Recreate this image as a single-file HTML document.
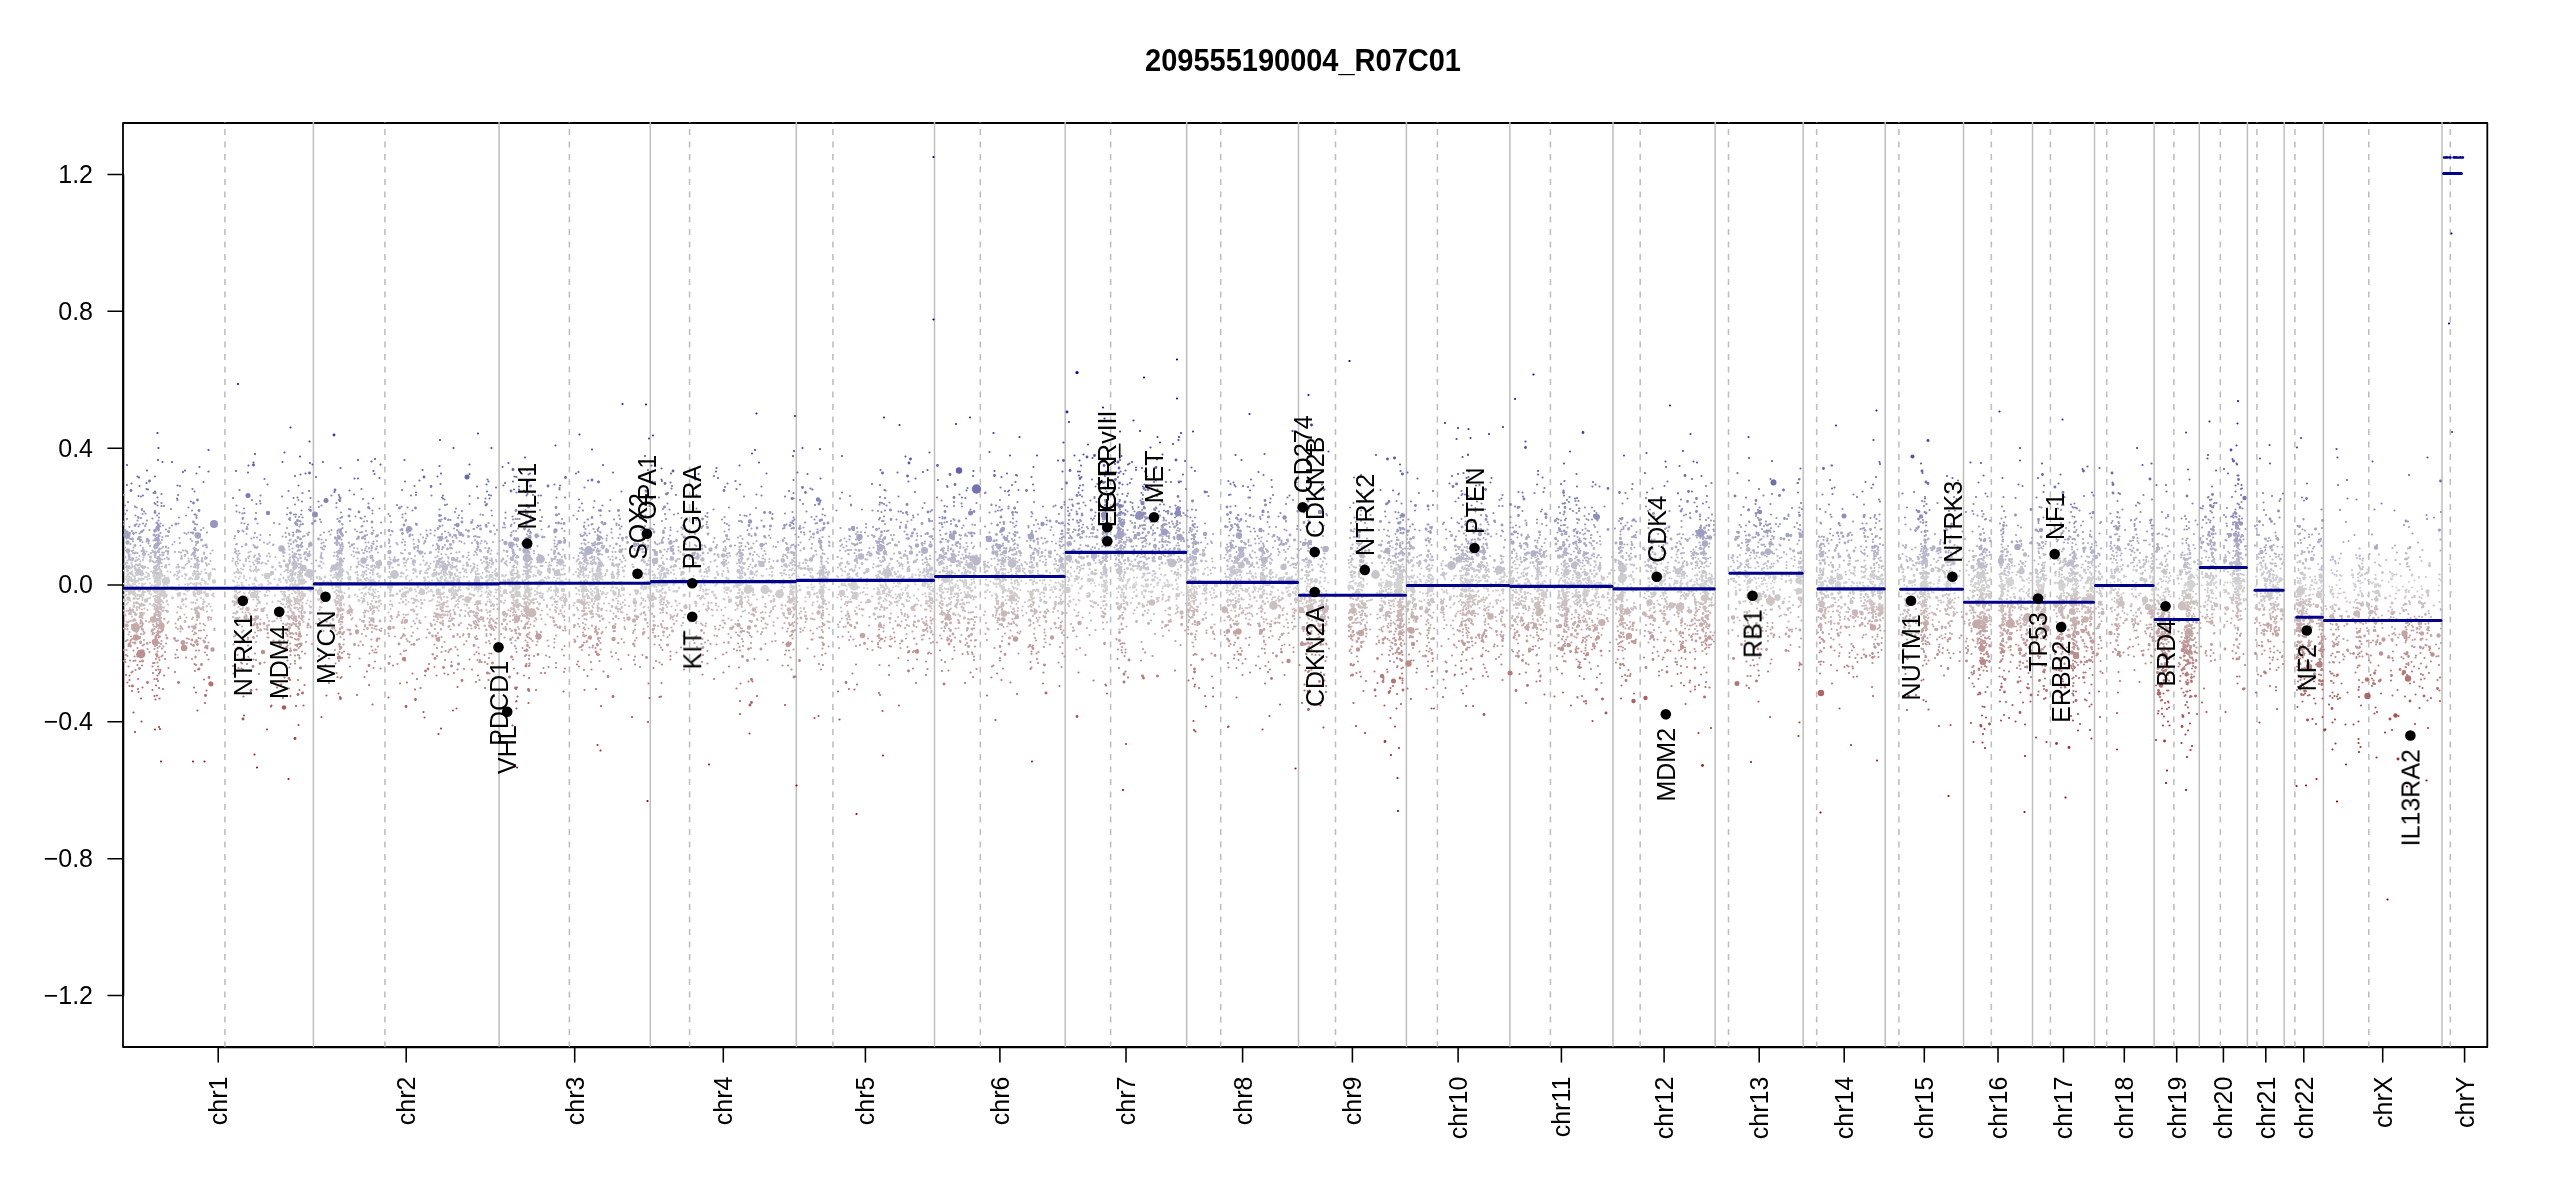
<!DOCTYPE html><html><head><meta charset="utf-8"><style>html,body{margin:0;padding:0;background:#fff;overflow:hidden}svg{display:block}text{font-family:"Liberation Sans",sans-serif}</style></head><body>
<svg width="2550" height="1200" viewBox="0 0 2550 1200">
<rect width="2550" height="1200" fill="#fff"/>
<text transform="translate(1303 70.9) scale(1 1.05)" font-size="29" font-weight="bold" text-anchor="middle" style="filter:grayscale(1)">209555190004_R07C01</text>
<defs><clipPath id="pc"><rect x="123" y="123" width="2364.3" height="924"/></clipPath></defs>
<rect x="123" y="123" width="2364.3" height="924" fill="none" stroke="#000" stroke-width="1.8" stroke-linejoin="round"/>
<path stroke="#bebebe" stroke-width="1.5" fill="none" d="M313.4 122V1047M499.1 122V1047M650.3 122V1047M796.3 122V1047M934.5 122V1047M1065.2 122V1047M1186.7 122V1047M1298.5 122V1047M1406.4 122V1047M1509.9 122V1047M1613 122V1047M1715.2 122V1047M1803.2 122V1047M1885.2 122V1047M1963.5 122V1047M2032.5 122V1047M2094.5 122V1047M2154.1 122V1047M2199.3 122V1047M2247.4 122V1047M2284.2 122V1047M2323.4 122V1047M2442 122V1047"/>
<path stroke="#bebebe" stroke-width="1.56" fill="none" stroke-dasharray="5.9 6.6" d="M224.9 1047.5V122M384.9 1047.5V122M569.4 1047.5V122M689.6 1047.5V122M832.9 1047.5V122M980.3 1047.5V122M1110.6 1047.5V122M1220.7 1047.5V122M1335.5 1047.5V122M1437.4 1047.5V122M1550.4 1047.5V122M1640.2 1047.5V122M1728.5 1047.5V122M1816.7 1047.5V122M1898.9 1047.5V122M1991.3 1047.5V122M2050.4 1047.5V122M2106.7 1047.5V122M2173.9 1047.5V122M2220.3 1047.5V122M2256.9 1047.5V122M2294.9 1047.5V122M2368.8 1047.5V122M2450.3 1047.5V122"/>
<path stroke="#000" stroke-width="1.56" fill="none" d="M123.5 174.5V995.5M107.4 174.5H123M107.4 311.3H123M107.4 448.2H123M107.4 585H123M107.4 721.8H123M107.4 858.7H123M107.4 995.5H123M218.2 1047.5H2464.6M218.2 1047V1062.6M406.2 1047V1062.6M574.7 1047V1062.6M723.3 1047V1062.6M865.4 1047V1062.6M999.9 1047V1062.6M1126 1047V1062.6M1242.6 1047V1062.6M1352.4 1047V1062.6M1458.1 1047V1062.6M1561.4 1047V1062.6M1664.1 1047V1062.6M1759.2 1047V1062.6M1844.2 1047V1062.6M1924.3 1047V1062.6M1998 1047V1062.6M2063.5 1047V1062.6M2124.3 1047V1062.6M2176.7 1047V1062.6M2223.4 1047V1062.6M2265.8 1047V1062.6M2303.8 1047V1062.6M2382.7 1047V1062.6M2464.6 1047V1062.6"/>
<g clip-path="url(#pc)">
<g fill="none" stroke-linecap="round" transform="scale(0.5)">
<path stroke="#7b7bb5" stroke-width="4.4" d="m247 990h0m30 2h0m5 1h0m4-2h0m21-5h0m4 0h0m4 9h0m8-7h0m31 9h0m2-7h0m110 6h0m55-5h0m43 2h0m23 3h0m8-1h0m10-9h0m16 10h0m42-5h0m15-1h0m1 4h0m2 2h0m27-7h0m18 9h0m20-1h0m76-6h0m10-1h0m31 1h0m21 4h0m2-4h0m0 6h0m53-5h0m17 4h0m15 1h0m7-7h0m1 7h0m3-6h0m71 0h0m2-3h0m11 2h0m11 1h0m5 0h0m31 4h0m17 0h0m28 4h0m152-6h0m8 2h0m18-9h0m16 4h0m41 0h0m95 3h0m25-4h0m10 2h0m47 2h0m17-7h0m0 11h0m93 0h0m4-12h0m16 7h0m60 2h0m10 2h0m27-3h0m77 2h0m45-6h0m5 6h0m7 1h0m39-10h0m1-1h0m47 5h0m126 9h0m16-9h0m4 3h0m25 1h0m0 2h0m14-6h0m7-3h0m25 2h0m10-1h0m9 4h0m2-5h0m27-1h0m2 12h0m1-8h0m10 8h0m9-6h0m9 0h0m7-6h0m96 6h0m41-2h0m3-1h0m36 6h0m3 0h0m41 2h0m5-7h0m29 5h0m4-4h0m67 4h0m77-8h0m74 2h0m1-2h0m40-1h0m79 10h0m6-6h0m2-2h0m5 1h0m7 3h0m5 4h0m1 0h0m60 1h0m2-7h0m41 3h0m23-7h0m59 5h0m11 3h0m11 3h0m4-1h0m97-10h0m4 11h0m37-1h0m31-2h0m33-7h0m0-1h0m6 13h0m52-7h0m78 3h0m35-4h0m17-3h0m101 1h0m20-1h0m42 1h0m7 5h0m91-7h0m45 10h0m0-3h0m58 0h0m5 4h0m39-4h0m19-7h0m4 6h0m32 1h0m24 2h0m42-1h0m56-1h0m39-2h0m19-1h0m50-5h0m3 2h0m47 2h0m129 5h0m1-1h0m47 0h0m18-4h0m8 4h0m36-8h0m18 6h0m17 6h0m5-11h0m38 8h0m91 2h0"/><path stroke="#c7b1b1" stroke-width="4.4" d="m253 1243h0m5 0h0m4-1h0m2-9h0m5 5h0m2 3h0m8-7h0m2 6h0m0 4h0m1-10h0m1 8h0m1-7h0m1 1h0m7 6h0m6 2h0m11-10h0m0 8h0m0-2h0m1-4h0m0 6h0m1-4h0m1 2h0m1 2h0m0-1h0m2-3h0m1 2h0m1-8h0m0 7h0m1-6h0m1 8h0m0 2h0m0-5h0m0 6h0m1-8h0m1 5h0m0-6h0m1 8h0m0-7h0m6 2h0m1 0h0m8 5h0m19-3h0m1-3h0m3-4h0m1 3h0m12-1h0m11 3h0m2-3h0m8 5h0m22-4h0m1 4h0m5-1h0m0-4h0m44-1h0m5 2h0m0 8h0m8-9h0m16 7h0m2-4h0m7 3h0m6 4h0m1-12h0m10 6h0m14-4h0m3 7h0m7 1h0m4-1h0m5-5h0m6-4h0m2 8h0m14-9h0m2 6h0m1-5h0m1 1h0m4 3h0m3 3h0m1-3h0m4 2h0m2 2h0m4-6h0m0-3h0m0 2h0m1 9h0m3-6h0m2 0h0m1 3h0m2-7h0m0 11h0m11-5h0m20-1h0m2 3h0m19-5h0m15-2h0m0 0h0m4 10h0m0-3h0m2-3h0m0 5h0m2-8h0m0-1h0m1-1h0m1 4h0m0 1h0m2-4h0m17 5h0m2-3h0m15 3h0m4 3h0m3 0h0m2-8h0m10 2h0m0 8h0m8 0h0m34-2h0m3-5h0m10-3h0m11 6h0m3-5h0m19 7h0m6-5h0m6 8h0m0-4h0m12-7h0m17-1h0m0 7h0m4-7h0m2 10h0m1-9h0m1 4h0m4 7h0m0-11h0m1 1h0m4 8h0m0-8h0m1 7h0m12 0h0m1-5h0m2 5h0m0-10h0m3 5h0m0 3h0m4-3h0m12-5h0m10 0h0m9 0h0m8 11h0m4-1h0m2-8h0m0 11h0m2-8h0m1 3h0m2 3h0m1-6h0m2 2h0m1-5h0m5 8h0m8-5h0m5 3h0m2-3h0m3 2h0m2 3h0m4 3h0m3-8h0m14 5h0m3-3h0m1-6h0m8-1h0m0 11h0m6-3h0m4 5h0m1-9h0m1 2h0m3 6h0m5-12h0m3 10h0m7-10h0m6 5h0m1 6h0m1-5h0m0-1h0m1-5h0m10 10h0m2-6h0m2 3h0m10-1h0m18-4h0m28 6h0m29-3h0m7-5h0m4 6h0m4 1h0m10-4h0m3-2h0m13 1h0m1 8h0m3-10h0m16 13h0m7-8h0m0 1h0m11-1h0m11-1h0m1 5h0m24-7h0m1 4h0m16 0h0m17 4h0m19 0h0m15-5h0m1-3h0m2-1h0m2 1h0m0 5h0m7 3h0m1-10h0m13 3h0m26 8h0m52-2h0m2 0h0m10-4h0m6 3h0m13 1h0m6-8h0m17 9h0m15-4h0m1 2h0m8-5h0m0 7h0m16-10h0m8 12h0m8-8h0m16-1h0m4 1h0m11-2h0m3 10h0m6-7h0m16 7h0m11-7h0m3 1h0m4 1h0m14-7h0m0 3h0m2 2h0m10 6h0m1 0h0m3 1h0m21 0h0m4-7h0m10 0h0m1 2h0m5 0h0m39-5h0m12 4h0m9-4h0m2-1h0m5 1h0m1-2h0m11 4h0m1 9h0m11-3h0m5-8h0m7 9h0m6-11h0m3 8h0m4-5h0m1-2h0m13-1h0m14 6h0m2 6h0m6-10h0m1 8h0m8-1h0m0-6h0m1 7h0m3-3h0m1-1h0m17 6h0m1 1h0m2-2h0m9-8h0m1 3h0m3 2h0m3-2h0m14 2h0m2 2h0m2-10h0m16 6h0m3 1h0m4-1h0m3 1h0m3-5h0m1 10h0m3-10h0m33-2h0m5 3h0m4 6h0m4-1h0m26-2h0m2 5h0m3-6h0m31 5h0m5-10h0m7 4h0m2 7h0m1-3h0m3-5h0m8-3h0m30 4h0m5 9h0m2-2h0m29-11h0m5 12h0m7-9h0m17 6h0m21-9h0m3 13h0m1-12h0m7 12h0m23-7h0m2-2h0m63 5h0m23 2h0m16-4h0m1 4h0m21-7h0m14 8h0m1-11h0m0 7h0m3-4h0m3-2h0m1 1h0m5 9h0m22-8h0m37 5h0m6-7h0m5 6h0m2-3h0m4 4h0m5-7h0m2 9h0m1 0h0m3-11h0m15 5h0m7 2h0m6-7h0m18 2h0m4 4h0m1 6h0m0 0h0m4-5h0m1 0h0m10 3h0m8-5h0m4 8h0m18-6h0m11 6h0m4-13h0m1 6h0m11-3h0m15-2h0m2 4h0m1 1h0m6 3h0m9 1h0m4-3h0m4-4h0m1-2h0m2 4h0m1-1h0m1-2h0m1 5h0m2-5h0m0 4h0m1 0h0m0-6h0m0 1h0m3 10h0m3-9h0m1 2h0m41-1h0m3 4h0m1-5h0m1 3h0m0-3h0m1 0h0m4 11h0m3-5h0m1-2h0m3-2h0m1 9h0m4 0h0m2-10h0m2 6h0m3-2h0m7 6h0m21-8h0m5-2h0m11 2h0m1 3h0m0-7h0m5-1h0m5 9h0m11 0h0m1-9h0m2 3h0m0 4h0m1 2h0m2-3h0m1 2h0m3-6h0m15 4h0m0 7h0m9-4h0m2-8h0m1 4h0m2-2h0m0 5h0m2-7h0m0 3h0m8-4h0m12 10h0m2-3h0m5-7h0m3 4h0m1-1h0m22-1h0m2 6h0m17 1h0m5-8h0m13 10h0m1-6h0m3 5h0m2 0h0m3-2h0m3-2h0m3-1h0m4 3h0m0-1h0m1 4h0m6-11h0m19 12h0m2-6h0m0 4h0m20-8h0m2 8h0m9-4h0m0 4h0m1 1h0m1-10h0m20 3h0m1-4h0m3 8h0m0 1h0m2 1h0m1-4h0m1 6h0m9-1h0m0-2h0m2-2h0m0-4h0m22-3h0m1 6h0m0 7h0m9-6h0m1 3h0m5-7h0m4 3h0m2 6h0m6 1h0m23-3h0m9-10h0m5 9h0m1-1h0m0-4h0m3 2h0m0-2h0m1 7h0m8-5h0m6-3h0m8-1h0m0 9h0m1 1h0m0-7h0m2 5h0m1 3h0m4-10h0m1 6h0m2-9h0m0 12h0m1-2h0m2 0h0m0-4h0m2 6h0m6-7h0m5 4h0m1 3h0m10-7h0m3 8h0m1-4h0m17 1h0m22 1h0m1-2h0m2-4h0m1 3h0m0-7h0m1 8h0m0 3h0m1-12h0m0 8h0m1-5h0m15 9h0m31-12h0m5 1h0m2 1h0m1 2h0m8 0h0m0 5h0m3 1h0m17 0h0m4-3h0m7 4h0m19-10h0m7 4h0m19 6h0m2-3h0m4-4h0m1 1h0m3 3h0m4 1h0m1-1h0m1 0h0m6-5h0m1 5h0m1 3h0m3 1h0m2 1h0m56 0h0m7-10h0m4 6h0m13-3h0m3 4h0m6-9h0m58 0h0m18 10h0m20-9h0m6 7h0m34-7h0m12 1h0m0-1h0m2 2h0m6 8h0m5-10h0m18 6h0m0-6h0m9 4h0m1-5h0m6 4h0m2 3h0m3-8h0m8 3h0m2 7h0m5-8h0m7 2h0m7 2h0m1-3h0m13 8h0m1-9h0m1-1h0m0 3h0m4 6h0m1-2h0m1-6h0m8 5h0m1 2h0m5-5h0m41 0h0m4 0h0m0 6h0m1-9h0m1-1h0m4 13h0m2-7h0m12-4h0m13 11h0m4-9h0m0-4h0m2 7h0m1-6h0m0 7h0m0-6h0m0 9h0m1-9h0m2 8h0m2-5h0m0 7h0m1-9h0m8 5h0m13 4h0m19 1h0m4-3h0m3 0h0m25 1h0m9-3h0m9-8h0m0 5h0m1-3h0m7-1h0m2 0h0m1 7h0m0-6h0m2 2h0m0 7h0m1 2h0m0-8h0m0 5h0m1-8h0m0 3h0m0 5h0m5 2h0m1-11h0m2 2h0m0-2h0m2 11h0m2 0h0m2-2h0m3-6h0m1-3h0m0 8h0m27-7h0m1 4h0m2-2h0m1 5h0m8 4h0m1-5h0m0-3h0m1 6h0m1 1h0m1-6h0m16 2h0m1-5h0m5 3h0m3 3h0m1 3h0m3-8h0m8-2h0m21-2h0m4 0h0m0 10h0m2-1h0m2-3h0m2-3h0m2 3h0m0-3h0m20 9h0m1-11h0m11 11h0m2-8h0m0-3h0m2 3h0m6 0h0m7 1h0m2 3h0m2 4h0m0-7h0m0 5h0m1 2h0m1 1h0m1-7h0m1-2h0m2 5h0m12-8h0m0 9h0m2 3h0m4-10h0m7 2h0m3 6h0m2-9h0m1 2h0m16-2h0m4 8h0m30-5h0m0 3h0m1-2h0m7-3h0m9 6h0m14 2h0m0-5h0m2 2h0m4 2h0m0-4h0m3-5h0m1 0h0m7 9h0m21-7h0m3-2h0m7 12h0m6-11h0m12 10h0m2-7h0m1 0h0m7 1h0m0 6h0m18-1h0m6-3h0m7 0h0m2-2h0m0 3h0m1-9h0m0 6h0m2 4h0m0 2h0m1-5h0m0-6h0m7 2h0m2 9h0m1 0h0m2-11h0m6 8h0m10-8h0m9 10h0m1-10h0m3 11h0m2-7h0m4 4h0m1-6h0m29 8h0m9-6h0m11-4h0m0 0h0m0 0h0m1 2h0m1-3h0m1 8h0m3-1h0m3-1h0m58-6h0m0 3h0m1 2h0m0 2h0m4-5h0m2 9h0m2-4h0m1-4h0m2 9h0m1-12h0m39 7h0m2 1h0m0-5h0m0 6h0m1 1h0m0 0h0m4-4h0m0 4h0m3-10h0m4 7h0m1-1h0m3-1h0m8-5h0m1 10h0m1-3h0m2-3h0m3 7h0m11-3h0m2 0h0m3-2h0m1 3h0m2 3h0m0 0h0m0-10h0m16 1h0m2 7h0m1-1h0m3-4h0m1-1h0m12-4h0m3 2h0m1-2h0m0 5h0m50 4h0m19 0h0m4-6h0m22 3h0m3-4h0m5 1h0m6 3h0m19 3h0m3-3h0m2 6h0m4-8h0m1 8h0m7-11h0m9 0h0m6 1h0m18 0h0m0 9h0m12-2h0m7-1h0"/><path stroke="#bfbfcc" stroke-width="4.4" d="m252 1133h0m0 1h0m0-9h0m1 7h0m0 3h0m2-9h0m2 7h0m6-7h0m1 4h0m1 4h0m4-2h0m3-3h0m2 1h0m2 1h0m2 5h0m3-13h0m1 9h0m1 2h0m2-2h0m2 3h0m9 1h0m11-12h0m1 11h0m2-10h0m1 7h0m2 0h0m0-9h0m1 0h0m1 2h0m0 5h0m1-6h0m1 5h0m0-6h0m1 12h0m1-2h0m1-9h0m1 2h0m2 0h0m1 7h0m6 1h0m2 1h0m6-6h0m15 6h0m3-6h0m8 6h0m7-5h0m3-3h0m8 6h0m6 1h0m2-5h0m0-1h0m1 7h0m3-9h0m2 5h0m2-2h0m0-6h0m7 0h0m7 3h0m1 2h0m1 3h0m4-3h0m47-6h0m6 2h0m0 4h0m2 4h0m1-9h0m2 4h0m11 2h0m1 3h0m11-9h0m2 10h0m5-8h0m2 4h0m4 5h0m2-11h0m1 4h0m8 0h0m2-2h0m6 2h0m2 1h0m26 4h0m0-7h0m0 1h0m13 6h0m5-3h0m2-2h0m1-3h0m7 0h0m3 7h0m1-8h0m1 5h0m1-2h0m4 2h0m1 7h0m2-7h0m2 2h0m0 5h0m0-3h0m0 1h0m1-10h0m20 4h0m14 5h0m4-9h0m2 1h0m4 3h0m26 1h0m1 3h0m0 1h0m3-1h0m2-5h0m1 2h0m0 5h0m1-8h0m0 1h0m0 1h0m0 8h0m0-4h0m0-8h0m1 1h0m1 6h0m0-4h0m1 5h0m2-8h0m16 11h0m15-9h0m0 4h0m0-6h0m4 6h0m3 3h0m3 2h0m1-8h0m5 9h0m0-5h0m3 0h0m9 1h0m3 0h0m4-5h0m4 8h0m3 1h0m20 1h0m0-6h0m0 3h0m3-6h0m1-1h0m2 9h0m23-9h0m2 6h0m2-7h0m13 2h0m3 3h0m13-1h0m10 1h0m2-3h0m1-2h0m4 7h0m3-5h0m7-4h0m4 11h0m5-5h0m2-5h0m0 11h0m2-10h0m2 6h0m0 2h0m1-1h0m1-7h0m0-1h0m3 6h0m0-7h0m1 8h0m1-2h0m0-1h0m1 7h0m4-4h0m1-8h0m2 7h0m0-4h0m2 3h0m1 5h0m3-3h0m0 2h0m1-7h0m1 9h0m3-1h0m2 1h0m2-3h0m3-9h0m11 8h0m14 1h0m6-5h0m2 2h0m6 2h0m9-5h0m4-3h0m3 13h0m2-11h0m1 10h0m1-6h0m2 1h0m0 1h0m2-5h0m3 8h0m2-5h0m9-6h0m10 0h0m6 3h0m2-2h0m1 4h0m1-6h0m1 9h0m6-6h0m5 8h0m0 0h0m3 2h0m0-4h0m2-8h0m1 2h0m2 10h0m2-10h0m0 1h0m0 3h0m0-5h0m13 10h0m3 1h0m0-8h0m2 7h0m0 0h0m0-5h0m1 6h0m0-2h0m0-10h0m0 11h0m0-8h0m1 8h0m0-4h0m2 2h0m0-1h0m1-2h0m1 3h0m2-5h0m1-3h0m0 11h0m2-2h0m5 0h0m4 2h0m2-10h0m6 7h0m3 0h0m1 0h0m7-7h0m5 7h0m2-2h0m0-5h0m3 6h0m12 0h0m0-6h0m7 4h0m6 2h0m0-7h0m3 7h0m23-8h0m5 5h0m2-4h0m1 8h0m0 3h0m0-8h0m2-1h0m4 3h0m3-4h0m1-1h0m2 8h0m2-6h0m6 1h0m1-4h0m4 3h0m3-3h0m6 13h0m1-4h0m1-4h0m0-2h0m0 7h0m1 0h0m0-8h0m3-2h0m1 9h0m0 1h0m1-8h0m4 6h0m0 0h0m17-1h0m2 0h0m1-1h0m1 3h0m8 2h0m7-11h0m1 1h0m1 11h0m5-3h0m15-3h0m1 5h0m1 0h0m16-12h0m12 8h0m4-1h0m9 1h0m12 3h0m2-2h0m4-4h0m0-3h0m2 4h0m19 5h0m2 0h0m3-1h0m14-8h0m2 3h0m39 1h0m9 7h0m2-1h0m3-10h0m8-2h0m5 11h0m9-7h0m8-3h0m2 5h0m4-3h0m17 2h0m5 5h0m2-7h0m2-3h0m3 4h0m0 1h0m12 6h0m3-4h0m4 6h0m7-6h0m5-6h0m2 0h0m8 9h0m0-7h0m3-2h0m8 1h0m4 9h0m0 0h0m1 0h0m4-11h0m17 11h0m8-5h0m6 3h0m3-6h0m0 2h0m3-2h0m1 5h0m0 0h0m5-6h0m6 8h0m3-6h0m0 5h0m7-5h0m6 0h0m4 6h0m25 3h0m1-12h0m1 5h0m10-5h0m3 3h0m20 9h0m3-7h0m1 3h0m2-5h0m0 1h0m2-1h0m7 8h0m3-8h0m1-3h0m2 5h0m1-1h0m13 4h0m0 4h0m3-13h0m0 3h0m1 1h0m31 9h0m1-7h0m6 5h0m7-11h0m2 2h0m0 7h0m15 0h0m2-4h0m19-1h0m1 6h0m1-2h0m3-3h0m2 3h0m0 2h0m11 3h0m2-2h0m11-9h0m2 0h0m15 4h0m4-3h0m3 11h0m1-12h0m3 4h0m2 3h0m20-1h0m1-2h0m6-2h0m1 1h0m0 8h0m7-2h0m7-2h0m1 0h0m6-8h0m6 9h0m0-9h0m0 7h0m2 1h0m2-5h0m2-2h0m0 4h0m0-4h0m0 8h0m3-8h0m1 1h0m7 4h0m2-4h0m0-3h0m1 8h0m7 5h0m2-9h0m6 4h0m0 5h0m19-5h0m0-6h0m1 10h0m0-4h0m1-7h0m3 10h0m1-2h0m2-6h0m1 9h0m1 1h0m5-4h0m7 3h0m5-5h0m1 0h0m6 4h0m1-6h0m0-2h0m2-1h0m2 4h0m1-5h0m0 9h0m10-6h0m2-4h0m5 11h0m1-4h0m4 2h0m4-8h0m1 1h0m0 8h0m0-8h0m0 1h0m4 7h0m4-4h0m1 3h0m6-7h0m3 3h0m1 1h0m5 5h0m1-8h0m1 10h0m1-12h0m1 12h0m0-2h0m1-8h0m1 5h0m1 5h0m2 0h0m7-2h0m11-9h0m6 1h0m16 4h0m4-7h0m0 6h0m4 3h0m3-8h0m5 0h0m2 6h0m8-2h0m6-4h0m2 12h0m3-11h0m9 1h0m1 8h0m2-9h0m0-1h0m1 3h0m1 8h0m4-3h0m5-1h0m0-1h0m13 0h0m10-3h0m11 2h0m3-4h0m1-2h0m1 12h0m2 0h0m1-2h0m0-3h0m20-2h0m1 5h0m3-3h0m3 1h0m1-5h0m2-1h0m2 4h0m1 6h0m0-7h0m7 0h0m11 2h0m2-6h0m9 9h0m6 1h0m5-10h0m0 11h0m4-3h0m1 2h0m2-4h0m4-1h0m1 7h0m1 0h0m11-12h0m12 7h0m12-3h0m6-2h0m2-1h0m1 5h0m17-5h0m5 11h0m0-4h0m7-8h0m6 12h0m0-3h0m11-2h0m0-4h0m1-3h0m4 5h0m0-5h0m3 4h0m17-5h0m2 1h0m2 12h0m10-12h0m1 12h0m4 1h0m25-5h0m0 2h0m2-10h0m11 3h0m1 9h0m8-2h0m1 2h0m5 0h0m2-13h0m1 11h0m12-9h0m1 10h0m2-5h0m1 3h0m3-6h0m3 8h0m9 1h0m6-5h0m1 5h0m1-10h0m1 5h0m2 3h0m2-2h0m3 5h0m7-11h0m36 0h0m1-2h0m4 8h0m3-2h0m4 6h0m23-2h0m2-8h0m4 10h0m7-5h0m13-1h0m7 1h0m2-7h0m7 5h0m45-2h0m1 9h0m3-11h0m1 6h0m4 3h0m1 1h0m4 1h0m14-10h0m3 5h0m4-3h0m11-1h0m20 0h0m5 7h0m5-7h0m7 0h0m1 7h0m1-8h0m0 8h0m3-10h0m1 4h0m1-4h0m4 1h0m1 5h0m4 1h0m0 4h0m4-12h0m1 11h0m3-4h0m2 5h0m11-8h0m2-1h0m5 8h0m2-3h0m7-4h0m4 6h0m0-8h0m3 2h0m11-3h0m1 12h0m3-3h0m2-3h0m1 1h0m6 1h0m18 0h0m0-4h0m3-5h0m5 9h0m2 0h0m13 2h0m7-6h0m10-4h0m2 10h0m0 2h0m3-12h0m3 8h0m3-1h0m1-7h0m1 0h0m6 3h0m4-2h0m9 9h0m1-2h0m2-3h0m8 2h0m1 4h0m2-2h0m3 3h0m2-9h0m1 5h0m12 4h0m13-1h0m2-8h0m3-1h0m19 10h0m0 0h0m0-1h0m2-9h0m3-3h0m2 7h0m8 1h0m18 5h0m4-10h0m0 1h0m7 6h0m7 0h0m0-3h0m1-2h0m1 1h0m7-4h0m9 9h0m22 0h0m8-5h0m5 3h0m3-4h0m0 2h0m3 5h0m1-7h0m1 6h0m2-1h0m11 0h0m3-3h0m0-1h0m1-2h0m0 1h0m5-4h0m1 9h0m2-7h0m4 8h0m0-7h0m4 5h0m6-5h0m2-2h0m0 3h0m4 3h0m8 4h0m0-12h0m2 2h0m1 6h0m8-4h0m31-2h0m7 10h0m2-3h0m2 3h0m11-5h0m8 0h0m3 0h0m4 2h0m0-1h0m22-6h0m1 8h0m2-2h0m3 0h0m1-7h0m10 2h0m1 1h0m3 9h0m0-9h0m3 3h0m9-2h0m8 8h0m4-2h0m1-8h0m21 0h0m1 0h0m3 11h0m3-2h0m1-3h0m1-6h0m0 2h0m1 6h0m7-9h0m1 4h0m16-3h0m1-1h0m0 7h0m2 0h0m0-8h0m1 4h0m3 9h0m2-14h0m2 11h0m1-9h0m1 2h0m4 9h0m1-9h0m1-1h0m3-2h0m0 9h0m4 1h0m4-6h0m41 6h0m6-8h0m7-3h0m2 12h0m2 0h0m2-8h0m0 1h0m0 4h0m2-3h0m7 6h0m2-5h0m1-6h0m0-1h0m2 8h0m1 3h0m1 2h0m0-7h0m4 7h0m13-11h0m2 2h0m1 7h0m10-4h0m3-2h0m1 0h0m3 5h0m7 2h0m2-6h0m3 5h0m2-6h0m8-4h0m17 7h0m0 6h0m0-12h0m14 8h0m10 3h0m1-8h0m0-4h0m2 4h0m4 8h0m46-9h0m0 2h0m8 2h0m4-5h0m3 5h0m14 0h0m0 4h0m20-12h0m24 12h0m2 0h0m3 0h0m3-3h0m17-1h0m0-3h0m5-1h0m1-1h0m4 10h0m0-5h0m5 3h0m3-1h0m36 0h0m1-3h0m12-6h0m11 7h0m3 1h0m9-4h0m1-3h0m6 6h0m1-3h0m6 2h0m0-3h0m0 4h0m0 5h0m0-2h0m10-3h0m9 5h0m2-11h0m11 11h0m1-3h0m7-10h0m0 3h0m1-1h0m1 1h0m1 5h0m6 0h0m2-1h0m31 1h0m4-7h0m16 5h0m3-4h0m0-1h0m2 0h0m3 6h0m2-3h0m1 7h0m2-6h0m4-2h0m1 9h0m1-2h0m1-3h0m7-1h0m21 7h0m1-4h0m0-8h0m1 7h0m1-7h0m9 10h0m5 1h0m4-11h0m0 0h0m1 8h0m5 1h0m9-3h0m5-4h0m7 7h0m1-9h0m26 5h0m7 2h0m2-4h0m2 5h0m2-6h0m18 3h0m11-1h0m2-3h0m0-2h0m5 2h0m1 9h0m2-3h0m2-2h0m2 0h0m2 4h0m1-7h0m2 6h0m2-9h0m2 7h0m1-1h0m1-2h0m1 6h0m1 1h0m1 2h0m2-12h0m0 9h0m4 0h0m1-2h0m2 1h0m7 4h0m2-6h0m11 4h0m4 2h0m3-8h0m2 4h0m7 3h0m5-2h0m3-4h0m25-3h0m9 1h0m1 7h0m6 0h0m5-3h0m16-4h0m4-1h0m2 8h0m6-2h0m5-6h0m7 8h0m1-1h0m0 2h0m5-10h0m5-1h0m4 10h0m3-5h0m2-1h0m9 8h0m5-7h0m0 8h0m3-11h0m1 5h0m0-1h0m7 4h0m1-10h0m3 6h0m0 2h0m34 1h0m1-7h0m0 2h0m5 7h0m1 2h0m3-7h0m17-1h0m17 8h0m7-2h0m2-3h0m2 2h0m4-9h0m3 3h0m3 6h0m15-7h0m15 5h0m2 3h0m7-1h0m1-1h0m1-2h0m0 5h0m2-5h0m1 3h0m4-4h0m0-3h0m33 3h0m0 0h0m8 2h0m2 4h0m1-13h0m5 6h0m0 4h0m10-6h0m3 2h0m1-1h0m5 0h0m0 5h0m1-5h0m2 5h0m11-4h0m2-3h0m29 0h0m17-3h0m24 6h0m7 7h0m1-3h0m27-8h0m0 3h0m6-1h0m41 5h0m1 2h0m5-6h0m2 7h0m24-9h0m8 4h0m3 3h0m39-4h0m14 5h0m0-5h0m1-2h0m3 7h0m25-11h0m16 4h0m40 3h0"/><path stroke="#ba8989" stroke-width="4.4" d="m248 1322h0m2-3h0m1 5h0m9-3h0m7 1h0m4-1h0m9 2h0m26 3h0m3 0h0m3-8h0m3 7h0m3-10h0m1 5h0m11-2h0m21-2h0m5-1h0m16 0h0m12 3h0m7-3h0m26 4h0m65 6h0m2 2h0m1-10h0m22 2h0m5 1h0m17 5h0m46-4h0m15 6h0m0-5h0m9-5h0m0-2h0m59 2h0m13 10h0m7-5h0m6-6h0m14-1h0m21 2h0m31 6h0m60-2h0m80-1h0m13 4h0m36-5h0m16 1h0m4 4h0m1-4h0m3 4h0m7 0h0m8-8h0m48 3h0m32-1h0m1 9h0m40-13h0m13 12h0m44-3h0m26 1h0m17-2h0m38-3h0m31 1h0m44 2h0m7 3h0m22-6h0m63 5h0m11 3h0m16-10h0m78 1h0m26 2h0m46-5h0m216 1h0m19 5h0m18-2h0m18 4h0m31-3h0m7 4h0m15-6h0m43 2h0m52-4h0m0 5h0m61 3h0m13-6h0m2 8h0m41-1h0m118-7h0m47 3h0m174 5h0m12-9h0m9 3h0m14-2h0m46 6h0m28 1h0m86-3h0m2-8h0m63 9h0m64-1h0m8 2h0m6-8h0m0 1h0m6 1h0m1 2h0m21 1h0m5 0h0m29 2h0m9-1h0m1-5h0m25 6h0m2 2h0m29-3h0m11-2h0m12-3h0m47 1h0m6-4h0m54 12h0m0 1h0m25 0h0m51-5h0m3 1h0m22-4h0m4 4h0m3 2h0m9-7h0m2 0h0m8 7h0m53 0h0m3-7h0m12-1h0m41-2h0m37 4h0m2-4h0m24 9h0m0-7h0m3 7h0m9-8h0m8 2h0m19 0h0m103 5h0m13-3h0m13-4h0m22 11h0m2-8h0m56 6h0m39-1h0m4-1h0m5 1h0m52-10h0m12 2h0m4 8h0m8-8h0m9-2h0m13 12h0m12-12h0m54 0h0m18 0h0m20 7h0m2-7h0m1 0h0m5 7h0m13-5h0m31 0h0m18 6h0m41-1h0m0 1h0m1-6h0m4 1h0m0-1h0m3 10h0m0 1h0m6-6h0m26 3h0m2-3h0m1 1h0m2-4h0m16 6h0m25 2h0m8-4h0m23 5h0m1-11h0m43 0h0m0 11h0m0-10h0m2 1h0m6 9h0m17-6h0m4 2h0m1-9h0m2 11h0m3-10h0m13-1h0m1 10h0m10-4h0m4-6h0m1 10h0m16-2h0m90 5h0m11-2h0m16-6h0m12 7h0m1-11h0m2-1h0m0 6h0m2 5h0m1-1h0m2-6h0m20 8h0m2-11h0m2 1h0m6 4h0m3 1h0m1 0h0m2 2h0m6-8h0m6 5h0m36 2h0m8-2h0m36-3h0m12 1h0m1-4h0m60 1h0m1 12h0m5-7h0m1-5h0m9 4h0m9-5h0m29 2h0m3 11h0m0-12h0m3 10h0m1-8h0m6-2h0m5 7h0m7 3h0m5-3h0m16-3h0m0-1h0m1 6h0m0-2h0m1-4h0m4-4h0m14 11h0m7-1h0m2 1h0m3-11h0m8 11h0m8-6h0m26-5h0m0 2h0m25 5h0m3 4h0m35-10h0m0 0h0m3 0h0m6 1h0m1 5h0m17-7h0m4 3h0m10 9h0m6-2h0m8-9h0m11 12h0m7-11h0m13 7h0"/><path stroke="#d1cccc" stroke-width="4.4" d="m250 1180h0m3 9h0m1-12h0m4 7h0m0 5h0m2-2h0m1-7h0m4 6h0m0-9h0m5 13h0m0-11h0m2 0h0m5 1h0m1-1h0m0 4h0m1-1h0m1-1h0m0 9h0m1-11h0m1 11h0m1-12h0m1 0h0m0 11h0m1-4h0m1-3h0m0 2h0m3 0h0m1 0h0m9 3h0m3 2h0m7-10h0m3 2h0m1 2h0m0 2h0m1-3h0m1-5h0m1 11h0m0-5h0m0-6h0m0 1h0m1 5h0m2-2h0m1 9h0m4-1h0m4-3h0m24-6h0m3 8h0m2-9h0m3 7h0m8 2h0m3 1h0m4-6h0m3-3h0m9 4h0m0 5h0m3-9h0m7 3h0m11-6h0m4 2h0m6-1h0m3 2h0m6 7h0m44-4h0m4 3h0m3-1h0m2-2h0m8 3h0m0-9h0m1 10h0m9-1h0m2-4h0m4 7h0m2-10h0m3 2h0m1 3h0m0 3h0m2-4h0m0-5h0m2 12h0m1-6h0m0-2h0m0 4h0m5-3h0m13 1h0m1-4h0m3 0h0m0 0h0m2 2h0m6-4h0m17 5h0m3 5h0m0-5h0m5 7h0m7-9h0m2 9h0m0-10h0m3-2h0m1-1h0m1 10h0m3-6h0m3 3h0m1 2h0m1-1h0m3-5h0m2 6h0m0-3h0m0-3h0m0 8h0m1-8h0m0-1h0m0 6h0m1-7h0m0 12h0m1-4h0m0 0h0m1-9h0m3 6h0m0 7h0m0-3h0m1-2h0m11-5h0m4 1h0m1 2h0m1-2h0m2-3h0m8 2h0m19 5h0m14-8h0m4 7h0m1 0h0m3-4h0m0 8h0m3-6h0m2-1h0m0 4h0m2-1h0m1-4h0m2 5h0m6 1h0m9-8h0m12 12h0m1-1h0m8-10h0m4 7h0m1 0h0m3-9h0m10 8h0m2 3h0m3 1h0m2 0h0m1-2h0m0 2h0m1-10h0m1 3h0m3 3h0m1-6h0m5 4h0m24 2h0m1-4h0m0 3h0m24-6h0m1 9h0m2-2h0m8 0h0m14-6h0m2 4h0m6 3h0m4-9h0m0 2h0m11 7h0m4-3h0m8 1h0m8-1h0m2 5h0m1-4h0m4 5h0m0-9h0m1 5h0m2 3h0m2 0h0m1 0h0m2-3h0m12-1h0m3 6h0m1-4h0m2-2h0m1-3h0m0 9h0m1-2h0m5 1h0m5-11h0m3 2h0m22 9h0m2 1h0m4-10h0m7 3h0m7 0h0m0 7h0m8-5h0m2-2h0m3 6h0m1-3h0m2-5h0m1 8h0m11-10h0m1 6h0m2-5h0m3-2h0m3 4h0m8 4h0m6 1h0m11-4h0m0-2h0m1-4h0m1 3h0m1 1h0m5 8h0m1-1h0m4-11h0m11 12h0m1-1h0m2-3h0m0-6h0m2 1h0m0 3h0m1-4h0m1 4h0m0-3h0m0-3h0m1 10h0m1-3h0m0 0h0m0 1h0m1 2h0m0 0h0m1-7h0m2 7h0m1-8h0m0-2h0m7 13h0m0-8h0m4 6h0m0-4h0m4 2h0m3-1h0m1 2h0m4 1h0m9-5h0m7-2h0m6 0h0m2 0h0m1 3h0m1 4h0m4-3h0m10-7h0m1 10h0m0 2h0m4 0h0m22-2h0m6 1h0m5-6h0m2 5h0m6-6h0m0-3h0m1 0h0m1 0h0m3 3h0m4 3h0m1-7h0m1 11h0m1-2h0m1-5h0m4-5h0m0 8h0m2-8h0m4 5h0m1-1h0m2 8h0m3-7h0m5 2h0m2 2h0m4 3h0m3-3h0m7-5h0m16 4h0m0-5h0m9 10h0m13-1h0m9-8h0m1 0h0m3 4h0m8 2h0m6-8h0m9 11h0m3-13h0m14 3h0m1 3h0m4 1h0m2-3h0m1 9h0m1-8h0m2-3h0m1 7h0m1-9h0m4 8h0m0 0h0m9-5h0m8 3h0m2-1h0m6 0h0m15 7h0m30-8h0m6-2h0m1 4h0m9 5h0m1-9h0m32 5h0m3-4h0m2 6h0m22 0h0m2 0h0m2-7h0m10 2h0m1-1h0m2 5h0m5-4h0m8 0h0m0 4h0m0 5h0m3-1h0m22-11h0m33 4h0m16 6h0m2-8h0m0 4h0m3 5h0m0-11h0m3-1h0m30 9h0m2 4h0m5-11h0m9 7h0m6-6h0m1 4h0m2 6h0m0-8h0m1 2h0m0 6h0m2-5h0m12-6h0m19 10h0m17-10h0m9 5h0m3 2h0m2-7h0m13 7h0m5-1h0m1-1h0m4 5h0m4 0h0m13-11h0m6 9h0m2-8h0m0 0h0m0 5h0m0 5h0m1-4h0m1-5h0m1 4h0m1 4h0m5-6h0m0 5h0m1-4h0m2-3h0m0 3h0m1 3h0m5 2h0m3-4h0m1-6h0m0 11h0m0 2h0m1-9h0m1 3h0m3-4h0m8 8h0m6 0h0m4-1h0m2-9h0m2 11h0m1-4h0m5-6h0m26-1h0m8 10h0m5-2h0m9 1h0m0-2h0m0-8h0m2 9h0m1 1h0m1-7h0m3 0h0m0 2h0m1-5h0m7 9h0m5-8h0m1 3h0m4-3h0m0 5h0m1 2h0m2-1h0m5-7h0m3 6h0m7-4h0m1 4h0m0-2h0m0 6h0m11-1h0m2 3h0m1-3h0m2-7h0m1-1h0m2 7h0m7-2h0m2 4h0m4 1h0m1-1h0m0-4h0m3 6h0m2-10h0m2 3h0m2-2h0m30-1h0m5 4h0m26-3h0m0 5h0m0-2h0m0-1h0m1 2h0m1-5h0m8 2h0m2-4h0m10-1h0m1 8h0m2 2h0m3-9h0m1 0h0m6 2h0m15 3h0m4 5h0m2-2h0m3 4h0m3-10h0m0 0h0m3 2h0m6-2h0m0 3h0m3 5h0m3-3h0m4 0h0m1 2h0m13-7h0m2 0h0m3 4h0m4-6h0m15-1h0m0 10h0m12-4h0m0-5h0m20 8h0m18 1h0m3-1h0m2 3h0m7-6h0m20 0h0m0-3h0m1 3h0m1 0h0m2 0h0m1-3h0m1-1h0m1 8h0m20-10h0m3 7h0m5 6h0m2-5h0m3 2h0m0 3h0m1-4h0m5-8h0m15 6h0m5-4h0m11 4h0m0 4h0m4-7h0m1 0h0m9 2h0m7 0h0m19 0h0m22-5h0m7 10h0m0-10h0m2 10h0m0-9h0m4 9h0m4-3h0m4 5h0m8-1h0m0-4h0m1-5h0m1 10h0m1-5h0m2-6h0m3 6h0m1-7h0m0 10h0m5-5h0m0-3h0m1 6h0m1-2h0m2 0h0m0 2h0m1-9h0m0 11h0m11-1h0m4 1h0m2-5h0m2 3h0m7-2h0m2 6h0m3-13h0m3 9h0m0-6h0m25 0h0m1 5h0m2-4h0m3 9h0m1-8h0m1-1h0m1 6h0m0-4h0m4 5h0m1 1h0m5-7h0m0 2h0m5-2h0m1 7h0m6-11h0m1 3h0m1 0h0m12 7h0m12-7h0m0-1h0m6 3h0m7-5h0m2 6h0m1 5h0m1-2h0m2 0h0m5 1h0m8-5h0m2 1h0m12-4h0m18 4h0m3-3h0m9 3h0m0 2h0m4 1h0m1-4h0m1 1h0m0 6h0m1-12h0m0-1h0m2 2h0m12 8h0m2 0h0m4-7h0m1 2h0m0 8h0m4-6h0m4 3h0m0-6h0m3 6h0m5-4h0m6 0h0m4-1h0m3 3h0m2 5h0m3-13h0m3 11h0m1-6h0m1 5h0m45-8h0m8 8h0m0 3h0m5-4h0m3-6h0m3-1h0m4 0h0m0 11h0m3-9h0m30 5h0m3 4h0m2-8h0m2 4h0m1-9h0m2 5h0m3 0h0m5-3h0m0 3h0m3 4h0m1-1h0m1-7h0m0 8h0m1-9h0m3 8h0m1-6h0m1 6h0m5 3h0m7-4h0m1-5h0m1 11h0m0-1h0m3-1h0m0-4h0m0 5h0m1-4h0m1 4h0m3 1h0m2 0h0m1-6h0m9-3h0m4-4h0m1 3h0m1-1h0m0 3h0m0-5h0m0 13h0m2-11h0m1 10h0m14-5h0m6 3h0m6 0h0m4-2h0m1-4h0m10 7h0m17-9h0m9 1h0m0 4h0m2 3h0m27-8h0m0 8h0m0-1h0m2-5h0m0 9h0m1-12h0m0 10h0m0-10h0m7 12h0m1-11h0m0 4h0m4-2h0m0 0h0m2 6h0m2 3h0m0-8h0m3 0h0m0 0h0m1-2h0m2 3h0m8 1h0m2-3h0m0 1h0m16-5h0m3 5h0m0-4h0m2 12h0m8-8h0m6-1h0m4 0h0m3 9h0m4-10h0m3-2h0m0 5h0m0 4h0m1-7h0m15-3h0m4 3h0m0 1h0m3 3h0m3-5h0m6 10h0m3-7h0m1 2h0m2-6h0m6 11h0m5-3h0m2-1h0m4 3h0m9-10h0m4 5h0m1 0h0m0-4h0m1 3h0m3 5h0m0 2h0m2-9h0m2 1h0m2-1h0m2 2h0m7-3h0m24 9h0m6-8h0m2 3h0m0 4h0m0 2h0m0-7h0m1-1h0m0 4h0m3 2h0m1-1h0m0 4h0m3-12h0m1-1h0m3 7h0m1-7h0m6 10h0m7-3h0m0-3h0m1-2h0m2 6h0m3-1h0m2 7h0m7-6h0m1 4h0m1-1h0m0-10h0m1 8h0m0-9h0m2 13h0m1-8h0m3-5h0m2 5h0m0-5h0m7 1h0m6 1h0m1 8h0m0 1h0m2-11h0m0 1h0m0 9h0m0-4h0m2-5h0m10 12h0m10-5h0m13 0h0m0 0h0m3-7h0m11 9h0m1-4h0m1 4h0m0 1h0m5-3h0m2-6h0m11 0h0m3 4h0m6-3h0m18 7h0m2-8h0m2 4h0m3-1h0m5 4h0m18-8h0m5 7h0m5-1h0m1-4h0m0-2h0m1 9h0m1-7h0m1 0h0m21 4h0m4-1h0m3-1h0m4 8h0m3-4h0m4-9h0m2 3h0m2 8h0m2-1h0m7 3h0m1-9h0m1 6h0m2-9h0m3 4h0m7-5h0m1 10h0m5-3h0m4 3h0m0-9h0m1 13h0m1-6h0m2 4h0m1-11h0m0 7h0m1 3h0m1 0h0m3-7h0m6 7h0m46-6h0m23-2h0m3 8h0m1 1h0m4-9h0m18 7h0m1 3h0m4-2h0m1-5h0m1 2h0m3 5h0m4-10h0m12 6h0m0-2h0m0 0h0m1 4h0m12-9h0m30 1h0m3 4h0m1 4h0m8-8h0m2 2h0m36 3h0m2 1h0m1-4h0m3 5h0m2 1h0m5-5h0m10 6h0m1-2h0m13-1h0m0-9h0m2 5h0m2 3h0m11-6h0m15 7h0m14-3h0m2-1h0m5 0h0m2-3h0m1 11h0m1-3h0m3 2h0m9-7h0m1-4h0m0 9h0m1-1h0m0 1h0m2-8h0m0-1h0m1 5h0m1 6h0m0-12h0m6 10h0m3-1h0m1 2h0m2-2h0m2 1h0m1-3h0m48 3h0m2-8h0m1 7h0m0-5h0m2-2h0m1 9h0m6 0h0m3-1h0m1-8h0m2 6h0m1-3h0m13 3h0m1-7h0m1 11h0m1-3h0m0-6h0m0 7h0m0 1h0m1-3h0m1 0h0m0-5h0m0 2h0m1 8h0m3-11h0m1 3h0m1 5h0m2-6h0m0 7h0m6-4h0m3 1h0m18-3h0m5 8h0m3-2h0m4-8h0m2 8h0m1-7h0m9 6h0m3-7h0m28 1h0m5 3h0m1 1h0m4-3h0m4-2h0m1 10h0m4-9h0m2-3h0m0 12h0m2-10h0m0 4h0m1 6h0m0-4h0m3-6h0m2 2h0m1-4h0m3 12h0m3-8h0m4 1h0m23 0h0m1-4h0m1 10h0m0-1h0m0-9h0m2-1h0m1-1h0m2 1h0m5 12h0m13-2h0m11-6h0m2-3h0m3-1h0m3 5h0m6 3h0m3 4h0m1-8h0m1-2h0m0 7h0m0-9h0m11 10h0m3-7h0m4 5h0m1 0h0m1-6h0m1 2h0m7 4h0m0-7h0m4 10h0m0 1h0m30-12h0m2 10h0m1-1h0m4-5h0m1 4h0m0 5h0m6-5h0m1 0h0m3 2h0m6-9h0m3 0h0m0-1h0m0 9h0m1-9h0m0 5h0m1 6h0m2-8h0m1-3h0m2 5h0m3 3h0m16 4h0m1-8h0m2 6h0m1-6h0m0 1h0m3 6h0m1-1h0m0-11h0m0 12h0m2-7h0m0-5h0m4 7h0m7 0h0m5-3h0m1 5h0m1-4h0m2 5h0m18-4h0m3-3h0m3 0h0m2 0h0m2-2h0m2 8h0m1 4h0m1-5h0m1-1h0m0 2h0m2-8h0m5 11h0m4-3h0m17 2h0m0-10h0m7 1h0m8 8h0m2 0h0m23 2h0m11 1h0m2-11h0m10 6h0m4-7h0m0 6h0m1-6h0m0 5h0m6 6h0m27-7h0m0 5h0m1-5h0m3-1h0m2 2h0m1 4h0m0 1h0m5-1h0m2-9h0m1 2h0m6 3h0m6 5h0m18-9h0m5 2h0m0 4h0m6-4h0m2 1h0m0 4h0m3 1h0m0-1h0m22-6h0m1 5h0m3-5h0m15 9h0m2-5h0m1 0h0m2 0h0m0 5h0m1-2h0m2-5h0m1-3h0m0 3h0m0 0h0m1 2h0m0 4h0m3 1h0m0-10h0m5 4h0m1-3h0m1 3h0m22 7h0m4-7h0m0 5h0m7-5h0m2 4h0m8-1h0m7-4h0m4-3h0m1 0h0m0-1h0m3 7h0m15 5h0m5-6h0m28-2h0m2 8h0m1-10h0m1 7h0m1-4h0m1 1h0m3-5h0m1 2h0m2 3h0m1-2h0m0 3h0m1 1h0m1-8h0m0 3h0m0-1h0m2-3h0m2 1h0m7 1h0m1 10h0m1-10h0m5 10h0m2-11h0m8 5h0m1-6h0m2 13h0m2-7h0m1 0h0m6 7h0m13-7h0m0 2h0m3 4h0m1-10h0m12 8h0m3-10h0m1 10h0m6-2h0m2 0h0m20-5h0m12 2h0m2 4h0m1 2h0m22-5h0m4 1h0m0-1h0m1 3h0m41 1h0m4-6h0m3-1h0m12 1h0m1 3h0m1-5h0m4 5h0m1-2h0m17 1h0m9-5h0m1 12h0m11-4h0m0 1h0m21-6h0m25 3h0"/><path stroke="#bc8f8f" stroke-width="4.4" d="m248 1300h0m4 10h0m3 2h0m12-11h0m2 12h0m5-4h0m1 4h0m0-6h0m2-5h0m8-1h0m2 0h0m12 3h0m15 9h0m1-2h0m0-8h0m8 10h0m2-2h0m5-7h0m21 5h0m3-9h0m37 13h0m1-12h0m6 0h0m12 4h0m4 5h0m61 0h0m22 4h0m13-7h0m62 7h0m9-4h0m9 1h0m3-11h0m3 10h0m2 1h0m6-8h0m6 4h0m28 5h0m38-4h0m3-4h0m5 2h0m4-3h0m8 5h0m3 1h0m40-2h0m6-6h0m4 4h0m4 0h0m27 8h0m21-5h0m7-6h0m4-1h0m53 7h0m1 1h0m8 3h0m9-8h0m8-2h0m6 2h0m2-4h0m17 11h0m33-2h0m4-5h0m5 3h0m11 3h0m10-3h0m4 0h0m50-3h0m16-3h0m1 11h0m2-2h0m0-8h0m3-1h0m3 10h0m10 1h0m24-1h0m36 0h0m50-1h0m19 0h0m1-1h0m24-5h0m2 9h0m8-7h0m25 4h0m13 3h0m15-3h0m40-10h0m16 3h0m0 9h0m12-7h0m44 8h0m9-3h0m9-8h0m31 7h0m7-4h0m21-4h0m6 0h0m90 8h0m2-8h0m6 0h0m51 12h0m15-3h0m7-3h0m165-2h0m10-1h0m2-2h0m7-2h0m21 7h0m2-2h0m4 2h0m18-6h0m29 0h0m16 7h0m10-4h0m1 4h0m8-3h0m1 3h0m3 5h0m54-10h0m35 4h0m26 1h0m0-5h0m10 4h0m4-3h0m48 3h0m4 6h0m42-3h0m73-5h0m5 7h0m2-7h0m39 0h0m15 7h0m82-2h0m3-2h0m3 1h0m30-2h0m46 3h0m6-7h0m2 5h0m7-6h0m33 11h0m13-7h0m16 0h0m41-2h0m25 4h0m1 0h0m1-8h0m10 9h0m4-7h0m3 8h0m3-6h0m5 6h0m5 3h0m3-10h0m52-1h0m4 4h0m11 7h0m50-4h0m14 1h0m2-9h0m6 7h0m5-2h0m3-6h0m0 4h0m6 2h0m0 0h0m1 1h0m2-5h0m1 2h0m1 6h0m13-1h0m21-6h0m7 9h0m7-11h0m5 2h0m5-3h0m41 11h0m20-2h0m2-5h0m36 8h0m2 1h0m1-4h0m7-8h0m5 2h0m25 6h0m24-6h0m6 9h0m3-6h0m1 5h0m2-9h0m8 8h0m12-7h0m15 8h0m1-2h0m40 3h0m11 1h0m4-6h0m22-2h0m1-3h0m3 3h0m8-2h0m5 4h0m3-6h0m1 10h0m1-3h0m3 2h0m27 1h0m16-9h0m18-2h0m8 1h0m60 5h0m10-3h0m2 9h0m13-7h0m11-3h0m17-1h0m11 3h0m1-4h0m1 3h0m9 2h0m11-2h0m14-1h0m8 6h0m107-2h0m57-4h0m62 3h0m2-4h0m2 2h0m26-2h0m9 11h0m1-6h0m20 0h0m5-5h0m11 8h0m13 0h0m12 2h0m9 2h0m7-8h0m51 3h0m41-6h0m0 2h0m3 7h0m28-7h0m6 2h0m10-6h0m3 6h0m9 1h0m13-3h0m14 2h0m2-4h0m7 6h0m19-1h0m6 2h0m6-6h0m1 5h0m1 0h0m30 4h0m3-10h0m12-2h0m2 9h0m3 2h0m19 1h0m7-5h0m11-6h0m13 11h0m4 1h0m30-5h0m13 0h0m2-4h0m13 5h0m4-4h0m6 2h0m1-1h0m1 1h0m0-1h0m2 0h0m2 3h0m2-3h0m17-4h0m14 2h0m6 7h0m33-7h0m9 6h0m1-3h0m1-4h0m2 7h0m1 3h0m1-2h0m6-6h0m10 5h0m11 3h0m15-11h0m4-1h0m15 10h0m2 2h0m6-13h0m7 13h0m8-2h0m3-10h0m2 11h0m0-6h0m5 7h0m5 0h0m25-13h0m4 6h0m1 5h0m2-8h0m1 3h0m1-6h0m2 6h0m0-4h0m3 0h0m0 10h0m0 0h0m1-7h0m1-4h0m2 2h0m11 3h0m17 0h0m1-4h0m1 9h0m8 1h0m1-12h0m5 6h0m38-4h0m7 4h0m15 2h0m37 0h0m5-7h0m12 2h0m7 2h0m7-4h0m5 4h0m5 7h0m29 1h0m1-4h0m1 2h0m8-11h0m2 6h0m3 1h0m10 1h0m19-7h0m5 7h0m1 3h0m0 1h0m1-7h0m17 6h0m3-4h0m9-3h0m4 0h0m8 5h0m3 4h0m7-11h0m5 5h0m15 2h0m3 4h0m0-7h0m4-3h0m2 10h0m8-6h0m1 2h0m8 2h0m35 1h0m9-9h0m23 4h0m3 2h0m1-3h0m1-2h0m1 4h0m0-3h0m17 6h0m9-5h0m18-6h0m2 5h0m12 8h0m4-1h0"/><path stroke="#be9696" stroke-width="4.4" d="m253 1300h0m4-8h0m0-3h0m18 7h0m10-5h0m3-2h0m7 9h0m0-10h0m14 10h0m1-6h0m3-4h0m1 2h0m1 6h0m3-10h0m1 7h0m3-5h0m2 9h0m3-4h0m5-6h0m32 11h0m5-3h0m4 1h0m9-8h0m1 1h0m27 6h0m2-3h0m3 0h0m52-3h0m9 6h0m6 4h0m14-8h0m66-1h0m13 1h0m5-4h0m1 10h0m10-7h0m3 2h0m1-3h0m2 7h0m1-8h0m2 5h0m1-6h0m1 3h0m1-3h0m0 3h0m21-2h0m46 12h0m9-7h0m1 5h0m7-9h0m30 2h0m9-1h0m17 3h0m8 6h0m5-6h0m67-4h0m46 0h0m5 7h0m10-2h0m18 4h0m9-4h0m4 5h0m13-10h0m29 6h0m23-8h0m50 5h0m2 5h0m13-1h0m8 3h0m1 0h0m5-4h0m14-5h0m24 2h0m11 3h0m16 4h0m5-7h0m30 3h0m3-1h0m2 6h0m15-5h0m6 0h0m1-4h0m5 5h0m3-8h0m7 11h0m68-7h0m40-3h0m10 1h0m3 5h0m40 0h0m32-1h0m9 3h0m0-9h0m18 0h0m12 1h0m35 9h0m8-11h0m3 7h0m7-2h0m16 4h0m29-8h0m48 1h0m8 10h0m28-2h0m30 0h0m12-4h0m21 3h0m34-4h0m8-2h0m15 8h0m10 2h0m11-11h0m1 5h0m4 2h0m18-4h0m3 1h0m18-6h0m1 9h0m14-2h0m18-6h0m75 6h0m23-4h0m19 3h0m39 3h0m68-2h0m7 0h0m1 1h0m1-4h0m22 3h0m12-5h0m20 5h0m33 5h0m7-3h0m76 3h0m5-11h0m2 12h0m1-6h0m1-8h0m4 1h0m2 12h0m35-1h0m75-8h0m26 3h0m71-1h0m3-4h0m7 2h0m13 6h0m17-6h0m26 7h0m5 1h0m2-9h0m31 9h0m2-7h0m5-2h0m10 1h0m8 5h0m22-6h0m8 7h0m3-8h0m3-2h0m0 13h0m2-8h0m16-1h0m1-2h0m4 1h0m6-2h0m1 2h0m5 8h0m43 2h0m3-6h0m18-1h0m1 2h0m30-6h0m28 5h0m3 4h0m17-8h0m1-3h0m1 6h0m6-4h0m17 8h0m28-4h0m6 5h0m23-5h0m25-3h0m1 2h0m4 4h0m15-5h0m1 0h0m1-3h0m5 8h0m4 0h0m6-4h0m6-5h0m15 10h0m22-3h0m1-4h0m6 3h0m10 0h0m19 8h0m12-13h0m27 12h0m3-6h0m0 6h0m5-7h0m7 4h0m32-5h0m7 5h0m8-3h0m2-3h0m3-3h0m0 5h0m10-1h0m11 8h0m2-2h0m0-3h0m4 3h0m14-1h0m1-6h0m12 9h0m2-7h0m1-1h0m2 6h0m47-9h0m2 5h0m4 0h0m4 2h0m4 3h0m58-4h0m39-5h0m15 10h0m0-10h0m8 6h0m19 3h0m15-8h0m6 8h0m1-11h0m2 8h0m0-5h0m5 0h0m0 5h0m4-6h0m87 8h0m10-10h0m4 11h0m58-8h0m18 4h0m41-8h0m8 10h0m31-7h0m4 5h0m20-6h0m3 4h0m2 3h0m19 4h0m21-11h0m1 6h0m2 1h0m4-8h0m8 13h0m44-2h0m7-5h0m29 4h0m3-9h0m0 10h0m5-11h0m2 2h0m6-1h0m18 12h0m1-6h0m1-5h0m7 7h0m46 0h0m4 3h0m0-7h0m15 2h0m4-7h0m5 7h0m2-5h0m0 3h0m0 0h0m1-4h0m1 11h0m2-2h0m4-2h0m2-4h0m1-4h0m6 6h0m21 3h0m1-6h0m0-3h0m2 3h0m1-1h0m1 1h0m2 3h0m1 0h0m9 2h0m15-6h0m5 2h0m15-1h0m32 8h0m2 1h0m2-4h0m2-2h0m24-4h0m2 5h0m5 2h0m0-3h0m0-4h0m0 7h0m1 0h0m0-1h0m2 0h0m0-7h0m1 10h0m1-7h0m8 4h0m11 0h0m3 3h0m0-5h0m1 1h0m2-4h0m3 2h0m3 7h0m12-12h0m0 6h0m3 0h0m3 2h0m9 4h0m13-2h0m0-8h0m6 7h0m27 2h0m2 2h0m4-10h0m20 7h0m3-3h0m7-1h0m11-4h0m20 10h0m2-8h0m12 7h0m4-6h0m3-2h0m3-3h0m2-1h0m1 12h0m2-10h0m1 0h0m1 5h0m1 2h0m4-7h0m3 12h0m29-1h0m1-1h0m3-8h0m1 10h0m3-4h0m0-3h0m0 7h0m3-12h0m1 3h0m2 0h0m1 8h0m1-2h0m1-5h0m11 3h0m9-2h0m66-3h0m7 3h0m2 3h0m2-8h0m39 3h0m22 6h0m8-4h0m46 5h0m6 2h0m0-8h0m4 6h0m1-9h0m1 3h0m1 1h0m1 5h0m9 0h0m0-8h0m3 0h0m5 8h0m7-5h0m6-5h0m2-1h0m1 11h0m2 1h0m0-4h0m1-3h0m0-4h0m1 7h0m3 4h0m19-6h0m3-4h0m3-1h0m39 5h0m6 3h0m1-3h0m1 2h0m3-7h0m29 1h0m9-2h0m32 3h0m31 2h0m4 2h0m1 0h0m11-1h0m6 4h0m1-2h0m4-5h0m2 1h0m7 6h0m12-8h0m0 0h0m6 8h0"/><path stroke="#b1b1c7" stroke-width="4.4" d="m250 1095h0m2 6h0m7 0h0m0 1h0m5 0h0m0 0h0m2 4h0m0-5h0m1-6h0m1 12h0m3-2h0m0 1h0m4 0h0m8-4h0m2-1h0m1-5h0m1 10h0m1-2h0m5-1h0m9 3h0m3-5h0m1 3h0m3 1h0m1-8h0m0 6h0m1 5h0m1-2h0m1-10h0m1-1h0m1 8h0m0 0h0m1 1h0m1-3h0m1 3h0m5-7h0m1 8h0m4 0h0m4-3h0m0-7h0m4 13h0m1-12h0m13 8h0m8 0h0m4 1h0m4-4h0m5 0h0m3 2h0m1 3h0m12-9h0m2 2h0m0-4h0m1 7h0m0 3h0m1-5h0m1 0h0m3 1h0m1-1h0m12 5h0m0 3h0m5-13h0m8 12h0m4-6h0m45 3h0m0-6h0m2 4h0m1 5h0m4-5h0m2 5h0m18-2h0m4-2h0m12-7h0m5 12h0m20-1h0m31-2h0m0-6h0m10 0h0m6-2h0m0 7h0m4 3h0m4 1h0m2-6h0m2-3h0m2 2h0m1-1h0m12 4h0m2-6h0m4 9h0m1-4h0m23-8h0m1 11h0m1-11h0m1 3h0m3 1h0m21 6h0m5-1h0m0 0h0m1 1h0m2-4h0m1 4h0m1 2h0m0-6h0m2-4h0m0-1h0m2 11h0m1-7h0m1-3h0m22 6h0m1-7h0m4 9h0m2 0h0m1-8h0m2 7h0m0 0h0m1 2h0m6-6h0m3 6h0m1 0h0m2-5h0m1-4h0m3 6h0m4-7h0m0 1h0m1 7h0m4-3h0m0-4h0m13 8h0m24-1h0m22 2h0m3 1h0m5-7h0m0 0h0m9 7h0m9-12h0m1 3h0m6-3h0m1 1h0m9 8h0m0 1h0m5 2h0m10-1h0m12-7h0m4-2h0m1 7h0m1-5h0m5 9h0m1-9h0m11-2h0m7 10h0m2-10h0m9 8h0m6-1h0m18 1h0m13-2h0m2 2h0m8-5h0m11-4h0m5 9h0m5 3h0m2-7h0m12 6h0m13-6h0m18 4h0m26-9h0m1 10h0m2-9h0m3 6h0m0 2h0m1 1h0m2-8h0m7 4h0m0 5h0m35-8h0m5 8h0m1-6h0m0 7h0m1-6h0m4-4h0m12 1h0m34-2h0m0 9h0m2-1h0m1-1h0m1 2h0m2-6h0m1 7h0m3-7h0m2 3h0m12 3h0m6-11h0m3 9h0m2-2h0m0-5h0m3 6h0m2-2h0m0 7h0m6-11h0m1-2h0m6 3h0m1 6h0m11 0h0m2-8h0m4 8h0m11-3h0m3-3h0m6 0h0m18 2h0m0-2h0m3 10h0m2-6h0m1-1h0m5-3h0m5 6h0m4 0h0m1 0h0m5-9h0m0 4h0m11 1h0m4 4h0m4 0h0m6-3h0m9-2h0m5 4h0m2-5h0m5 0h0m16 3h0m4 3h0m29 1h0m5 2h0m21-1h0m13 2h0m18-10h0m0 3h0m4 1h0m1-4h0m2 9h0m4 0h0m1-1h0m16 1h0m3-3h0m1-5h0m1 7h0m6-6h0m12-3h0m0 1h0m11 6h0m14-7h0m6 5h0m2 6h0m45-3h0m1 0h0m4-10h0m10 2h0m10 4h0m22-5h0m0 1h0m8 5h0m1 0h0m10-5h0m3 10h0m0-7h0m0 0h0m1 7h0m3 1h0m31-7h0m11 1h0m4-2h0m2 8h0m1-8h0m4 0h0m7 6h0m2-7h0m1 1h0m11 0h0m13 5h0m2-1h0m1-8h0m8-1h0m6 9h0m4 1h0m1 3h0m0-1h0m1 1h0m7-13h0m2 8h0m0 4h0m0-2h0m1-8h0m0 11h0m1-7h0m2 4h0m0-1h0m0 3h0m16 0h0m11 0h0m2 0h0m10-5h0m12-5h0m16 7h0m6-7h0m6 6h0m3-4h0m17 5h0m11-4h0m3 1h0m1 2h0m1-1h0m0 3h0m0-9h0m1 1h0m8 0h0m0 4h0m7 7h0m3-5h0m0 0h0m1-2h0m11 3h0m2-8h0m7-1h0m3 5h0m1 4h0m2-6h0m0 1h0m6 8h0m7-11h0m27 2h0m13 0h0m7 10h0m1-2h0m0-3h0m1 0h0m0 5h0m5-7h0m5 4h0m0 3h0m3-12h0m1 0h0m2 5h0m1-4h0m1-1h0m0 1h0m5 6h0m2-5h0m0 2h0m1-5h0m1 5h0m7 8h0m0-12h0m1 3h0m3 5h0m0 4h0m2-12h0m28 0h0m2 12h0m2 0h0m2-8h0m1-3h0m3 2h0m4 7h0m0-4h0m2-5h0m12 3h0m19 1h0m11-5h0m6 11h0m17-5h0m2-2h0m1-1h0m2 1h0m8 6h0m0-8h0m2-1h0m4 5h0m19-3h0m7 9h0m1-12h0m0-1h0m8 3h0m7 9h0m4 1h0m2-2h0m2-2h0m16 0h0m0-9h0m4 4h0m3-1h0m3 7h0m1-3h0m0-7h0m0 12h0m1-12h0m2 11h0m0-9h0m0 11h0m1-1h0m1-3h0m0 4h0m1 0h0m1-10h0m4 5h0m2 0h0m15-3h0m7 5h0m8-6h0m0 9h0m7-1h0m1 0h0m14-6h0m6-3h0m7-1h0m0 4h0m1 3h0m4 4h0m1-13h0m4 8h0m3-4h0m6 2h0m0 7h0m3-10h0m7 4h0m6 2h0m7-5h0m7 8h0m1-4h0m7-1h0m13 3h0m1 3h0m3 0h0m1-7h0m0-4h0m18-2h0m41 1h0m1 2h0m1 3h0m1 4h0m1-3h0m7-5h0m5-1h0m5 8h0m5-9h0m0 5h0m1-3h0m6 10h0m0-5h0m6-6h0m14 6h0m5 3h0m13-10h0m0 1h0m1 6h0m1 4h0m0-7h0m1-3h0m0 5h0m1 3h0m1 0h0m1 3h0m3-9h0m2 2h0m8 8h0m4-13h0m10 3h0m2 5h0m1 2h0m9-5h0m3 4h0m5-6h0m19 0h0m3 3h0m4-3h0m14 4h0m1-6h0m4 0h0m10 6h0m12-7h0m6 12h0m2-8h0m5-3h0m46-1h0m13 1h0m2 11h0m1-3h0m6-1h0m4-8h0m5 12h0m30-5h0m14-2h0m1 6h0m7-11h0m6 4h0m2-2h0m4 10h0m2-1h0m2 0h0m1-11h0m3 13h0m1-10h0m0 7h0m3 3h0m1-11h0m6 0h0m4 1h0m41 10h0m31-8h0m20 0h0m1 8h0m3-1h0m2-9h0m5 3h0m3 5h0m7-4h0m2 2h0m0-7h0m4 7h0m2-1h0m2 3h0m9-3h0m0 0h0m3-5h0m4 5h0m9-6h0m0 2h0m0 7h0m1-2h0m6-8h0m33-1h0m16 8h0m0 3h0m3-8h0m2 3h0m4 6h0m9-11h0m7 3h0m1 9h0m3-2h0m11 2h0m8-13h0m2 9h0m0 1h0m1-8h0m1 9h0m3-4h0m0 5h0m2-7h0m0 7h0m0-6h0m7 7h0m4-6h0m20 0h0m4-5h0m0 4h0m11 3h0m2-2h0m0 1h0m3 3h0m1-9h0m0 3h0m1 6h0m3 1h0m11-4h0m3-7h0m3 2h0m3 4h0m2-4h0m1 8h0m1-4h0m7 6h0m0-4h0m4 1h0m1 3h0m3-2h0m11 1h0m1 1h0m50-2h0m3-4h0m0 3h0m5-10h0m7 11h0m9 1h0m0-11h0m1 2h0m6-3h0m19 3h0m2 2h0m8-4h0m7 8h0m0-6h0m20 4h0m7 5h0m23-4h0m1-3h0m1 0h0m5 7h0m2-1h0m2-10h0m2 10h0m14-3h0m3 4h0m1-1h0m1-7h0m2 4h0m1 3h0m3 0h0m3 2h0m6-3h0m0 2h0m3-2h0m2-6h0m0-2h0m2-2h0m0 11h0m3 1h0m70-11h0m10 11h0m6-9h0m4 7h0m6-3h0m0 4h0m5 0h0m3-1h0m13 0h0m3-3h0m2 2h0m2 4h0m2 0h0m8-1h0m2 0h0m5-8h0m15 6h0m0-1h0m12-7h0m1 2h0m7 2h0m9 5h0m5-3h0m0 3h0m0 1h0m38-5h0m2-4h0m0-2h0m2 10h0m1-1h0m2-2h0m4 3h0m7-5h0m14-5h0m5 11h0m17-6h0m17-6h0m11 8h0m3 3h0m4-6h0m15 1h0m1-5h0m3 11h0m2-4h0m2 2h0m3-6h0m0 6h0m2-4h0m48 7h0m19-9h0m7-4h0m11 7h0m1-4h0m2 9h0m2-5h0m0 1h0m1 3h0m4 2h0m0-12h0m1 3h0m1 0h0m1 0h0m2 9h0m4-12h0m12 7h0m2-6h0m0 2h0m0 3h0m2 5h0m4-3h0m0 0h0m16 1h0m1-4h0m1-6h0m3 10h0m2-9h0m0-1h0m8 12h0m1-8h0m9-2h0m17 4h0m7 1h0m15-6h0m7 3h0m2-2h0m1 8h0m8-1h0m23-1h0m3-8h0m4 4h0m4-1h0m33 2h0m31-3h0m0 6h0m1 3h0m0-9h0m4-2h0m3 2h0m2 11h0m29 0h0m3-8h0m5 3h0m20-4h0m1 7h0m4 0h0m6-7h0m12 3h0m1 2h0m1-4h0m0-4h0m12 2h0m0-3h0m1 10h0m1 1h0m13 1h0m3 1h0m3-11h0m20 1h0m2-2h0m2 6h0m6-6h0m1 9h0m5-9h0m5 11h0m8-10h0m9 2h0m7-3h0m2 9h0m11 1h0m24 2h0m14-11h0m6-1h0m11 11h0m4-4h0m26 2h0m12-7h0m0-1h0m2 4h0m11-4h0m19 4h0m4 2h0m11 5h0m2-11h0m0 9h0m2-8h0m20-2h0m8 7h0m3 3h0m8-4h0m7-1h0m1 2h0m0 5h0m1-12h0m0 11h0m1-2h0m2-6h0m13 0h0m26 9h0m3-11h0m9 4h0m1-1h0m1 7h0m9-11h0m8 11h0m3 1h0m51 0h0m1-6h0m1 3h0m4-1h0m6-8h0m9 7h0m2-6h0m56 10h0m37-10h0m20 11h0m46-12h0m9 9h0m18 1h0m1 1h0m3-10h0m29 3h0m36 1h0"/><path stroke="#c5c5ce" stroke-width="4.4" d="m248 1141h0m6-2h0m1 0h0m0 10h0m1 0h0m2-13h0m1 10h0m3 0h0m2-3h0m1 6h0m6-3h0m3-7h0m4 10h0m2-8h0m1 5h0m0-4h0m3 0h0m1 5h0m2-10h0m6 8h0m4 3h0m5-5h0m4 3h0m3-9h0m1 2h0m2 7h0m0-9h0m0 3h0m1 5h0m1 3h0m0-3h0m0-7h0m1 2h0m2 7h0m1 2h0m0-12h0m1 1h0m0 10h0m0 0h0m0-2h0m1-7h0m0 6h0m3 2h0m12-4h0m6 1h0m9 5h0m4-6h0m2 4h0m2-2h0m1-4h0m0 3h0m11 4h0m3 1h0m13-2h0m4 1h0m1 0h0m2-5h0m2-6h0m1 5h0m5 6h0m2-5h0m7-4h0m1 7h0m2 0h0m8 0h0m4-8h0m4 0h0m1 1h0m39 7h0m4-2h0m2-6h0m1 2h0m4 5h0m2-8h0m0 9h0m4-7h0m14 0h0m2 3h0m5 0h0m3-2h0m2-4h0m1 8h0m1-4h0m3-1h0m1 1h0m22 8h0m11-9h0m11 10h0m7-6h0m3-3h0m4-4h0m0 9h0m4-3h0m1 0h0m1-2h0m3 6h0m0-2h0m2-8h0m0 1h0m2 1h0m1 11h0m1-3h0m5 3h0m1-5h0m3-2h0m1 3h0m2 2h0m1-2h0m1-4h0m9 0h0m0 0h0m4-1h0m1 7h0m1-7h0m4 3h0m5 0h0m2-1h0m12-6h0m19 1h0m3 2h0m4 10h0m2-10h0m1 6h0m4-8h0m2 9h0m3-5h0m0-2h0m3 6h0m1-7h0m0 2h0m2 2h0m7 2h0m2 2h0m1 3h0m4-10h0m10 6h0m3-1h0m12 0h0m3 2h0m1-3h0m2-1h0m1 7h0m4-11h0m3 8h0m2-6h0m3 1h0m1 4h0m0 4h0m1-11h0m0 2h0m7 8h0m2-12h0m0 11h0m23-3h0m9 1h0m19 2h0m6-7h0m14 6h0m3-4h0m1-3h0m1 4h0m8 4h0m0-2h0m0-2h0m2-1h0m8 3h0m1 1h0m2-5h0m2 5h0m5-10h0m7 13h0m3-1h0m1-1h0m2-3h0m1 4h0m8-2h0m1-4h0m2-2h0m2 8h0m0-4h0m1 1h0m3-4h0m0 2h0m1 3h0m3 3h0m5-2h0m3-9h0m7 10h0m9-3h0m2 0h0m5-7h0m0-1h0m3 6h0m4 2h0m9 0h0m2-4h0m0 1h0m7 2h0m1 4h0m3-7h0m0-4h0m0 11h0m3 0h0m7-2h0m7-7h0m3 3h0m0 1h0m1-7h0m2 8h0m7 1h0m5-3h0m2-4h0m32 3h0m1 1h0m0 6h0m0-8h0m2 0h0m2 7h0m4 0h0m2 1h0m0-7h0m1 3h0m10 5h0m2-8h0m0 1h0m1 0h0m2 6h0m1-6h0m0 5h0m1-2h0m1-8h0m1 12h0m1-2h0m1-7h0m2 1h0m0 1h0m2-4h0m1 6h0m14 2h0m33-3h0m7 5h0m7-9h0m1 10h0m3-12h0m1 12h0m2-1h0m17 1h0m5-5h0m4-6h0m2 8h0m1-5h0m0 7h0m1 1h0m2-6h0m0-3h0m1-3h0m3 0h0m0 6h0m1 4h0m6-10h0m7 7h0m5-4h0m0-3h0m0 6h0m2 6h0m0-1h0m1 1h0m3-1h0m6-7h0m1-5h0m1 8h0m0-4h0m1-3h0m1 10h0m0-2h0m0-5h0m1 9h0m1-2h0m8 1h0m12 1h0m1-1h0m1-4h0m0 4h0m1 1h0m10-10h0m1 10h0m0-10h0m10 2h0m21 0h0m0 4h0m12 2h0m6 0h0m3 0h0m2 0h0m1-8h0m1 10h0m5-2h0m0-1h0m7-3h0m3 6h0m8-11h0m2 8h0m5-4h0m0 6h0m2-7h0m1-5h0m11 11h0m0-6h0m5 4h0m5-5h0m1 8h0m12-11h0m41 2h0m8 5h0m2-1h0m1-5h0m2 8h0m0-4h0m4-4h0m16 6h0m10 4h0m3-6h0m8-6h0m1 5h0m1 3h0m22 3h0m1-2h0m1 2h0m2-7h0m1 7h0m0-10h0m1 6h0m2-7h0m2 10h0m7-8h0m6 4h0m7 7h0m3-5h0m2-2h0m19-4h0m7-1h0m4 7h0m0-8h0m2 0h0m15 10h0m2 0h0m5 1h0m0-6h0m2-1h0m2 9h0m7-9h0m4 0h0m2 8h0m0-11h0m3 10h0m1-6h0m9-5h0m8 1h0m12 4h0m1-4h0m2 8h0m3-6h0m1 1h0m10 7h0m5-6h0m1 8h0m3-10h0m2 0h0m4 7h0m2-7h0m1 5h0m29-6h0m1 0h0m2 4h0m5 1h0m10-3h0m3-2h0m2 3h0m2 2h0m2-2h0m0-1h0m6 6h0m4-10h0m14 8h0m1 0h0m23-1h0m3-1h0m4 6h0m4-10h0m1 3h0m4 1h0m6-4h0m3 11h0m2-10h0m5 5h0m7-1h0m9-6h0m20 12h0m12-10h0m3 5h0m5 2h0m2-2h0m1-2h0m0-2h0m0-2h0m5 6h0m0-4h0m0 3h0m1-3h0m0 9h0m4-9h0m4 1h0m1 0h0m0 8h0m4 0h0m12-4h0m1-1h0m9-8h0m1 7h0m3 5h0m1-11h0m0 5h0m2 3h0m1 1h0m3 2h0m0-4h0m6 1h0m4 2h0m8-6h0m6 5h0m7-2h0m0 5h0m0-9h0m2 4h0m0 5h0m3-7h0m9-4h0m3 8h0m1-5h0m2 1h0m18-4h0m1 7h0m3-3h0m2 0h0m17-3h0m0 3h0m0 7h0m2-5h0m0 2h0m4 0h0m0-3h0m3-4h0m3-2h0m1 9h0m0 2h0m0-9h0m0 1h0m2-2h0m2 0h0m1 10h0m1-9h0m6 6h0m5-3h0m0-4h0m2 11h0m8-2h0m1-4h0m0 5h0m3-6h0m2-3h0m2 3h0m6 0h0m0-5h0m3 9h0m0-8h0m2 11h0m7-7h0m7-1h0m0 3h0m11 3h0m0-5h0m24 4h0m10-9h0m14 2h0m3 4h0m1-2h0m7 4h0m1-3h0m5 5h0m8-4h0m5-6h0m4 9h0m2-6h0m0 1h0m3-4h0m4 0h0m12 1h0m4 9h0m2 1h0m4-1h0m1-7h0m2 0h0m1 7h0m9-1h0m2 3h0m3-12h0m0 12h0m1 0h0m2-11h0m0 7h0m1 1h0m2-2h0m0-2h0m0 5h0m20-7h0m3 1h0m1 1h0m2 0h0m1 7h0m0-2h0m9-8h0m12 0h0m3-2h0m3 4h0m8-4h0m12 10h0m1 1h0m1-1h0m3-8h0m0-3h0m2 1h0m1 10h0m4-1h0m7-4h0m3 6h0m0-5h0m2 4h0m8-10h0m3 12h0m21-7h0m6 6h0m5 1h0m1-3h0m1 3h0m0-10h0m1 6h0m4 4h0m10-6h0m4 4h0m2-7h0m7 7h0m1-8h0m4 2h0m0 3h0m1-5h0m6 1h0m14-2h0m11 2h0m1 7h0m28 0h0m5-8h0m1-1h0m4 1h0m4 9h0m2 1h0m1-1h0m1-6h0m1 0h0m0-2h0m4-1h0m1 6h0m2-6h0m1 4h0m2-1h0m1-3h0m3 4h0m11 4h0m5-1h0m1-4h0m2 5h0m9 0h0m12 0h0m3-6h0m1-2h0m1 0h0m5-2h0m6 8h0m0 1h0m6-1h0m47-9h0m0 13h0m3-6h0m21 2h0m1 0h0m3-2h0m21-1h0m4 1h0m2-5h0m2 7h0m52-1h0m2 0h0m1-2h0m4 5h0m1-1h0m0-1h0m9-1h0m2-2h0m6-2h0m9 3h0m2-5h0m38 11h0m8-10h0m4 3h0m0 4h0m5-6h0m3 7h0m2-8h0m1 1h0m2-4h0m0 13h0m0-11h0m0-1h0m5 8h0m1-3h0m1-3h0m3 2h0m1 3h0m13-3h0m16 7h0m3-11h0m11 1h0m2 0h0m3 0h0m4-2h0m22 2h0m1 8h0m7 1h0m27-5h0m2 0h0m2-6h0m3 3h0m2-2h0m1-1h0m1 13h0m1-3h0m1-2h0m2-4h0m2 7h0m0 1h0m1-8h0m7-2h0m3 5h0m3-2h0m2-1h0m9-2h0m9 2h0m0-2h0m1 7h0m1-4h0m2 0h0m2-3h0m1 5h0m11 0h0m5 5h0m7-9h0m0 5h0m2-6h0m3 2h0m0-4h0m0 1h0m2 0h0m0 7h0m1 3h0m16-5h0m6-5h0m4 8h0m0-8h0m8 10h0m4-2h0m1-6h0m2-2h0m3 12h0m0-12h0m1 0h0m1 10h0m16-11h0m1 1h0m1 1h0m1 11h0m1-5h0m1 0h0m0-6h0m1 1h0m0-3h0m1 2h0m2 11h0m2-4h0m0 3h0m30 0h0m1-5h0m1-3h0m1 2h0m1-5h0m7 9h0m2-7h0m5 7h0m0 0h0m3-1h0m2 3h0m1-1h0m5-5h0m7 0h0m1-5h0m1 7h0m1-2h0m0-6h0m1 1h0m3 8h0m1 3h0m1-3h0m5-7h0m3 7h0m4-6h0m5 8h0m2 0h0m4-6h0m1-1h0m0 3h0m3 5h0m4-7h0m1 0h0m9-5h0m1 6h0m24-2h0m6 1h0m13 7h0m3-10h0m0 9h0m21-3h0m7-7h0m20 5h0m0-1h0m3 2h0m6-7h0m0 6h0m3-6h0m1 9h0m5-7h0m16 2h0m2 8h0m0 1h0m3-7h0m3-4h0m5 7h0m7-3h0m3-4h0m2 1h0m2 6h0m2-6h0m4 6h0m3 4h0m1-1h0m4-4h0m0 5h0m1-4h0m1 2h0m15-9h0m6-2h0m8 8h0m11 0h0m2 1h0m1 4h0m6-2h0m48-7h0m2 2h0m6-5h0m15 4h0m2 8h0m1-6h0m1 4h0m7 0h0m10-11h0m13 1h0m0 3h0m4-4h0m0 8h0m2 2h0m5-9h0m5 12h0m6 0h0m33 0h0m3-4h0m7 1h0m5 3h0m4-6h0m2 2h0m4-9h0m36 1h0m1 7h0m0 5h0m2 0h0m3-7h0m0 4h0m0-2h0m1-5h0m0-2h0m0 11h0m24-7h0m4 7h0m1-9h0m15 5h0m1 5h0m7-8h0m3 5h0m7-5h0m14 2h0m4 2h0m3-2h0m1-6h0m2 2h0m11 4h0m1 6h0m1-5h0m1-2h0m1 7h0m1-7h0m0-6h0m8 7h0m6-7h0m42 2h0m0 7h0m1-1h0m1-5h0m16-2h0m0 2h0m11 1h0m8 5h0m3 4h0m0-13h0m1 10h0m1-10h0m0 5h0m1 6h0m2-3h0m0 0h0m1 0h0m1 4h0m1-4h0m22-8h0m1 5h0m2-3h0m2 1h0m3 0h0m3 3h0m4 7h0m4-8h0m3 5h0m0 0h0m2-4h0m0 1h0m2 0h0m0-6h0m3 6h0m3 4h0m13-5h0m13-1h0m14 1h0m1-1h0m1-1h0m2 0h0m4-3h0m7 12h0m1-11h0m2 5h0m0 5h0m1-6h0m2 2h0m1-7h0m0 0h0m2 10h0m0-7h0m4 6h0m24 3h0m3-2h0m2 1h0m0-2h0m6-9h0m4-1h0m5 2h0m0 9h0m6-2h0m15-3h0m2-1h0m0 6h0m21 0h0m9-1h0m1-7h0m1 1h0m2 8h0m4-3h0m2-2h0m1-4h0m2 3h0m1-6h0m3 6h0m21 3h0m1 2h0m1-4h0m6 1h0m0 0h0m1 4h0m0-9h0m2-3h0m3 13h0m0-8h0m14 5h0m3-8h0m1 10h0m2-4h0m1 2h0m1-3h0m1 2h0m1 1h0m0 0h0m0 2h0m1-3h0m0-8h0m1 9h0m19-6h0m0 0h0m0 3h0m3 3h0m4-7h0m4 6h0m3 2h0m8-5h0m9 6h0m1 0h0m22-9h0m0 4h0m1 4h0m5-7h0m6-1h0m4 5h0m4-4h0m1-2h0m23 2h0m14 7h0m1 0h0m3 1h0m1-3h0m4-4h0m12-5h0m1 7h0m0 1h0m2-4h0m1-3h0m9-1h0m15 11h0m0-6h0m3 3h0m1-5h0m5 7h0m30-7h0m3 5h0m4 1h0m2 0h0m0-9h0m1 7h0m1 0h0m2-6h0m13 2h0m6-2h0m3 7h0m0 4h0m18-2h0m6-9h0m4 2h0m16-2h0m0 4h0m0 1h0m8 2h0m5 5h0m7-2h0m0 1h0m5-7h0m0-2h0m1 10h0m2-9h0m4 0h0m1 8h0m3 1h0m37-10h0m7 5h0m5-8h0m1 10h0m8-8h0m0 0h0m1 2h0m3 9h0m1-7h0m14-5h0m36 4h0m0-3h0m4 8h0m2 2h0m1-3h0m1 1h0m12-9h0m3 0h0m19 2h0m6 1h0m18 0h0m2 6h0m4 3h0m5-7h0m30-2h0m12 8h0m3-3h0m1-9h0m1 3h0m9 9h0m3-3h0m3-6h0m44 5h0m4 3h0m9 2h0m27-9h0m59 9h0"/><path stroke="#c19d9d" stroke-width="4.4" d="m252 1282h0m3-2h0m6 1h0m0 3h0m1-4h0m0-7h0m2 5h0m2 7h0m14-11h0m1 10h0m0-1h0m7-3h0m6 6h0m6-1h0m11-12h0m0 5h0m2 1h0m0 3h0m1 0h0m0-2h0m2 4h0m4-11h0m3 9h0m28-1h0m2 1h0m3-1h0m18 5h0m0-9h0m4 1h0m15 2h0m2 3h0m2-7h0m4 1h0m6 4h0m4-5h0m6 9h0m51-12h0m12 12h0m4-4h0m12-3h0m0-3h0m16 9h0m23-9h0m2 0h0m10 6h0m9 5h0m12-5h0m8 0h0m5-7h0m3 1h0m6 3h0m3 1h0m8-6h0m11 11h0m34 2h0m35-12h0m7 5h0m33 4h0m22-4h0m16-2h0m31-4h0m12 3h0m3-3h0m8 5h0m2 4h0m0 0h0m4 2h0m15-4h0m4-2h0m15-3h0m20 2h0m5-2h0m0 6h0m5-7h0m6 10h0m31-10h0m13 8h0m5-8h0m12 1h0m2 3h0m3 0h0m17 7h0m6-3h0m12-4h0m19-3h0m14 11h0m2-11h0m6 6h0m20 0h0m4 4h0m0-11h0m4 2h0m3 2h0m3 4h0m10 1h0m20-2h0m14-3h0m0 7h0m40-6h0m6-6h0m13 12h0m1-12h0m4 11h0m1-2h0m3-6h0m19 2h0m0-2h0m2 6h0m2-6h0m1 10h0m35 0h0m1 0h0m6-8h0m5 7h0m22-4h0m3-5h0m24 0h0m25 4h0m13-6h0m52 6h0m2 6h0m2-12h0m13 3h0m1 1h0m5 7h0m6-4h0m32 4h0m9 1h0m0-2h0m5-9h0m22 3h0m2 5h0m16 3h0m1-12h0m41 9h0m7-1h0m15 3h0m11-1h0m8-7h0m38 2h0m2 0h0m14-4h0m4 0h0m0-1h0m2 11h0m1-9h0m30-2h0m9-1h0m13 7h0m3-7h0m6 6h0m29-2h0m8 6h0m12 3h0m2-10h0m1 6h0m6-4h0m4 4h0m2-7h0m10-2h0m0 6h0m3-2h0m5-2h0m1 8h0m22-6h0m16 0h0m1 0h0m15 2h0m1 0h0m14-2h0m3 9h0m4-2h0m8 1h0m9-8h0m12-2h0m3 3h0m3 4h0m1 1h0m1-3h0m7-5h0m10 7h0m1 2h0m11-6h0m2 8h0m8-5h0m8 0h0m2-1h0m22 0h0m30 2h0m66-6h0m2 5h0m17-3h0m2 7h0m34 1h0m10-11h0m18-2h0m80 6h0m0-1h0m50 6h0m68-2h0m34 3h0m5-11h0m1 5h0m38-1h0m41 7h0m22-8h0m7-2h0m28-2h0m1 8h0m0 3h0m10-9h0m20 4h0m2-5h0m44 10h0m15-8h0m5 10h0m9-9h0m3-1h0m3-2h0m59-1h0m4 4h0m1-4h0m2 0h0m0 7h0m22 3h0m28-10h0m3 12h0m0-4h0m17-3h0m4 3h0m4 4h0m2 1h0m1-9h0m3-1h0m9 3h0m2-3h0m0-3h0m6 8h0m13-6h0m15 7h0m22-6h0m2 9h0m5-7h0m34 0h0m21 4h0m7 3h0m0-1h0m10-9h0m0 9h0m0 0h0m2 1h0m1-1h0m6-1h0m8-8h0m7 1h0m4 6h0m1-6h0m3 8h0m39-7h0m27 2h0m34-4h0m9 6h0m2-4h0m4 2h0m3-1h0m32 7h0m7-6h0m0-1h0m2-5h0m3 10h0m3-4h0m3-5h0m8 11h0m6-12h0m4 2h0m11 10h0m2-10h0m0 5h0m0 2h0m4-6h0m1 8h0m2-11h0m0 7h0m2-7h0m7 2h0m12 11h0m3-11h0m23 10h0m13-6h0m6 7h0m3-2h0m1-10h0m2 8h0m3-8h0m0 0h0m6 4h0m2-5h0m2 13h0m1-12h0m13 5h0m25 6h0m3-7h0m8 2h0m0-2h0m7 1h0m16-4h0m11 8h0m18 0h0m6-8h0m0 8h0m6-2h0m12-2h0m0 1h0m19 5h0m4-1h0m3-3h0m2-4h0m1 2h0m1-1h0m2-2h0m8 3h0m4 4h0m62-1h0m27-7h0m19 7h0m11-8h0m12 0h0m43 3h0m37-2h0m1 10h0m0-11h0m3 4h0m1 0h0m2 1h0m1 3h0m15-6h0m5 3h0m58-4h0m20-1h0m6 5h0m4-6h0m8 13h0m1-10h0m50 3h0m30 4h0m2-4h0m5 3h0m4-6h0m0 8h0m2 1h0m17-6h0m5-5h0m6 3h0m5-2h0m5 5h0m1 3h0m2-5h0m21-2h0m13 7h0m2-6h0m11 2h0m2 2h0m8-4h0m0 6h0m1-3h0m3-3h0m0 9h0m2 0h0m0-7h0m1 4h0m2-3h0m6-5h0m0 1h0m3 1h0m3-1h0m2-3h0m2 5h0m25 4h0m1-2h0m0-3h0m0 5h0m7 3h0m4-6h0m3-3h0m23-1h0m5 11h0m25-6h0m2-7h0m7 4h0m7 0h0m3 2h0m21-2h0m7 0h0m2 5h0m0 0h0m1-6h0m0 2h0m3-3h0m0 3h0m13-4h0m1 12h0m4-8h0m1-1h0m1 9h0m1-6h0m2 1h0m1-7h0m3 11h0m0-2h0m9-9h0m3 6h0m16 2h0m2 2h0m19-3h0m19 5h0m14-12h0m25 5h0m12-3h0m4-2h0m24-1h0m4 2h0m1 0h0m1-1h0m1 2h0m4 6h0m5-2h0m2-7h0m0 6h0m2-5h0m5 4h0m9 1h0m3 5h0m23-1h0m3-9h0m5 7h0m2-5h0m4 2h0m0-1h0m0-3h0m5 6h0m5 0h0m2 0h0m1-1h0m3-3h0m2 9h0m120-5h0m12 4h0m12-4h0m1 3h0m4 0h0m26 1h0m36-1h0m3-10h0m3 1h0m3 0h0m5 11h0m0 0h0m1-4h0m5 2h0m14-9h0m6 12h0m0-2h0m0-3h0m2-7h0m4-1h0m2 5h0m14 5h0m3 3h0m4-7h0m2-4h0m3 9h0m10-6h0m8 3h0m18-7h0m4 1h0m1-2h0m1 9h0m1-9h0m0 9h0m1 1h0m1-8h0m12 7h0m3-1h0m5 4h0m4-4h0m8 3h0m1-4h0m30 2h0m11-7h0m15 10h0m1-4h0m1-4h0m0 3h0m0-3h0m5-2h0m7 5h0m5-1h0m15-2h0m8 2h0m29 7h0"/><path stroke="#b06e6e" stroke-width="4.4" d="m259 1372h0m5 10h0m12-4h0m9-3h0m20 5h0m7-9h0m6 5h0m8 2h0m62-3h0m25 6h0m100-2h0m41-4h0m8-6h0m16 8h0m21 3h0m10-10h0m129 0h0m92 9h0m11-3h0m74-2h0m55 2h0m62 2h0m2-3h0m23 6h0m1 1h0m14-2h0m97 0h0m23-2h0m281-1h0m225 1h0m11 1h0m5-10h0m405 3h0m92-3h0m1 2h0m177 2h0m1-4h0m8 7h0m28 0h0m183-7h0m0 12h0m6 1h0m4-1h0m33-9h0m75 10h0m53 0h0m1-6h0m5-4h0m29 5h0m38 1h0m14-3h0m24 1h0m32 4h0m10-8h0m310-1h0m100 1h0m25-1h0m22 2h0m0 6h0m8-9h0m13 4h0m8 1h0m74-4h0m5 5h0m246-2h0m204-1h0m27 1h0m25 6h0m54-5h0m2 2h0m0-9h0m2 8h0m29-4h0m1 0h0m0 6h0m31-8h0m3 5h0m24-3h0m37-3h0m129 2h0m22 10h0m3 0h0m26-4h0m12-8h0m5 12h0m28-4h0m81 0h0m51-5h0m12 9h0m0-7h0m42 6h0m2-6h0m5 5h0m5-9h0m2 4h0m4 8h0m2-7h0m29-6h0m2 10h0m72 1h0m0-1h0m1-5h0m26-2h0m6-4h0m45 12h0m44-7h0m6 3h0m34 5h0"/><path stroke="#ac6060" stroke-width="4.4" d="m282 1397h0m29 2h0m8-2h0m91 9h0m335 3h0m287-6h0m1-1h0m24 4h0m242-10h0m181 6h0m1080 7h0m44-3h0m41-9h0m62 9h0m95 2h0m20-10h0m230 8h0m116-3h0m4-1h0m0 5h0m70-10h0m129 11h0m146-5h0m330-3h0m5 3h0m148 0h0m12 1h0m34 1h0m15-2h0m27-5h0m3-2h0m56 8h0m23-5h0m3 2h0m10 8h0m139-8h0m2-1h0m6 6h0m6-3h0m1 2h0m37-1h0m30 1h0m201-2h0m23-6h0m3 10h0m14-10h0m13 12h0m18-11h0m4-2h0m175 5h0m7-5h0m18 6h0"/><path stroke="#cab8b8" stroke-width="4.4" d="m247 1221h0m2 7h0m2 3h0m2-9h0m4 0h0m1 6h0m1-2h0m1-6h0m0-1h0m2 9h0m1-7h0m3-1h0m1 4h0m3 1h0m0 4h0m4-9h0m6 6h0m0 6h0m1-1h0m3-3h0m0-9h0m1 12h0m3-5h0m7-6h0m14-2h0m0 10h0m2-2h0m1 4h0m0-8h0m1 8h0m1 0h0m0-5h0m0-7h0m1 3h0m0-2h0m0 4h0m0-2h0m2 8h0m1-3h0m0-3h0m0 5h0m3-3h0m0 4h0m1-10h0m0 0h0m0 0h0m3 3h0m1 0h0m1-1h0m5 0h0m22 4h0m15 4h0m20-10h0m2 3h0m0 4h0m1 1h0m1-9h0m0 3h0m1 1h0m0 4h0m1 4h0m0-5h0m2 0h0m10-5h0m7 3h0m10-2h0m43 5h0m4 1h0m10-9h0m4 0h0m0 6h0m6 1h0m6 0h0m3 3h0m9-7h0m1-2h0m3 2h0m21 9h0m27-1h0m4-4h0m3-1h0m5 7h0m3-7h0m5-4h0m0-1h0m2 4h0m1 8h0m3-6h0m1 4h0m8-10h0m2 4h0m4 1h0m1 6h0m0-3h0m1-6h0m1-3h0m15 6h0m0 3h0m3-2h0m16-5h0m1 7h0m4-1h0m31 5h0m2-8h0m0 2h0m0-6h0m2 0h0m0 1h0m2 10h0m0-8h0m1-2h0m3 8h0m16 2h0m0-10h0m0 0h0m1-2h0m2 7h0m1-5h0m22 5h0m2 6h0m1-6h0m0-4h0m3 0h0m4 2h0m5-3h0m3 8h0m3-6h0m9-1h0m20 4h0m20-1h0m10 5h0m5 1h0m4-1h0m6-9h0m4-1h0m7 10h0m2 0h0m34-3h0m3 4h0m2 0h0m0-12h0m6 12h0m1-12h0m1 12h0m0-11h0m0 12h0m2-10h0m0 8h0m1 0h0m6-6h0m4 0h0m0 6h0m0 2h0m3-7h0m2-3h0m1 7h0m6-8h0m2 4h0m10 5h0m2-8h0m2-1h0m8 2h0m5 4h0m1 2h0m2-5h0m9 8h0m4-5h0m2 5h0m2-4h0m2-6h0m15-1h0m2 5h0m5 6h0m37-11h0m4 2h0m4-4h0m1 13h0m0-6h0m2-6h0m0 11h0m1-8h0m2 2h0m2 6h0m4-11h0m6 4h0m1 5h0m8-3h0m0 1h0m0-6h0m1 0h0m1 10h0m1-7h0m1 7h0m2-3h0m1 4h0m9-4h0m13 3h0m3-9h0m11 8h0m5-10h0m10 1h0m2 4h0m0-2h0m6 6h0m3-8h0m0 2h0m2 5h0m3 4h0m3-8h0m27-3h0m8 2h0m4 7h0m11-6h0m5-2h0m2 7h0m7 0h0m3-6h0m2 10h0m15-11h0m8 1h0m6 5h0m8-9h0m1 5h0m4-4h0m2 5h0m3 1h0m9 4h0m15-7h0m2-3h0m10 10h0m2-2h0m6-3h0m2 6h0m8-9h0m5 7h0m0-1h0m17-1h0m5-1h0m7 0h0m1 2h0m7 3h0m0 0h0m8 1h0m2-11h0m4 8h0m6-8h0m3 2h0m6 7h0m28-6h0m14-4h0m2 2h0m9-2h0m2 12h0m0-11h0m9 0h0m9 0h0m4 11h0m24-11h0m15 3h0m4-2h0m8 5h0m5 3h0m3-1h0m6-4h0m10 2h0m3-2h0m6 1h0m9 0h0m2-2h0m0-1h0m4-4h0m22 13h0m15-8h0m4 7h0m1-1h0m0-10h0m11 8h0m3-4h0m6-5h0m3 6h0m14 3h0m18 1h0m3 3h0m0-6h0m0-4h0m0 8h0m8-11h0m4 11h0m25-6h0m9 8h0m3-8h0m15-1h0m9-4h0m5 0h0m0 1h0m1 12h0m2-12h0m22 10h0m11-10h0m9 1h0m13 7h0m20-7h0m1 5h0m1 3h0m6 0h0m5 2h0m10-10h0m4 0h0m21-1h0m3 0h0m8 3h0m19 6h0m4-6h0m0 2h0m1 6h0m2-5h0m7-4h0m2 5h0m2-4h0m2-3h0m11 11h0m6-1h0m9-8h0m1-1h0m3 2h0m7 3h0m3 0h0m4 0h0m2-1h0m22 6h0m2-7h0m16 7h0m6 0h0m1-7h0m0 3h0m0-5h0m2 0h0m4 8h0m5-9h0m0-2h0m3 10h0m3 3h0m13-7h0m6-1h0m1 6h0m5 0h0m0-7h0m9-1h0m2 10h0m7-5h0m11-4h0m5 6h0m0 0h0m0-10h0m11 7h0m1-1h0m13-5h0m2 3h0m1 0h0m9 2h0m10-2h0m8 6h0m0-4h0m3 2h0m6 0h0m16-6h0m7 11h0m1-6h0m22 1h0m26-3h0m1 1h0m1 2h0m3-8h0m28 1h0m6 11h0m2-5h0m21 2h0m2-7h0m21 2h0m5 4h0m2-6h0m11 8h0m23-7h0m6 8h0m3 1h0m11-3h0m4-4h0m0 2h0m21 0h0m0 5h0m1-7h0m0 2h0m1-3h0m2-2h0m4 2h0m3 4h0m0-4h0m1 8h0m2-11h0m5 4h0m14 6h0m3-4h0m12 4h0m25-4h0m5-2h0m0-4h0m2 6h0m7-4h0m7 1h0m2 9h0m6-2h0m8-4h0m1-4h0m4 8h0m4-2h0m4-1h0m4 2h0m11 0h0m11-10h0m5 8h0m35-5h0m1 9h0m8-2h0m11-9h0m3 6h0m1 1h0m19-1h0m0-1h0m4 5h0m2-3h0m2-5h0m14 6h0m11-6h0m3 9h0m0 0h0m4-8h0m0 6h0m2-5h0m2 0h0m46 3h0m7 0h0m4-6h0m0 10h0m4-2h0m6-4h0m2 6h0m3-3h0m0 3h0m1-8h0m5 5h0m0 3h0m11-1h0m14 0h0m12 2h0m7-7h0m1 5h0m1 2h0m1-8h0m4-5h0m1 8h0m1 0h0m5-3h0m12 7h0m2-6h0m1 5h0m1 2h0m2-12h0m1 9h0m7-5h0m1-1h0m8 6h0m1-9h0m0 5h0m1 7h0m0-12h0m1 7h0m5-8h0m22 0h0m3 2h0m1 10h0m2-11h0m0 12h0m8-6h0m15 0h0m2 0h0m3 0h0m1 4h0m23 2h0m2-4h0m3-4h0m5-1h0m0 5h0m4 3h0m1-4h0m0 3h0m1-2h0m2 3h0m3-1h0m1 2h0m0-12h0m1 7h0m2 1h0m1-4h0m2 2h0m3 3h0m2 2h0m6-3h0m1 0h0m5 1h0m12 3h0m2-10h0m1 0h0m3 6h0m2-1h0m1-6h0m0 8h0m1-1h0m7 2h0m14-1h0m6-3h0m9-4h0m24 6h0m9 0h0m5-8h0m5 2h0m9 5h0m2-7h0m8 7h0m0 0h0m4 3h0m10 2h0m27-4h0m2-8h0m2 11h0m5-10h0m3 9h0m0 2h0m2 0h0m0 1h0m4-11h0m1 1h0m8 7h0m7-4h0m0-5h0m1 1h0m1 4h0m4 4h0m2 1h0m10-6h0m4 3h0m1-6h0m2 1h0m1 6h0m5 0h0m3-8h0m12 8h0m6 1h0m6 2h0m3-11h0m20 7h0m2-8h0m6 11h0m0-10h0m2 3h0m2-4h0m1 4h0m2 5h0m1 0h0m4-5h0m7 8h0m0-5h0m2-2h0m2-6h0m2 2h0m34 1h0m9 4h0m3-2h0m13 4h0m3-4h0m0 6h0m2-1h0m0-6h0m11-3h0m9 11h0m5-6h0m3-3h0m7 3h0m11-2h0m3-3h0m4 4h0m7 7h0m2-4h0m1-2h0m0 7h0m0-7h0m6-5h0m12 0h0m1 3h0m0-1h0m2 2h0m4 7h0m0-8h0m3 3h0m1 1h0m51-8h0m17 6h0m10-2h0m15 9h0m9 0h0m5-5h0m3-6h0m2 9h0m8-10h0m3 0h0m18 12h0m7-2h0m4 1h0m3-10h0m5 5h0m56-3h0m2 1h0m2-4h0m2 6h0m3 6h0m1-2h0m3-5h0m1 3h0m6-4h0m9 0h0m12 7h0m2-5h0m13-1h0m4 0h0m2-6h0m7 4h0m3 6h0m11-5h0m5 6h0m4-11h0m6 2h0m2 6h0m2-1h0m4 1h0m1 0h0m2 4h0m0-5h0m2-1h0m2-1h0m2 5h0m1-9h0m5 10h0m1-2h0m1 1h0m2-2h0m1-1h0m38 4h0m5-1h0m8-5h0m2 3h0m16-8h0m5 13h0m5-10h0m5 4h0m0-3h0m3-2h0m3 3h0m2 7h0m4-3h0m5-2h0m6 3h0m2 2h0m2-12h0m6 4h0m10-4h0m2 10h0m3-10h0m0 10h0m3 2h0m9-6h0m0 8h0m1-2h0m6-5h0m9-1h0m17-3h0m3 5h0m2-8h0m0 3h0m2 0h0m0-1h0m1 5h0m3 0h0m4 6h0m5-2h0m1-1h0m0-3h0m0 2h0m6 4h0m0-6h0m3 3h0m3-7h0m5-1h0m0 10h0m20-9h0m4-3h0m2 7h0m1 6h0m1-9h0m1 8h0m10 1h0m2-11h0m0 10h0m4 0h0m2-9h0m17-2h0m1 11h0m34-3h0m1 3h0m3-6h0m1 0h0m2 0h0m2 7h0m0-7h0m1 4h0m3-4h0m18-4h0m5 7h0m5-9h0m0 4h0m1 3h0m2-6h0m3 5h0m0-2h0m1 7h0m0-8h0m15 5h0m3-5h0m0-2h0m1 7h0m3 2h0m2-9h0m5 4h0m2-5h0m3 5h0m5-5h0m12 8h0m2-2h0m2-1h0m1 7h0m2-2h0m15-2h0m6-2h0m2-5h0m18 4h0m6-3h0m4 10h0m2 1h0m1-3h0m8-6h0m4 4h0m6 3h0m7-8h0m5 10h0m5-6h0m0 0h0m10 2h0m0-2h0m14 2h0m21-8h0m3 0h0m5 0h0m2 1h0m1-2h0m1 10h0m0-1h0m3-9h0m1 4h0m0 0h0m3 2h0m2 5h0m1-4h0m32-6h0m2 9h0m1-5h0m1-4h0m3 1h0m0 6h0m1 4h0m0-2h0m2-7h0m3 11h0m3-4h0m13-3h0m14 4h0m0-9h0m10-1h0m0 10h0m1-1h0m3-9h0m22 8h0m1 1h0m15-6h0m6 9h0m2-5h0m1 1h0m6 4h0m1-9h0m9-4h0m28 0h0m7 12h0m2-1h0m11-9h0m1 8h0m5-3h0m1-2h0m3-4h0m2 1h0m10-1h0m34 3h0m0-4h0m0 5h0m2 2h0m1 1h0m5 4h0m0-8h0m1 6h0m0-2h0m1-8h0m1 0h0m1 3h0m2 6h0m3-4h0m2-4h0m0 8h0m29 2h0m0-2h0m1-7h0m0 1h0m23 6h0m2-5h0m0-1h0m1 1h0m23 1h0m15 5h0m1-4h0m2 5h0m6 1h0m1-1h0m2-10h0m20 12h0m10-12h0m0 5h0m1 4h0m1 1h0m12 2h0m13-9h0m7-3h0m4 6h0m1-1h0m11 3h0m8-5h0m4-2h0m5 8h0m40-6h0m1 5h0m24-8h0"/><path stroke="#cec5c5" stroke-width="4.4" d="m248 1202h0m1 0h0m2-11h0m0 10h0m4-5h0m5 5h0m11-8h0m2 4h0m3 1h0m2-1h0m1-5h0m1 1h0m2-1h0m3 8h0m0-4h0m0-1h0m2-4h0m3 11h0m6-5h0m4-1h0m7-3h0m3 7h0m0-8h0m0 6h0m1 6h0m0-3h0m0-8h0m3-1h0m0 9h0m0-1h0m1-1h0m0-1h0m1-1h0m1 5h0m1-8h0m0 0h0m1 2h0m0-2h0m2-3h0m0 2h0m3 9h0m3-11h0m1 5h0m5 7h0m1-2h0m23-9h0m7 11h0m24-12h0m3 2h0m11 3h0m5 3h0m21-6h0m42 1h0m2-3h0m0 5h0m3 1h0m1-2h0m6 4h0m6 2h0m0-3h0m2-6h0m5 2h0m2 4h0m9-7h0m1 8h0m6-7h0m4 9h0m0-7h0m18-3h0m10 13h0m5-13h0m6 11h0m4 1h0m5-4h0m2-1h0m1 1h0m1-8h0m1 0h0m3 4h0m0 3h0m1 4h0m4-2h0m1-2h0m1 5h0m1-2h0m2 1h0m5-7h0m1 4h0m2 3h0m2-3h0m1-1h0m1-5h0m0 4h0m0 3h0m2 0h0m1 2h0m2 1h0m1-4h0m0-5h0m0 2h0m0 6h0m2-11h0m1 8h0m2-3h0m9 5h0m6 2h0m15-4h0m1 1h0m2-2h0m4-5h0m26 7h0m2 1h0m2-5h0m4 1h0m0 6h0m1-12h0m1 12h0m0-4h0m2-5h0m2 0h0m1-1h0m1-2h0m14 0h0m16 2h0m8 3h0m5-4h0m0 6h0m1 4h0m0-1h0m15 1h0m3-6h0m1-3h0m4 0h0m5 2h0m1-3h0m3 9h0m20 1h0m21-4h0m10-5h0m0 7h0m5 4h0m6-7h0m4 0h0m2 3h0m2-1h0m0 3h0m2-10h0m1 8h0m3 3h0m5-3h0m7 0h0m10 2h0m4-1h0m2-2h0m10 4h0m1-8h0m2-1h0m3-1h0m1 3h0m1 3h0m5-5h0m6 0h0m1 1h0m0 7h0m8-4h0m1-1h0m2-1h0m7 6h0m3-3h0m2 4h0m8-11h0m0 7h0m5 2h0m6 3h0m2-6h0m16 5h0m5-1h0m1-10h0m14 2h0m0 9h0m1-9h0m0 0h0m3 5h0m2-8h0m7 2h0m5 4h0m2 1h0m15 3h0m17-1h0m0-4h0m1-1h0m3 7h0m4 1h0m2-12h0m4 2h0m5 5h0m2-6h0m1 5h0m0 2h0m1-2h0m2-5h0m0 3h0m2-1h0m1 10h0m0-8h0m1 3h0m3 1h0m3 2h0m2-2h0m8-2h0m3 6h0m5-12h0m0 2h0m5-2h0m3 8h0m17-6h0m3 4h0m3 5h0m1-12h0m3 12h0m1-10h0m4 5h0m1-2h0m2 5h0m5 2h0m3-9h0m28 6h0m3 3h0m2-3h0m1-9h0m1 3h0m1 1h0m2 4h0m0 3h0m1-9h0m6 3h0m3 0h0m5 7h0m0-5h0m1-7h0m5 11h0m0-6h0m22-1h0m21 2h0m3-4h0m0 9h0m5-10h0m9 8h0m17 3h0m16-7h0m3 5h0m1-3h0m4 4h0m5-8h0m3 8h0m6-3h0m3-2h0m0-4h0m11 2h0m2 5h0m1-8h0m1 10h0m0 1h0m1-5h0m1-3h0m3 4h0m0-1h0m2-4h0m4 8h0m17-1h0m1 2h0m43-11h0m3-1h0m11 6h0m38 1h0m2 1h0m8-5h0m1 10h0m18-10h0m0 2h0m4-4h0m0 3h0m1 6h0m0 3h0m1-4h0m1 0h0m0-4h0m0-3h0m1 4h0m6-2h0m5-2h0m2 1h0m0 6h0m17-1h0m11-4h0m1 0h0m0-2h0m12-2h0m9 1h0m15 0h0m13 12h0m1-1h0m2-3h0m1-4h0m1 2h0m2 5h0m1-5h0m1 5h0m1-2h0m2-8h0m0 2h0m2 8h0m2-6h0m3-2h0m17 8h0m0-8h0m8-1h0m16 9h0m0-9h0m7 0h0m2-2h0m0 6h0m2 5h0m0-4h0m0-6h0m4 8h0m0 1h0m25-7h0m7-2h0m1 6h0m7-6h0m2 11h0m3-10h0m2 9h0m3 1h0m1-5h0m2 5h0m6-8h0m3 1h0m1 1h0m28 5h0m3-10h0m16 1h0m2 2h0m5 6h0m3-4h0m3-6h0m0 9h0m6 2h0m3-11h0m4 3h0m6 2h0m3-4h0m3 8h0m1-6h0m0-4h0m2 4h0m12 5h0m1 2h0m1-9h0m1-1h0m2 10h0m2-7h0m8-4h0m6 6h0m3 4h0m15-8h0m6 0h0m0 9h0m1-8h0m3 5h0m4 4h0m7-3h0m10 1h0m2 2h0m4-6h0m9-1h0m2 2h0m2 6h0m1-9h0m5-2h0m5 7h0m2-5h0m2-3h0m12 3h0m2-2h0m9 1h0m0-2h0m2 4h0m2-4h0m3 7h0m1-4h0m1-2h0m3 1h0m19 2h0m13-5h0m8 6h0m1 0h0m0 4h0m1-9h0m0 11h0m1-10h0m0 1h0m10 0h0m1 0h0m5 6h0m4-8h0m2 8h0m3 0h0m3 3h0m4-5h0m1 3h0m8 2h0m0-8h0m1 0h0m1 1h0m12 8h0m7-3h0m2-2h0m2 1h0m1-6h0m1 1h0m1 1h0m1 7h0m0-5h0m3-2h0m12-1h0m3 4h0m6-6h0m11 2h0m12-1h0m7 1h0m2 8h0m1-4h0m0-8h0m2 13h0m3-1h0m12-10h0m8 6h0m10 1h0m2 1h0m22 1h0m4 1h0m17-9h0m3 9h0m3-1h0m2 0h0m24-7h0m8-1h0m5 0h0m0 6h0m1 2h0m1-7h0m16 1h0m23-1h0m0-3h0m15 1h0m11 11h0m1-5h0m2 3h0m1-6h0m7 0h0m0 3h0m7 3h0m7-8h0m14 4h0m0-7h0m0 2h0m1 0h0m21 11h0m2-13h0m0 5h0m0 2h0m1 2h0m5 3h0m1-7h0m2 6h0m1-11h0m1 6h0m1-6h0m0 11h0m2-7h0m1 5h0m32-4h0m5-1h0m25 7h0m1 2h0m1-5h0m3 1h0m7 0h0m5-4h0m0 6h0m3 0h0m1 1h0m2-5h0m1 1h0m0-7h0m5 4h0m0 3h0m4 0h0m13-7h0m0 7h0m13 3h0m11-9h0m10 3h0m10 3h0m2-4h0m4-1h0m2 7h0m4-4h0m2-4h0m1 6h0m3 1h0m28-2h0m9 4h0m3 0h0m0-9h0m7 6h0m5 3h0m4-7h0m4-1h0m1-3h0m4 10h0m1-1h0m1 0h0m1-8h0m9 10h0m7 0h0m0 2h0m1-7h0m2-3h0m57 4h0m11-7h0m3 12h0m2 0h0m1-9h0m1 9h0m1-2h0m1-7h0m7-1h0m1 9h0m0-10h0m4 9h0m4-1h0m2-1h0m19 3h0m0-5h0m7-2h0m8 6h0m3 0h0m2 2h0m2-1h0m2-2h0m1 2h0m1-10h0m2 5h0m1-6h0m4 13h0m1 0h0m3-12h0m0 11h0m1-6h0m0 2h0m4 5h0m1-7h0m11 6h0m9-1h0m13 0h0m4 1h0m6-3h0m6-8h0m2 8h0m2 4h0m2-13h0m1 0h0m6 13h0m14-5h0m2 3h0m2-1h0m2-3h0m20-6h0m6 1h0m4 10h0m3-3h0m2-9h0m1 13h0m1-11h0m6 1h0m0-3h0m2 0h0m1 1h0m0 0h0m1 7h0m0-7h0m1 6h0m3-3h0m0 4h0m0-8h0m1 1h0m0 11h0m1-12h0m0 12h0m1-11h0m2-1h0m1 13h0m4-13h0m2 8h0m5 4h0m2-10h0m2 9h0m2 0h0m1-3h0m4 0h0m0-4h0m3 5h0m26 0h0m5 2h0m6-3h0m17-2h0m1-2h0m0 6h0m6 2h0m1-8h0m5 4h0m1-2h0m2 6h0m3-2h0m3 1h0m3-6h0m1 7h0m2-9h0m0 4h0m12 0h0m6-3h0m1 3h0m0-2h0m4 0h0m1 3h0m1-4h0m0 8h0m3 1h0m1-1h0m1-5h0m3 0h0m2-1h0m1 4h0m5-6h0m29 1h0m3 3h0m3-8h0m0 4h0m1-3h0m1 7h0m1 1h0m0-4h0m1 4h0m0-8h0m0 5h0m1 0h0m2 5h0m1-10h0m2 7h0m7-5h0m3 10h0m0-11h0m1-2h0m1 2h0m2 8h0m1-8h0m1 6h0m4-3h0m9 3h0m1 2h0m1-2h0m0 4h0m14-2h0m4-1h0m0 2h0m2-11h0m1 2h0m1-2h0m1 5h0m1 7h0m4-9h0m1 10h0m6-11h0m2 0h0m9 2h0m9 1h0m4-5h0m2 9h0m1 1h0m0 1h0m0 2h0m2 0h0m1-13h0m6 8h0m5-1h0m0 5h0m2-12h0m7 9h0m0 0h0m34-5h0m4 2h0m6-4h0m4 8h0m1-7h0m3-1h0m3-2h0m6 10h0m6-9h0m3 5h0m3-6h0m7 3h0m27 3h0m1-5h0m6 0h0m17-1h0m4 3h0m1 9h0m1 0h0m5 1h0m13-9h0m1-3h0m1 4h0m0 4h0m1 3h0m2-4h0m4 0h0m0-2h0m6-2h0m63 8h0m4-1h0m2-7h0m4-1h0m3 10h0m2-7h0m1 1h0m1-6h0m18 6h0m1-5h0m7-1h0m2 0h0m2 7h0m1 3h0m7-3h0m3-1h0m3 1h0m8 1h0m13-3h0m9 6h0m1-9h0m22 1h0m1 7h0m34-3h0m0-1h0m3 4h0m5-2h0m1-1h0m2-3h0m5-1h0m4-4h0m1 3h0m7 2h0m5 0h0m8 4h0m4-6h0m2-1h0m0 3h0m14-4h0m5 6h0m1 4h0m3-7h0m2 1h0m13 0h0m1 6h0m6-8h0m2 6h0m3 4h0m2-2h0m9 1h0m58-10h0m24 11h0m2-10h0m7-3h0m1 3h0m3 2h0m1 8h0m2-11h0m4-1h0m0 9h0m0-8h0m0 9h0m1-9h0m1 8h0m1 0h0m1 2h0m0-1h0m0-6h0m1 7h0m0-4h0m0 1h0m0-2h0m2 1h0m1 0h0m1-6h0m2 0h0m3 2h0m15 1h0m2 5h0m4 0h0m6 3h0m8-8h0m2 5h0m3-3h0m0 6h0m3-2h0m2-2h0m5-3h0m7-2h0m19 0h0m2 3h0m7-3h0m7 6h0m4 1h0m1-1h0m1-3h0m1 2h0m3-9h0m0 0h0m1 4h0m0 8h0m2-8h0m1 7h0m0 0h0m5-7h0m2-3h0m5 3h0m3 1h0m17 2h0m4 0h0m0-5h0m2 6h0m1-7h0m4 11h0m5-5h0m7-3h0m1 6h0m8-5h0m8 5h0m3 0h0m1-1h0m0-1h0m0-2h0m0 6h0m5 0h0m2-6h0m7-6h0m0 12h0m2-10h0m5 2h0m0 1h0m11 3h0m3-6h0m4 8h0m3-8h0m0 1h0m1-1h0m3 2h0m1 2h0m1-4h0m24 0h0m4 10h0m2-3h0m2-1h0m0-3h0m1-4h0m1 8h0m9 0h0m4-9h0m4 0h0m1 5h0m0-1h0m0 0h0m1 3h0m2-6h0m0 10h0m0-10h0m0 5h0m2 4h0m1-3h0m5-3h0m3 2h0m3-2h0m1 0h0m7 7h0m5-4h0m1-2h0m3 3h0m1-8h0m3 12h0m3-5h0m19-7h0m22 8h0m5-3h0m0 7h0m5-3h0m0 1h0m2-9h0m0 11h0m0-4h0m0 4h0m1-11h0m1-1h0m5 3h0m24-2h0m11-1h0m8 7h0m5-5h0m0 7h0m10 0h0m5 1h0m4-2h0m6 3h0m0-11h0m1 11h0m3-7h0m3 4h0m0 2h0m2-2h0m2-8h0m3 3h0m1 7h0m0 1h0m10-9h0m18 4h0m5-6h0m1 13h0m2-4h0m1-3h0m0-3h0m0 6h0m4-4h0m0-4h0m2 3h0m0 1h0m1 8h0m0-9h0m5 1h0m2 6h0m1-4h0m2-4h0m4 10h0m2-1h0m0 0h0m2-2h0m21-9h0m2 9h0m1-1h0m1-9h0m3 12h0m1 1h0m3-8h0m7 1h0m28-2h0m4 6h0m3-9h0m5 3h0m1 1h0m0 1h0m2-6h0m0 0h0m1 0h0m1 0h0m0 6h0m1-1h0m0-4h0m1 9h0m2-2h0m6-1h0m1 3h0m34-8h0m4-1h0m3 10h0m13-5h0m4-1h0m5 8h0m3-9h0m0 3h0m39-4h0m1 6h0m2 0h0m1-7h0m4 0h0m0-1h0m0 6h0m1 5h0m4-4h0m3 4h0m1 1h0m2-4h0m0 2h0m0-10h0m5 10h0m1-11h0m2 13h0m2-6h0m21 0h0m2 4h0m22-8h0m8 1h0m16 1h0m3 7h0m15 1h0m3-4h0m1-1h0m11-8h0m1 13h0m11-13h0m8 8h0m9-6h0m5-2h0m2 1h0m20 0h0m11 5h0m19-1h0m1-3h0m7 9h0m6-7h0m15 8h0m0-9h0m4 2h0m36 8h0"/><path stroke="#ae6767" stroke-width="4.4" d="m277 1384h0m32 8h0m5-1h0m78-6h0m95 8h0m79 3h0m15-4h0m72-1h0m24-4h0m3 7h0m34-4h0m63 5h0m258-2h0m92-10h0m192 11h0m3-1h0m192-1h0m162-9h0m82 3h0m2 4h0m214 1h0m60-3h0m180-1h0m196 5h0m16 1h0m47 2h0m179-11h0m99 8h0m43-4h0m92 6h0m40-7h0m163 2h0m20 4h0m17-8h0m29 10h0m0-1h0m9-2h0m104-5h0m113-4h0m365 9h0m86-2h0m124-1h0m3-4h0m12-1h0m70 1h0m35 5h0m1-7h0m44 1h0m24 3h0m1 1h0m1 3h0m0-9h0m5 1h0m27 3h0m19-3h0m38 2h0m84 9h0m7-7h0m40-2h0m2 7h0m2-2h0m2-7h0m2 0h0m5 11h0m1-2h0m2 1h0m129-8h0m95 5h0m3-3h0m6 4h0m3-1h0m41 2h0m5 4h0m0-11h0m4 7h0m5 1h0m2-4h0m19-4h0m23 9h0m44-7h0m23 4h0m25 2h0m21-4h0"/><path stroke="#aaaac5" stroke-width="4.4" d="m261 1088h0m5-5h0m14-1h0m1 9h0m4-7h0m8-1h0m4 4h0m0-3h0m3 8h0m7-11h0m4 0h0m4 11h0m1-7h0m0-3h0m1 5h0m1 1h0m0 1h0m3-3h0m0-1h0m5 9h0m6-1h0m13-4h0m4-5h0m11 2h0m24-4h0m8 2h0m0 6h0m1-4h0m3-3h0m10 9h0m1-1h0m5-1h0m2 4h0m58-5h0m2-1h0m10 5h0m23-3h0m8 4h0m13-9h0m7 3h0m4-3h0m7 5h0m1-1h0m30-2h0m1 6h0m4-5h0m5-5h0m0 2h0m6-2h0m0 8h0m1 2h0m0 0h0m3 1h0m1-3h0m4-2h0m0 2h0m2-5h0m0-1h0m1 8h0m13 0h0m0-5h0m3-3h0m22 2h0m4-2h0m1 7h0m2 1h0m20-7h0m8 0h0m2 4h0m1 1h0m0 1h0m3-6h0m2 7h0m12-7h0m0-1h0m2 8h0m8-5h0m23-3h0m2 8h0m4-8h0m6 7h0m1 3h0m1-8h0m2 1h0m0-5h0m7-1h0m0 11h0m24-7h0m0 0h0m1-4h0m1 11h0m13-7h0m2 3h0m9-4h0m6-1h0m0 0h0m0 6h0m18-2h0m3 6h0m5-2h0m2-8h0m10 3h0m18 4h0m8-3h0m1 2h0m2-9h0m13 9h0m5-8h0m5 7h0m6-7h0m1 0h0m0 3h0m12-3h0m4 2h0m6 3h0m15-1h0m10-3h0m2 6h0m5-2h0m2-5h0m7 1h0m1 0h0m3 4h0m12-3h0m13-2h0m20 9h0m1 3h0m0 0h0m8-5h0m5 0h0m2 4h0m9-5h0m1-3h0m8 8h0m0-2h0m0-8h0m0 5h0m1-4h0m5 7h0m1-1h0m2-3h0m13 5h0m34-5h0m0 6h0m3 0h0m1 0h0m2-4h0m4-6h0m4 1h0m6 2h0m34 1h0m6 0h0m2 2h0m6-4h0m7 2h0m1 4h0m2-4h0m2 4h0m1-7h0m1 4h0m4 1h0m1-3h0m1 1h0m4-1h0m2 9h0m1-4h0m0-5h0m4 6h0m5-11h0m7 11h0m20 0h0m5-11h0m25 12h0m4-2h0m2-4h0m2 3h0m8-4h0m1 4h0m3-1h0m1 3h0m5-11h0m14 3h0m1 3h0m4 2h0m4-2h0m7-2h0m13 2h0m3-5h0m4 10h0m2-9h0m9 11h0m11-11h0m3 5h0m19 2h0m3 2h0m16-1h0m2 3h0m16-10h0m7 6h0m13-6h0m3-2h0m1 12h0m11-2h0m8-1h0m9 3h0m0-8h0m4 0h0m0 6h0m0-6h0m8 7h0m4-8h0m2 3h0m10-1h0m6-5h0m15 7h0m4-2h0m15 6h0m5 1h0m4-10h0m16 2h0m2 2h0m9 3h0m2-1h0m2-1h0m10 1h0m4-5h0m23 3h0m17 7h0m0-6h0m2-4h0m15 6h0m0-8h0m1 9h0m0-7h0m21-3h0m1 10h0m3-3h0m3 6h0m6-3h0m0-9h0m11 4h0m3 1h0m7 1h0m1-2h0m5-1h0m2-1h0m30-3h0m2 4h0m1-3h0m0 8h0m2-8h0m1 3h0m1-3h0m1 11h0m3-11h0m2 1h0m1 9h0m0-11h0m0 12h0m0-2h0m1-6h0m1 8h0m6-5h0m3-2h0m3-1h0m14 5h0m4-7h0m21 8h0m3 2h0m13-2h0m9-5h0m1 4h0m4-4h0m1-4h0m11 1h0m22 0h0m13 9h0m9-3h0m6-1h0m3 3h0m6-4h0m1 5h0m12-7h0m2 7h0m8-7h0m5 7h0m27-12h0m10 14h0m0-2h0m2-2h0m5-1h0m1-9h0m1 13h0m1 1h0m1-5h0m0 2h0m6-1h0m1 1h0m3-5h0m0 4h0m20-9h0m2 7h0m2-2h0m5 2h0m1 2h0m18-9h0m6 12h0m0-3h0m1-10h0m15 3h0m0 4h0m10-1h0m6-2h0m1-1h0m2-1h0m9 0h0m8 4h0m7 3h0m0-7h0m2 10h0m2-10h0m2 9h0m2-2h0m1 0h0m9 2h0m4-5h0m1 2h0m7-7h0m12 8h0m11 1h0m13 3h0m9-6h0m10 5h0m2-8h0m1-3h0m0 9h0m2-10h0m0 2h0m0 7h0m2 4h0m0-8h0m1 6h0m25-6h0m1 0h0m1-4h0m1 0h0m0 2h0m1-1h0m1 8h0m0-7h0m2 7h0m4 3h0m1 0h0m1 0h0m1-5h0m1-5h0m11 9h0m3 0h0m7-1h0m11-7h0m3-2h0m3-1h0m1 11h0m2-6h0m6 2h0m1-2h0m9-6h0m10 3h0m5-1h0m1 7h0m1 3h0m1-9h0m7 6h0m2-6h0m1 0h0m3 1h0m13 6h0m3-5h0m2 5h0m4-9h0m15 11h0m8-7h0m1 8h0m1-4h0m3-6h0m2 4h0m10-3h0m13 3h0m7-5h0m2 3h0m30 3h0m2 5h0m7-13h0m4 1h0m5 11h0m16 2h0m0-10h0m9-1h0m1 7h0m4 0h0m9-4h0m7 0h0m4-4h0m4 4h0m1 3h0m1 3h0m6-11h0m16 0h0m9 8h0m4-6h0m3 5h0m10-6h0m3 10h0m22-9h0m5 5h0m2 0h0m3-4h0m5 7h0m2-3h0m4 0h0m83 0h0m9-2h0m3 0h0m1 4h0m1-8h0m1 0h0m1 5h0m3-3h0m0 9h0m5-2h0m29-2h0m6-8h0m12 4h0m4 6h0m3-10h0m10 7h0m1-1h0m6 6h0m0-8h0m5 1h0m0-3h0m10 2h0m3-1h0m0-1h0m1 2h0m1 4h0m0 2h0m33-1h0m6-6h0m4 5h0m53 4h0m4 0h0m4-5h0m5 5h0m4-12h0m1 12h0m2-7h0m1 0h0m0-4h0m4 4h0m1 1h0m1-3h0m8-1h0m16 4h0m7 3h0m34 4h0m31-3h0m1-5h0m8 0h0m3-1h0m1 3h0m1-3h0m2 8h0m0-4h0m0-1h0m20-4h0m0-4h0m9 12h0m5-7h0m27-4h0m10 8h0m1-5h0m2 4h0m9 4h0m1-4h0m10-4h0m3 1h0m1 4h0m2 4h0m3-9h0m2-3h0m1 1h0m18 2h0m3 2h0m2 4h0m2-9h0m2 0h0m6 4h0m6-4h0m1 7h0m39-2h0m3 2h0m6 0h0m6 0h0m8-5h0m55 8h0m8 1h0m1-3h0m8-3h0m19-1h0m5-3h0m2 4h0m1 2h0m30 5h0m7-9h0m2 6h0m6-3h0m4-1h0m1 4h0m6 3h0m1-7h0m65-1h0m8-1h0m1-1h0m1 8h0m2-3h0m1-5h0m19 10h0m1-9h0m6 4h0m2 1h0m3-1h0m2 4h0m10 0h0m1-9h0m5 5h0m13 0h0m2 2h0m34-3h0m41-6h0m3 12h0m1-3h0m1-1h0m6-2h0m2 4h0m5-10h0m3 5h0m22-2h0m17-1h0m1-3h0m25 12h0m10-11h0m1 12h0m13-10h0m4 7h0m3 1h0m7-4h0m6 2h0m40 1h0m6-1h0m30-2h0m2 5h0m4 2h0m2 0h0m30-11h0m0 4h0m7-3h0m1 2h0m3 7h0m18-4h0m6 3h0m39-1h0m5 2h0m3-2h0m1-1h0m40-2h0m2-7h0m1 1h0m10 9h0m17-10h0m0 12h0m2-10h0m3 8h0m4 0h0m1-4h0m17-2h0m2 1h0m13-1h0m4 5h0m8 1h0m4-4h0m1-5h0m22 0h0m14 2h0m8 1h0m8 8h0m1-8h0m7 3h0m14-2h0m1-1h0m9 0h0m7 8h0m1-6h0m7-5h0m1 2h0m1 6h0m28 1h0m1-8h0m0 3h0m7 4h0m6 1h0m3 2h0m22-12h0m2 0h0m1 9h0m12-9h0m2 4h0m15-5h0m7 8h0m6-7h0m1 11h0m10 1h0m20-2h0m29-5h0m8-1h0m4 4h0m1 2h0m9-2h0m16-7h0m4 1h0m8 3h0m5-5h0m1 6h0m1-4h0m1 8h0m3-7h0m3 0h0m1 2h0m18 5h0m5-11h0m16 11h0m4-4h0m1 0h0m0 6h0m0-7h0m2 0h0m1-6h0m1 8h0m12 4h0m2-1h0m18-1h0m19 3h0m2 1h0m1-5h0m3-8h0m1 0h0m4 11h0m7-3h0m8 3h0m10 1h0m31-8h0m6 0h0m18 4h0m8 4h0m13-12h0m2 10h0m0-1h0m44-7h0m10-2h0m57 8h0m36 1h0m46-6h0"/><path stroke="#d3d3d3" stroke-width="4.4" d="m248 1167h0m4 4h0m0 1h0m1 3h0m0-3h0m1-7h0m0 6h0m3 5h0m4-3h0m5-6h0m0 7h0m1 0h0m1-5h0m1-5h0m1 4h0m3 4h0m2 5h0m3-10h0m1 8h0m5-8h0m1 7h0m1-5h0m2-1h0m3-1h0m9-1h0m2 7h0m2-3h0m4 2h0m1 4h0m0-3h0m1-8h0m0 6h0m1 0h0m1 1h0m1 2h0m0 0h0m0 3h0m1-2h0m0-11h0m0 5h0m1 7h0m0-6h0m0 4h0m0-3h0m1-2h0m0-3h0m1 10h0m0-7h0m0 6h0m2-11h0m1 3h0m1-2h0m1 11h0m5-6h0m1 6h0m1-3h0m1 3h0m5-4h0m9 2h0m5 1h0m9-5h0m12-1h0m5-1h0m1 2h0m3-2h0m3-2h0m2 10h0m2-8h0m2 7h0m0-7h0m1 8h0m3-4h0m0 4h0m0-4h0m1-6h0m0 4h0m0-2h0m3 9h0m1-10h0m1 9h0m2-9h0m1-2h0m1 5h0m9-2h0m0-2h0m5 2h0m2 8h0m50-13h0m3 11h0m2-2h0m1 0h0m0 2h0m0-3h0m1-6h0m0 0h0m0 7h0m3-1h0m5-6h0m2 7h0m3 1h0m10-3h0m8-2h0m1 5h0m1-6h0m2 5h0m1 1h0m7-3h0m4-2h0m14 1h0m6-2h0m19-3h0m12 2h0m1-1h0m3 12h0m1-1h0m2-3h0m0-3h0m1 1h0m2-4h0m2 8h0m0-7h0m1 1h0m2 2h0m2 2h0m0 0h0m0-4h0m0-3h0m0 9h0m0-11h0m3 9h0m0 1h0m1-3h0m2 4h0m1-4h0m0 2h0m0-6h0m2-3h0m0 4h0m3-3h0m1 2h0m1 0h0m1 6h0m7-9h0m0 0h0m7 10h0m1 3h0m5-7h0m16 1h0m2-1h0m4-6h0m14 5h0m3 3h0m5-3h0m3 5h0m6 1h0m3 1h0m0-12h0m0 8h0m1-5h0m1-3h0m13 6h0m1-3h0m0 9h0m1 0h0m0-11h0m27 4h0m0 1h0m5 6h0m1-4h0m2 2h0m4-8h0m3 9h0m1-10h0m0-2h0m1 3h0m0-2h0m0 9h0m8-9h0m1 7h0m4-5h0m6 8h0m17-7h0m2 1h0m0-1h0m1 4h0m3 2h0m26 2h0m4 1h0m9-10h0m12 5h0m1 0h0m5-4h0m2 2h0m6 2h0m1 1h0m0-4h0m5 2h0m1 4h0m2-11h0m3 7h0m11 2h0m3-5h0m2-1h0m9 1h0m1 1h0m1 8h0m0-2h0m4-6h0m2-1h0m1 1h0m2-1h0m1-3h0m1 2h0m6 0h0m2 7h0m2-6h0m2 7h0m7 0h0m2 0h0m1-8h0m3 2h0m9 8h0m5-4h0m5-1h0m1 4h0m5 2h0m1-5h0m1 4h0m0-3h0m3-7h0m1 8h0m1-5h0m5 3h0m1-4h0m2 2h0m1 5h0m12 0h0m2-8h0m1 1h0m11-3h0m3 3h0m16-3h0m15 6h0m1 4h0m3-5h0m1 7h0m0-3h0m3-10h0m0 9h0m0-5h0m2-3h0m0 2h0m6 7h0m8-5h0m0 6h0m1-3h0m2-1h0m1-2h0m0 2h0m0-1h0m1-4h0m0 7h0m1-6h0m1 9h0m17-12h0m0 4h0m1 9h0m3-4h0m7-4h0m10-4h0m1-1h0m7 10h0m9-2h0m0 2h0m0-7h0m2 8h0m4-10h0m2 5h0m4 0h0m8-1h0m0-3h0m28-2h0m2 9h0m1-2h0m2 2h0m2 0h0m0-3h0m3 1h0m0-1h0m2 5h0m1-1h0m7-3h0m3-5h0m4 3h0m2-5h0m0 6h0m0-1h0m4 5h0m3-1h0m0-9h0m1 4h0m2-3h0m2 1h0m1 0h0m7 9h0m15 1h0m2-4h0m1-9h0m0 11h0m4-6h0m2 0h0m3-2h0m3 1h0m3-3h0m2 0h0m1 7h0m25-5h0m16 8h0m3-9h0m1 0h0m4 0h0m2-2h0m4 2h0m7 2h0m3 0h0m0 7h0m2-5h0m2 5h0m10-11h0m1 0h0m0 1h0m1 2h0m1 1h0m12 8h0m9-5h0m20-1h0m33 4h0m1 1h0m0 3h0m0-14h0m1 11h0m0-4h0m6-2h0m1-4h0m1 6h0m16-4h0m4 5h0m1 0h0m2-6h0m1 3h0m14-1h0m1 2h0m4 6h0m1-11h0m2 13h0m1-11h0m21-1h0m1-1h0m2 6h0m2-1h0m3-2h0m7 2h0m9 3h0m4 4h0m21-3h0m0-10h0m1 11h0m16-7h0m5 0h0m11-1h0m4 7h0m1-5h0m3 7h0m0-9h0m14 4h0m4 2h0m3 3h0m0-2h0m2-5h0m8 4h0m0 0h0m16 3h0m1 0h0m7 0h0m0-6h0m3 6h0m3-2h0m10-7h0m2 2h0m0 1h0m0 5h0m5-9h0m1 7h0m4 3h0m3-10h0m24 9h0m5-3h0m4 0h0m2-4h0m0 1h0m2 3h0m2 2h0m5-2h0m8 2h0m12 1h0m4-11h0m6 13h0m5-7h0m1-5h0m1 12h0m20 0h0m0 0h0m1 0h0m3-12h0m2 5h0m0 2h0m1 4h0m2-3h0m2 2h0m2 1h0m2-11h0m1 2h0m3 8h0m12 1h0m2-9h0m4 6h0m4-6h0m1 7h0m0-7h0m14 9h0m3 1h0m2-5h0m13-6h0m2 4h0m17-2h0m1-3h0m1 7h0m5 4h0m1-4h0m0 2h0m3 1h0m3-7h0m1-3h0m0 9h0m16 2h0m1-4h0m3-2h0m1 3h0m1-5h0m4 10h0m2-13h0m8 4h0m2 5h0m1 2h0m1-10h0m2 2h0m1 7h0m4-2h0m0 2h0m1-1h0m0-3h0m1-2h0m4 3h0m0 5h0m1-1h0m9-11h0m2 9h0m4-2h0m1-4h0m0 8h0m1 1h0m2-3h0m3 3h0m1-7h0m1 7h0m2-7h0m1-3h0m5 0h0m1 10h0m1-3h0m20-4h0m2 1h0m8-7h0m6 3h0m1 2h0m4 1h0m1 5h0m5-7h0m2 6h0m1 0h0m1-2h0m2 1h0m1-9h0m1 13h0m1-7h0m1 6h0m17-2h0m2 2h0m2 1h0m1-9h0m1 9h0m4-12h0m2 1h0m15 2h0m13-1h0m1-2h0m0 5h0m8-3h0m11 1h0m6 2h0m0 5h0m8-4h0m4 5h0m8-10h0m1 12h0m0-11h0m5-1h0m2 2h0m7-3h0m1 10h0m9-4h0m8 1h0m13-5h0m25 1h0m7-1h0m2 6h0m7-3h0m6 0h0m0 4h0m4-3h0m1-2h0m0 6h0m4-3h0m1 4h0m0-11h0m24 8h0m0 4h0m0-2h0m3 1h0m6-4h0m0 1h0m1 2h0m4 2h0m3-10h0m5 9h0m6 0h0m2-7h0m4-3h0m1 4h0m10 2h0m3 1h0m1 1h0m6-5h0m9 1h0m6 5h0m7-4h0m0-4h0m10 11h0m1-4h0m3-7h0m7-3h0m8 7h0m10-2h0m2 6h0m21 0h0m2-10h0m5 8h0m0-2h0m1-2h0m1-3h0m1 11h0m1-3h0m1 0h0m2 1h0m9-10h0m12 9h0m10-6h0m2 9h0m6-5h0m23-3h0m1 2h0m0 0h0m1 5h0m0-1h0m1 1h0m0 0h0m4-6h0m5 7h0m1 0h0m1-2h0m2-4h0m2-7h0m2 13h0m1-9h0m1 8h0m0-6h0m0 2h0m4-7h0m2 13h0m2-11h0m2 0h0m6-2h0m7 12h0m10-2h0m0-5h0m11-3h0m2 6h0m0-8h0m6 6h0m3-5h0m1 1h0m8 0h0m4 7h0m4 2h0m17-12h0m3 4h0m9 8h0m4-1h0m2-7h0m3 1h0m1 0h0m2 9h0m3-2h0m22 1h0m1-3h0m1-6h0m1 4h0m3 2h0m1-5h0m1 7h0m2-11h0m3-1h0m3 8h0m2-6h0m8 2h0m4 6h0m13-8h0m42 6h0m0 4h0m1-10h0m3 9h0m2-2h0m1 3h0m11-3h0m1 0h0m0-5h0m2-1h0m3-2h0m0 5h0m0-4h0m0-1h0m12 4h0m29 3h0m0 1h0m3-7h0m3 10h0m6-10h0m6 9h0m2-4h0m8 3h0m0-3h0m1-1h0m2 0h0m1 0h0m0-5h0m4 3h0m0 5h0m0-6h0m3 10h0m0-6h0m1-4h0m0 10h0m1-2h0m1-9h0m13 11h0m6-5h0m0 0h0m2 3h0m2 2h0m11-7h0m12-4h0m1 2h0m5 6h0m0 3h0m0-5h0m2-8h0m4 7h0m2-6h0m2 10h0m39 3h0m3-2h0m8-1h0m7-4h0m1 6h0m0-10h0m3 0h0m1 4h0m1 0h0m0 1h0m1 4h0m3-7h0m0-1h0m2-1h0m0 7h0m2-3h0m1-2h0m1-2h0m0 10h0m14-9h0m2 3h0m1-6h0m5 6h0m6 6h0m1-6h0m0 5h0m2-4h0m0 2h0m1-3h0m1-7h0m5 6h0m3 5h0m1-7h0m10-3h0m6 3h0m2 5h0m1-6h0m2-1h0m0-2h0m1 1h0m1 8h0m1-8h0m7 0h0m2 9h0m7-6h0m7 7h0m2-1h0m1 1h0m4-6h0m3 0h0m5 4h0m6 2h0m2-5h0m3-4h0m1-1h0m1 12h0m3-10h0m2 3h0m14 0h0m0 0h0m0 4h0m2 0h0m1 3h0m1-2h0m5-10h0m1 3h0m1 8h0m1-1h0m3-10h0m18 13h0m9-13h0m6 6h0m4-7h0m1 1h0m0 6h0m2-3h0m3-1h0m1-2h0m2 2h0m2 9h0m1-7h0m2-4h0m1 9h0m1-4h0m4 7h0m1-9h0m0 1h0m2 6h0m2-2h0m2-7h0m1-1h0m3 8h0m1-3h0m7 0h0m0 6h0m4 1h0m1-11h0m2 2h0m4 2h0m0-4h0m11 3h0m4-2h0m3 8h0m0-9h0m6 11h0m4-5h0m5-2h0m19-3h0m5 8h0m1 0h0m1-5h0m8-4h0m1 3h0m9 5h0m5 4h0m1-9h0m1 6h0m2 3h0m4-12h0m28 11h0m0 0h0m3-12h0m5 4h0m5 8h0m7-3h0m4-4h0m3 1h0m3 6h0m4-8h0m9 0h0m9 0h0m0 1h0m2 5h0m0-9h0m3 1h0m7 9h0m1-8h0m0 4h0m0-7h0m1 8h0m0-4h0m1 0h0m2-1h0m5 8h0m3-8h0m2 5h0m0-7h0m10 7h0m5-3h0m4-3h0m1 3h0m3 1h0m3 5h0m4-8h0m1 5h0m1-5h0m3-3h0m1 10h0m1-6h0m1 1h0m4 2h0m2-8h0m1 11h0m3-8h0m1-1h0m47 10h0m6-6h0m2 1h0m1 0h0m14-2h0m1 7h0m1-10h0m1 8h0m2-7h0m0-2h0m14 13h0m0-11h0m0 8h0m6-2h0m4-4h0m3 0h0m7-1h0m1 6h0m8-6h0m0 10h0m4-2h0m3-10h0m33 1h0m54-2h0m2 7h0m2 5h0m0-12h0m2 6h0m1 7h0m1-2h0m0-2h0m0-2h0m2-7h0m6-1h0m2 8h0m1 3h0m10-2h0m12-7h0m1 3h0m3-1h0m7-1h0m0 7h0m5-8h0m10 7h0m1-8h0m10 12h0m0-10h0m1 5h0m1 4h0m9 1h0m1-11h0m0 6h0m3 2h0m0 4h0m1-2h0m5-3h0m2 0h0m5-6h0m3 2h0m0 1h0m0 6h0m1 1h0m0-12h0m2 9h0m0 1h0m5 3h0m6-5h0m1-4h0m4-4h0m1 5h0m1-3h0m43 4h0m5 3h0m11-2h0m1-6h0m2-1h0m2 6h0m12 3h0m0 3h0m0-2h0m3-1h0m0-8h0m0 11h0m0-9h0m0 6h0m1-2h0m0-8h0m1 10h0m1 4h0m1-4h0m2-9h0m1 5h0m1 1h0m0 5h0m5-9h0m3 8h0m7-6h0m6 9h0m1-2h0m0 1h0m1-9h0m0 8h0m2 2h0m11-8h0m5 6h0m2-1h0m0-1h0m3-2h0m2-3h0m1 7h0m8-8h0m4 10h0m28-8h0m3 4h0m3-3h0m6 6h0m3-1h0m0 0h0m0-7h0m1 2h0m2-4h0m3 6h0m1 3h0m1 1h0m0-13h0m0 7h0m2 6h0m1-6h0m2 5h0m2-9h0m2 4h0m28-7h0m2 10h0m1-3h0m1 2h0m3-2h0m7 4h0m3-9h0m1 1h0m3 10h0m1-7h0m1 7h0m6 0h0m17-3h0m10-7h0m16 4h0m2 5h0m1 1h0m2-6h0m2 1h0m1-1h0m1 1h0m1 6h0m3-10h0m0 6h0m1-5h0m27-2h0m4 3h0m2 4h0m2 3h0m1-5h0m1-5h0m1-3h0m0 4h0m9 4h0m1-4h0m1-4h0m8 13h0m1-6h0m3-2h0m2-1h0m1 3h0m1 6h0m0-1h0m1 1h0m0-9h0m1 7h0m0-7h0m2 5h0m19-6h0m5 1h0m1 0h0m0 4h0m0-7h0m1 2h0m0 1h0m4 0h0m6 3h0m2 5h0m4-4h0m0 6h0m7-7h0m15-5h0m1 11h0m1 0h0m6-12h0m1 6h0m4 2h0m0-1h0m2-1h0m1 0h0m4 2h0m1-7h0m8 7h0m16-1h0m2 4h0m1-5h0m2-4h0m0 9h0m2-10h0m17 2h0m12 4h0m0-7h0m13 4h0m2-2h0m6 8h0m12 2h0m1-10h0m22 1h0m11 3h0m0 5h0m2-4h0m0-5h0m2 3h0m1 0h0m4-4h0m3 4h0m1-1h0m9 1h0m4-1h0m9 3h0m9-2h0m1-6h0m1 7h0m1 7h0m0-11h0m0 10h0m1-7h0m10-3h0m1 4h0m3-4h0m0-1h0m1 9h0m1-10h0m0 12h0m0 0h0m15-6h0m2-5h0m5 0h0m6 0h0m4 3h0m1 4h0m1 0h0m2-8h0m1 1h0m2 3h0m1 9h0m0-4h0m2-5h0m0-1h0m0 6h0m1-8h0m1 1h0m2 1h0m0 2h0m3-3h0m1 5h0m29 1h0m18-1h0m1-8h0m1 5h0m8-2h0m0 5h0m6-2h0m0-6h0m0 7h0m2 5h0m3-3h0m0 2h0m2 1h0m2-10h0m0 4h0m1 6h0m2-11h0m41 9h0m1-6h0m1-3h0m0 3h0m4 5h0m6-2h0m9 5h0m2-5h0m2-7h0m0 8h0m5-6h0m11 11h0m2-11h0m1-1h0m1 8h0m15 1h0m5 1h0m9-4h0m34-3h0m13 9h0m1-9h0m4-2h0m16-1h0m3 3h0m3-2h0m3 9h0m2-5h0m6 4h0m19-9h0m8 9h0m8 2h0m13-2h0m12-9h0m6 11h0m19-2h0m35-2h0"/><path stroke="#9d9dc1" stroke-width="4.4" d="m260 1066h0m4-4h0m3 5h0m5-2h0m7 2h0m3-3h0m5-4h0m12 0h0m10 3h0m2-4h0m1 3h0m3-7h0m1 1h0m1 5h0m0 0h0m1-2h0m0 0h0m3 7h0m11-7h0m6 5h0m1-8h0m30 10h0m8-1h0m5 0h0m6-6h0m2-3h0m1 4h0m1 7h0m10-7h0m5-4h0m7 9h0m62-3h0m9-1h0m2 2h0m6-5h0m2 0h0m15 8h0m61 0h0m3-10h0m12 9h0m7-1h0m1-4h0m4 3h0m3 0h0m17 2h0m30 0h0m10-2h0m5-3h0m12 6h0m0-4h0m2-3h0m3 6h0m0-1h0m0-3h0m1 4h0m0-5h0m0 4h0m1-6h0m0 6h0m0-4h0m3-4h0m7 8h0m18-5h0m4 4h0m6 2h0m4-1h0m8-2h0m12-7h0m1 11h0m2-5h0m15 5h0m22-4h0m1 1h0m16-3h0m12 1h0m2 4h0m8-7h0m30 3h0m8-1h0m0 7h0m9-6h0m20 2h0m7 2h0m11-8h0m6 3h0m3 3h0m2 3h0m13-6h0m15-2h0m1 0h0m6-3h0m19-1h0m21 6h0m12-5h0m4 0h0m13 10h0m4-3h0m5 0h0m4-5h0m13 2h0m7 3h0m0 1h0m2-4h0m2 4h0m0 4h0m2-1h0m21-7h0m14-5h0m12 11h0m15-8h0m5 5h0m39-8h0m1 11h0m2 2h0m0-9h0m8 9h0m8-9h0m3 6h0m5-5h0m1 3h0m0-4h0m2-3h0m2 9h0m1 1h0m22-7h0m0 7h0m17-8h0m42 3h0m2-1h0m3 6h0m1 1h0m9-2h0m2-7h0m4 0h0m3 2h0m21 2h0m3-5h0m11-1h0m0 5h0m14 3h0m8-8h0m3 3h0m83 5h0m9-4h0m37 1h0m8-3h0m37 2h0m26-2h0m3-1h0m14 1h0m17 0h0m1 0h0m1 7h0m5-9h0m1 10h0m12-2h0m15-4h0m6 2h0m8-6h0m32 1h0m25 4h0m2 0h0m6-4h0m1 8h0m7 0h0m8 1h0m2-10h0m14-1h0m7 5h0m5-2h0m11 5h0m5 0h0m3-1h0m23-5h0m9 7h0m58-5h0m13 3h0m5-7h0m16 10h0m10 2h0m13-10h0m13 9h0m3 2h0m8-1h0m1 1h0m30-2h0m21-2h0m1 1h0m18 2h0m10-12h0m1 10h0m2 1h0m2 0h0m1 0h0m22-10h0m6 11h0m1 0h0m0-4h0m8 1h0m7-6h0m22 3h0m2-6h0m32 12h0m2 0h0m9-2h0m2-5h0m3 1h0m6 1h0m1-1h0m1-2h0m5-3h0m0 8h0m1 4h0m2-5h0m1 2h0m8-7h0m6 9h0m2-8h0m2 8h0m2-7h0m7 1h0m11 4h0m1 1h0m0-6h0m0 4h0m1-1h0m1-1h0m0 3h0m1-5h0m1-3h0m0 11h0m1-1h0m0-6h0m0 1h0m2-6h0m21 12h0m0-11h0m1 8h0m1-3h0m0 6h0m0-8h0m1 5h0m1-4h0m7 0h0m9 0h0m12 4h0m3-9h0m7 1h0m8 10h0m1-9h0m0 8h0m16-8h0m4 4h0m0 6h0m3-1h0m1 0h0m5-10h0m7 3h0m14 5h0m3 3h0m1-13h0m12 12h0m2-5h0m2-5h0m2 6h0m2-4h0m7 7h0m11 0h0m2-5h0m0-4h0m1 0h0m2 7h0m2-4h0m5-4h0m4 7h0m1-8h0m65 7h0m2-3h0m3-3h0m11-1h0m2 1h0m21-1h0m2 9h0m7-6h0m2 6h0m17-1h0m12-8h0m13 0h0m17 5h0m4 2h0m21-3h0m7 2h0m16 2h0m11 1h0m17-5h0m57 2h0m1 2h0m4 1h0m2-5h0m9 6h0m2 0h0m14-8h0m24 4h0m10-1h0m8 2h0m19-2h0m4-4h0m2 11h0m0-6h0m1 6h0m3 1h0m2-1h0m0 0h0m0-1h0m2-6h0m5 2h0m0 3h0m3-1h0m1-2h0m12-2h0m9 2h0m14-2h0m4 4h0m4-1h0m2-5h0m1-3h0m28 5h0m8 4h0m18-1h0m10 5h0m3-6h0m6 1h0m8-2h0m2 6h0m2-1h0m0-3h0m1-6h0m3 4h0m4-3h0m5 1h0m0 2h0m8 7h0m1-5h0m4-3h0m29 2h0m2 2h0m15-8h0m5 0h0m6 8h0m0 1h0m4 3h0m3-13h0m76 11h0m3-9h0m2 2h0m0 4h0m3 1h0m8 2h0m2-1h0m2-9h0m16 3h0m3 9h0m1-4h0m5 3h0m5-6h0m6-3h0m4 4h0m3 1h0m17 2h0m35-7h0m11 6h0m2-4h0m4-5h0m0 4h0m11-2h0m15 8h0m24-8h0m5 9h0m28-7h0m3-2h0m3 6h0m27-8h0m35 11h0m6-3h0m3 1h0m3 0h0m2 3h0m5-6h0m10-1h0m1 3h0m46 2h0m8-10h0m8 9h0m23 2h0m11-7h0m4 5h0m7 3h0m2-4h0m0-1h0m3 0h0m1 3h0m1-8h0m6 7h0m49-5h0m2 8h0m2-6h0m4 4h0m55 3h0m1-9h0m40 7h0m20-7h0m4-1h0m3-1h0m0 10h0m1-6h0m2 1h0m19-6h0m11 4h0m2-1h0m58 1h0m12-3h0m2 2h0m8 6h0m7-2h0m1-1h0m4 1h0m37-4h0m9-2h0m24 7h0m20 0h0m21-5h0m2 8h0m34-5h0m4 6h0m1-3h0m35-9h0m32 6h0m3 2h0m4-2h0m2-1h0m27-3h0m12-2h0m1 11h0m1-12h0m1 12h0m2-4h0m5-6h0m6 6h0m10 2h0m3 0h0m2-4h0m13 4h0m15-2h0m18 5h0m34-10h0m3 1h0m14 2h0m44 3h0m10-6h0m2 10h0m12 0h0m15-10h0m5 2h0m31 0h0m5 0h0m4-3h0m26-1h0m18 3h0m9 9h0m33-8h0m8 4h0m5 3h0m0-1h0m2-7h0m12 0h0m22-1h0m38 8h0m49 2h0m5-8h0m5 2h0m34-5h0m174-2h0m7 13h0m54-6h0"/><path stroke="#7474b3" stroke-width="4.4" d="m279 972h0m14 6h0m3 1h0m14 4h0m50-11h0m25 6h0m4 5h0m90-3h0m98 2h0m41 0h0m51 2h0m30-3h0m24-3h0m81 2h0m25-8h0m3 13h0m122-12h0m20 10h0m18-8h0m36 4h0m5 6h0m5-12h0m0 6h0m10 2h0m4 3h0m3-2h0m8 2h0m56-8h0m0 3h0m50-4h0m74 8h0m100-6h0m1-5h0m48 1h0m58 1h0m23 4h0m50-5h0m55 9h0m43-5h0m4 2h0m144 1h0m2 1h0m59 3h0m64-12h0m1 2h0m38 7h0m2-5h0m66-1h0m9 7h0m6 1h0m2-2h0m19-1h0m31 1h0m56-3h0m33 7h0m1-9h0m7 5h0m26-8h0m18 2h0m2 2h0m0 0h0m2 6h0m25-7h0m48-3h0m5 7h0m12-8h0m10 9h0m2-2h0m57-1h0m42 6h0m57-11h0m15-1h0m10 2h0m4 7h0m44-7h0m50 2h0m54 4h0m1-1h0m112 1h0m25 1h0m80 1h0m57 0h0m114 2h0m8 1h0m42-1h0m2-8h0m38 5h0m27-8h0m31 0h0m14 0h0m65 5h0m30 7h0m11-8h0m79 6h0m28-11h0m106 6h0m78 7h0m68-8h0m5-2h0m56 8h0m18-7h0m85 8h0m70-1h0m147-11h0m42 12h0m97 1h0m149-2h0m91-10h0m47 10h0m11-5h0m2-1h0"/><path stroke="#6767ae" stroke-width="4.4" d="m275 953h0m3 2h0m32-2h0m83-6h0m103-2h0m94 7h0m11-3h0m10-2h0m21 7h0m77 3h0m7 0h0m33-9h0m10 8h0m116-3h0m7-6h0m57 1h0m90 5h0m4 1h0m24-5h0m3-2h0m92 0h0m74-2h0m116 2h0m55 1h0m31 4h0m8 4h0m97-9h0m62-2h0m20 3h0m26 9h0m154-12h0m36 12h0m115-5h0m57 2h0m11-7h0m18 3h0m2 1h0m29 3h0m95-3h0m5 3h0m40-8h0m7 6h0m23-7h0m3 9h0m2-8h0m9 2h0m47 5h0m72-4h0m151-5h0m10 6h0m181 5h0m14-5h0m82-2h0m11-3h0m20 12h0m69-5h0m12-4h0m11-2h0m6 10h0m4-2h0m46 2h0m93-7h0m9 6h0m68-7h0m137-2h0m94 12h0m19-6h0m72-6h0m277 8h0m93-8h0m49 6h0m11 4h0m62-5h0m38 5h0m71 0h0m45-7h0m335-2h0m19 4h0m2 0h0m341-1h0"/><path stroke="#b8b8ca" stroke-width="4.4" d="m251 1114h0m4 7h0m3-7h0m0 4h0m1 1h0m0-10h0m1 6h0m2 5h0m4-2h0m7-3h0m2 5h0m3-2h0m1-6h0m7 8h0m1-5h0m10-6h0m4 10h0m4 3h0m4-12h0m1 4h0m1-4h0m0 5h0m2 0h0m0 0h0m0 7h0m1-6h0m1 5h0m0-6h0m1-1h0m0 5h0m2-5h0m2-4h0m1 7h0m3 2h0m1-9h0m4 8h0m5-3h0m29-3h0m14 5h0m6 1h0m0-8h0m7 3h0m0 4h0m1-5h0m2 5h0m2 3h0m1-5h0m8 3h0m0-2h0m7-2h0m3 2h0m7 6h0m45-5h0m9-3h0m1 4h0m0-8h0m4 11h0m12 1h0m0-4h0m5-4h0m0 2h0m2-4h0m9 2h0m2-3h0m1 10h0m6-4h0m2-6h0m1 1h0m14 0h0m2 10h0m4-9h0m11 1h0m16-2h0m12 7h0m0-10h0m1 6h0m8 5h0m0-1h0m2-10h0m0 5h0m3 1h0m3 3h0m0 3h0m2-12h0m3 1h0m7-1h0m2 9h0m1-3h0m9-6h0m1 1h0m11 11h0m10-11h0m3 7h0m23-5h0m7 7h0m1-5h0m0-6h0m5 12h0m4 1h0m3-4h0m15-7h0m5 3h0m7 4h0m18 2h0m1-5h0m9 2h0m17 5h0m19-6h0m2 4h0m8-5h0m8 5h0m12-3h0m4 5h0m3-3h0m7-1h0m5 5h0m2-10h0m16 1h0m1 8h0m24-6h0m4-3h0m0 1h0m4 7h0m3-2h0m2-2h0m8-7h0m4 5h0m1 1h0m0 2h0m17 2h0m1-3h0m19-1h0m3-4h0m1 8h0m1 0h0m9-9h0m6-1h0m8 11h0m6-6h0m1 1h0m4 4h0m0 0h0m1-5h0m1 3h0m5 4h0m3-4h0m1 3h0m0 2h0m8-2h0m11 1h0m12-9h0m6 5h0m1-2h0m1 2h0m3-5h0m0 1h0m2-4h0m0 2h0m2-2h0m1 12h0m1-6h0m2-3h0m1 3h0m2-1h0m14 3h0m1 0h0m4 5h0m1-9h0m2 4h0m0-2h0m4 2h0m1 2h0m11-2h0m2-8h0m3 2h0m1 9h0m16-10h0m6 8h0m0-1h0m1 4h0m0 1h0m3-4h0m3 0h0m5 2h0m5-11h0m4 5h0m5-3h0m1-1h0m0 4h0m1 3h0m16-1h0m8 4h0m2-8h0m0 6h0m9-1h0m1-7h0m1 12h0m1-8h0m1 5h0m1-5h0m1 6h0m3 1h0m5-5h0m3-1h0m3 5h0m3-6h0m0 4h0m6-2h0m1 0h0m1-7h0m1 10h0m1 1h0m5-11h0m13 5h0m3 5h0m5-6h0m1 7h0m14-1h0m6-7h0m0-1h0m2 5h0m3 5h0m22-11h0m11 10h0m3 0h0m1-6h0m3-3h0m6 10h0m2-5h0m14 6h0m1-5h0m0-7h0m9 6h0m3-5h0m8 7h0m7 1h0m1-5h0m13 4h0m4 0h0m30-2h0m3 0h0m3 0h0m2-4h0m4-1h0m28-2h0m0 0h0m2 11h0m0 0h0m6-6h0m10-4h0m1 9h0m4 2h0m1-10h0m2 4h0m5-3h0m13-3h0m6 3h0m0-1h0m1 1h0m2 5h0m0-5h0m1-1h0m2 0h0m1-2h0m9 10h0m2-2h0m8 1h0m1-8h0m0 12h0m8-13h0m4 4h0m7 4h0m1 0h0m0-6h0m4 8h0m9-1h0m27-5h0m1-4h0m4 1h0m3 3h0m1 3h0m9 4h0m3 2h0m1-5h0m1-1h0m26 5h0m9-4h0m1-2h0m8-6h0m10 5h0m0 4h0m1-2h0m12 1h0m19-3h0m1 0h0m7 3h0m14-8h0m16 9h0m0-6h0m0 4h0m0 5h0m6-12h0m12 10h0m0-1h0m3-9h0m1 10h0m22-3h0m12 1h0m1 3h0m3-11h0m8 8h0m1 2h0m2-1h0m11 4h0m6-7h0m2 1h0m4-4h0m5-1h0m2 1h0m1 4h0m0 2h0m19 1h0m10-9h0m1 10h0m6-3h0m1-2h0m2 4h0m6-8h0m0 7h0m1 0h0m19-6h0m2-2h0m2 12h0m4-3h0m1-10h0m1 5h0m3 1h0m6 2h0m4 5h0m2-7h0m0-5h0m10 12h0m2-12h0m0 12h0m5-5h0m3-8h0m0 0h0m8 6h0m3-2h0m1 3h0m1-4h0m10 1h0m35 5h0m6-1h0m3-8h0m2 4h0m0-2h0m2 8h0m1 3h0m3-2h0m1-10h0m1-1h0m2 12h0m2-5h0m0 5h0m3-10h0m1 8h0m2-4h0m5-1h0m0 5h0m3-3h0m3 3h0m1-10h0m2 8h0m1-7h0m2 11h0m1 1h0m1-5h0m1-8h0m7 11h0m2-9h0m21 3h0m0-3h0m0 7h0m3-3h0m3 5h0m0-5h0m0 1h0m8-6h0m4 11h0m0-7h0m1-1h0m4-1h0m5 1h0m2 6h0m9-5h0m9 4h0m4-9h0m1 0h0m5 3h0m0 0h0m1 9h0m0 0h0m1-3h0m17-7h0m19 3h0m1-5h0m1 6h0m3-2h0m0 4h0m23-6h0m1 8h0m1 2h0m1-5h0m8-4h0m2 8h0m6-4h0m1-1h0m1-6h0m2 11h0m2-7h0m1-4h0m0 13h0m0-5h0m1-4h0m1 9h0m16-11h0m2 8h0m1-3h0m5 3h0m0 2h0m0-9h0m6 3h0m4 7h0m1-2h0m1 0h0m17-11h0m3 11h0m1-1h0m3-6h0m2-3h0m5 5h0m5-2h0m3 1h0m1-4h0m1 5h0m2 4h0m3-2h0m2-1h0m7-7h0m0 7h0m3-2h0m1 3h0m1 5h0m1-13h0m16 1h0m3 2h0m5 8h0m1-7h0m11 7h0m1-11h0m7 10h0m2-6h0m2 4h0m2 5h0m3-2h0m16-11h0m0 6h0m0 4h0m1-6h0m1 4h0m3 3h0m0-8h0m0 3h0m2-1h0m3 6h0m1-2h0m9-9h0m24 8h0m25-1h0m3-7h0m2 12h0m1-1h0m4-3h0m0-5h0m2-2h0m0 3h0m3 9h0m9-3h0m1-4h0m3 5h0m1-1h0m2-8h0m0 4h0m1 0h0m4-4h0m4 7h0m6 0h0m0 1h0m5-10h0m0 2h0m1 3h0m3 2h0m9-1h0m6 4h0m3-5h0m1 4h0m2-8h0m0 1h0m8 11h0m1-6h0m1-1h0m3-2h0m2-2h0m1 6h0m3 3h0m13-10h0m13 10h0m2-4h0m11 0h0m4 1h0m8-8h0m0 1h0m0 4h0m1 1h0m9 5h0m7-3h0m16-1h0m13 2h0m7-3h0m2 2h0m47 3h0m4-8h0m2 8h0m1-3h0m1 2h0m2-11h0m13 2h0m6 5h0m1-6h0m0 12h0m2-8h0m39 3h0m10 1h0m1-6h0m2 9h0m5-8h0m6 4h0m0 0h0m4-2h0m2 7h0m1-12h0m1 12h0m6-2h0m0-1h0m9-4h0m0 7h0m3-11h0m1-1h0m8 6h0m7-1h0m5-3h0m1 11h0m2-12h0m7 11h0m7-8h0m0 1h0m4 5h0m3 2h0m3-1h0m36-5h0m6 4h0m11-7h0m1 10h0m3-8h0m2 2h0m2-5h0m0 4h0m1 3h0m3 0h0m1-8h0m0 12h0m1-4h0m0-1h0m1-4h0m0-2h0m3 6h0m1-1h0m0-1h0m4 3h0m2-5h0m1 4h0m1 2h0m21-3h0m1-7h0m4 8h0m8-5h0m23 6h0m4-5h0m17 3h0m8-1h0m2-3h0m1 7h0m6-4h0m0 3h0m0-3h0m7 0h0m1 0h0m1-6h0m1 11h0m1-1h0m0-9h0m0 7h0m2 1h0m9-2h0m8-1h0m3 4h0m1-7h0m1 6h0m1 0h0m3-9h0m7 2h0m2 4h0m4-3h0m26 1h0m6-3h0m5 11h0m2-11h0m1 0h0m6 7h0m1 4h0m2-12h0m2 11h0m6-3h0m5 3h0m4 1h0m7 0h0m3-5h0m3 5h0m0-6h0m3 0h0m3 3h0m4-1h0m2-6h0m0-1h0m4 3h0m6 2h0m2-4h0m2-1h0m4 5h0m22-1h0m13 7h0m5-8h0m3 0h0m0-1h0m1 4h0m6 4h0m11-5h0m36 2h0m2 1h0m0-9h0m9 8h0m3 2h0m8-4h0m6-5h0m0 9h0m16-4h0m8 6h0m1 1h0m1-13h0m2 6h0m9 1h0m5 6h0m14-10h0m8 3h0m2-6h0m4 9h0m9-2h0m1-6h0m1 5h0m2 2h0m1-8h0m1 10h0m0-3h0m4 1h0m5-2h0m42 0h0m1 1h0m1 0h0m1 5h0m9-7h0m5-4h0m14 11h0m1-1h0m0-1h0m1 3h0m4-11h0m1 6h0m9 0h0m3-5h0m6 3h0m11-4h0m4 2h0m21 8h0m0-9h0m4 4h0m4-1h0m10-6h0m10 8h0m6 3h0m0-7h0m12 3h0m4 5h0m34 0h0m2-8h0m1-2h0m0 1h0m3 9h0m0-1h0m1 1h0m3 1h0m0-3h0m6-5h0m22-4h0m11 11h0m10-12h0m14 13h0m4-1h0m13 0h0m6-9h0m14 4h0m0-3h0m2-1h0m1 0h0m5 5h0m3 4h0m1-6h0m2 7h0m50-2h0m0-7h0m1 8h0m5-5h0m1 4h0m2-2h0m3 4h0m15-13h0m3 4h0m0 1h0m1 1h0m3 6h0m0-6h0m0 2h0m0 1h0m1-6h0m1-3h0m0 8h0m1 3h0m0-2h0m0-4h0m1-4h0m1 8h0m1 0h0m0-9h0m1 12h0m1-10h0m13 7h0m8 3h0m3-6h0m3 0h0m8 2h0m6 0h0m2-4h0m1 2h0m1 1h0m4-2h0m2 5h0m0 1h0m19-4h0m22 4h0m1-7h0m4-1h0m6 6h0m2-8h0m2-1h0m0 9h0m3 0h0m0 1h0m2 2h0m6-10h0m2 0h0m5-1h0m1-1h0m19 6h0m3 2h0m2-8h0m0 4h0m0 1h0m6 5h0m1-7h0m2-1h0m5 11h0m2-13h0m2 10h0m1-1h0m17 4h0m16-10h0m12 9h0m10-7h0m1 2h0m8-6h0m3-1h0m24 8h0m1 3h0m4-3h0m8 3h0m1-2h0m2-1h0m9-7h0m1-1h0m5 5h0m2 5h0m3-3h0m2 1h0m10-4h0m8 9h0m3-9h0m4 1h0m8 4h0m0 2h0m1-8h0m12-1h0m22 7h0m1-1h0m2-7h0m4 2h0m0 5h0m4 3h0m2-8h0m7-1h0m2 9h0m0-1h0m19-9h0m6 11h0m0-5h0m0 3h0m4-4h0m7 6h0m8-1h0m5 0h0m11-4h0m2 6h0m1-10h0m1 1h0m6 6h0m20 0h0m29-4h0m7-5h0m6 8h0m0 1h0m0-10h0m1 9h0m1-1h0m3-1h0m1-1h0m15 5h0m8-4h0m8-2h0m4 7h0m2-6h0m6 7h0m0-11h0m1 3h0m1 0h0m23 1h0m2-5h0m1 4h0m14 2h0m4-5h0m0 1h0m2-3h0m3 3h0m1 0h0m0 8h0m1-6h0m0-1h0m3 2h0m2 0h0m3 3h0m32-3h0m6 1h0m4 5h0m1-7h0m12-1h0m5 6h0m7-5h0m5-1h0m1-3h0m6-1h0m31 2h0m33-1h0m16 6h0m17 4h0m5-1h0m4 3h0m9-5h0m33-7h0m2 6h0m5-3h0m1 5h0m0-7h0m5 10h0m1-4h0m32-8h0m14 11h0m19 0h0m19-2h0m7-3h0m23-1h0"/><path stroke="#ccbfbf" stroke-width="4.4" d="m249 1211h0m4-3h0m3-3h0m4 11h0m7-5h0m1-5h0m0-1h0m0 9h0m0-3h0m0-6h0m5 11h0m0-11h0m1 9h0m1-9h0m2 2h0m1 8h0m1 2h0m1-5h0m0-3h0m3 2h0m0-4h0m1 1h0m5 9h0m0-7h0m11-2h0m5 3h0m0 0h0m3-3h0m1 5h0m1 4h0m1-7h0m1 1h0m1 7h0m1-4h0m0-9h0m1 10h0m0-3h0m2 3h0m3-2h0m2-4h0m1 6h0m3-10h0m0 10h0m2 0h0m8-6h0m20 5h0m5 2h0m0-3h0m2 4h0m4-8h0m5 4h0m11-8h0m0 13h0m3-13h0m5 1h0m6 7h0m2 3h0m7-8h0m7 5h0m1-1h0m4-4h0m3 5h0m56 1h0m9 0h0m27-2h0m2-5h0m0 11h0m14-2h0m5-9h0m28 0h0m4 2h0m4 5h0m3-6h0m3 5h0m0 2h0m4-7h0m1 9h0m2-6h0m6-2h0m1-5h0m2 3h0m2 8h0m1-9h0m3 1h0m1 3h0m0 0h0m0 6h0m2 0h0m4-1h0m0-9h0m8 1h0m6 4h0m2 4h0m1-1h0m18 1h0m0-1h0m3 1h0m0-11h0m29 7h0m1-3h0m2 8h0m1-10h0m3 5h0m0-3h0m1 0h0m2-3h0m0 6h0m0-5h0m0 3h0m1 9h0m5-9h0m11 2h0m0 2h0m0 0h0m2 3h0m24-11h0m10 0h0m1 4h0m4 7h0m0-2h0m2-6h0m1 10h0m2-6h0m0 0h0m1 4h0m2-3h0m1 2h0m4-1h0m2 2h0m3-4h0m4-4h0m18 1h0m1 9h0m3-9h0m1 3h0m14-6h0m13 3h0m14-3h0m2 0h0m5 7h0m9 3h0m31-5h0m3 0h0m2-1h0m1-5h0m2 9h0m1-5h0m3-2h0m2-1h0m2-1h0m4 0h0m0 8h0m3 0h0m14 0h0m2-3h0m4 5h0m0-7h0m13 1h0m5 0h0m0 2h0m4 5h0m12-7h0m4 4h0m1 2h0m6-8h0m21 4h0m0 1h0m3-4h0m2 1h0m0 9h0m7-9h0m14-3h0m16 0h0m3 1h0m0-2h0m3 5h0m2-4h0m3-1h0m9 7h0m4 2h0m1-9h0m0 9h0m2-7h0m0 10h0m1-7h0m0-1h0m0 5h0m0-7h0m2 6h0m3-2h0m5-7h0m1 14h0m3-13h0m1 2h0m1-1h0m6 10h0m20-5h0m0 3h0m0-4h0m11 0h0m6 4h0m3-5h0m0 7h0m11-5h0m0 4h0m5-5h0m0-4h0m17 5h0m2-5h0m5 10h0m9-11h0m4 3h0m1 6h0m0 3h0m0-6h0m4 5h0m0-9h0m2-2h0m3 5h0m1 6h0m1-11h0m6 7h0m1 3h0m2-8h0m0 1h0m7 6h0m0-3h0m2-4h0m1 9h0m6 1h0m4-10h0m10 0h0m15 6h0m3-6h0m2 11h0m3-10h0m2 8h0m1-2h0m2-9h0m4 5h0m8 2h0m13 0h0m10-3h0m2-3h0m4 9h0m2-2h0m8 2h0m9-8h0m1 6h0m13 5h0m0-13h0m2 4h0m4 0h0m0 7h0m2-11h0m4 5h0m2 4h0m9-1h0m11-2h0m5-4h0m12 3h0m20-3h0m1 5h0m1-5h0m14 2h0m9 3h0m1-7h0m0 2h0m6-1h0m9 1h0m0 3h0m5 3h0m14 2h0m21-9h0m2 4h0m1 7h0m5-9h0m3 1h0m0 2h0m0 0h0m1 3h0m11-10h0m3 3h0m2 4h0m1 0h0m2-2h0m10 6h0m17-2h0m1-5h0m1 6h0m14 0h0m4-2h0m13 5h0m0-8h0m2 2h0m6 0h0m14 4h0m2 1h0m0-8h0m0 0h0m1 0h0m2 5h0m5-9h0m6 12h0m7 0h0m17-6h0m1-5h0m11 9h0m2-3h0m7 4h0m6-7h0m6-3h0m24 10h0m8-7h0m4 3h0m19 4h0m5-4h0m4-6h0m10 0h0m22 11h0m3-9h0m1 0h0m1-2h0m3 9h0m1-4h0m0 4h0m1 0h0m10 2h0m5-6h0m3-5h0m0 1h0m1 1h0m7-3h0m4 7h0m10-3h0m3 1h0m1 4h0m0 0h0m23-4h0m3 0h0m8 2h0m10-4h0m3 0h0m2 5h0m4 1h0m1-8h0m1 12h0m1-11h0m15 6h0m3 3h0m1 2h0m1-1h0m14-8h0m3 0h0m1 9h0m11-2h0m2-10h0m5 3h0m1 0h0m4 7h0m1-8h0m1-1h0m0 10h0m2-7h0m5-4h0m4 0h0m14 9h0m38 0h0m3 3h0m1-9h0m2 9h0m0-9h0m3 7h0m4-1h0m1-8h0m1 0h0m0-1h0m1 0h0m7 2h0m8 6h0m3-7h0m9 2h0m3 8h0m9-3h0m12 0h0m3-1h0m2-3h0m1 5h0m3-4h0m1-1h0m11 4h0m32 0h0m14-9h0m12 4h0m2 4h0m14-3h0m30 3h0m4 2h0m2-9h0m8 5h0m6 6h0m5-5h0m5-2h0m1 2h0m0-2h0m24-2h0m0 7h0m5-4h0m1-2h0m0 0h0m5-1h0m0 8h0m5-10h0m2 5h0m7-4h0m12 9h0m11-2h0m0-5h0m3 5h0m6-3h0m43 7h0m3 1h0m13-7h0m1 7h0m2-3h0m16-8h0m4 4h0m1-4h0m1-1h0m2 10h0m2-4h0m2 2h0m3 3h0m1-12h0m0 3h0m13-1h0m11-1h0m14 4h0m35-1h0m5 1h0m1 1h0m3-1h0m2-4h0m6-2h0m0 0h0m1 14h0m1-3h0m0-4h0m1 0h0m3 6h0m7-1h0m4 0h0m3-7h0m1 6h0m19 2h0m5-6h0m0 2h0m6-5h0m1-1h0m6-3h0m9 5h0m13 2h0m2 1h0m1 3h0m4 3h0m3-2h0m14-8h0m6 9h0m4-12h0m13 2h0m4 6h0m4-7h0m1 7h0m3-3h0m2-6h0m2 7h0m2 5h0m4-9h0m14 9h0m3-1h0m0-9h0m1 2h0m5 8h0m2-8h0m4 10h0m45-9h0m2 2h0m0 2h0m1-1h0m0-4h0m3 7h0m0-2h0m1-2h0m0-2h0m5 0h0m4-1h0m3 4h0m4-6h0m1 3h0m1-3h0m0 9h0m4 0h0m4 0h0m26-5h0m4 1h0m6-3h0m0-3h0m8 1h0m1 5h0m4 1h0m4-4h0m1 5h0m7-2h0m2-2h0m1 2h0m0 4h0m1-8h0m0 0h0m1 7h0m0-9h0m1 9h0m0-7h0m1 5h0m1 4h0m0-4h0m2 2h0m1 3h0m5-3h0m5-2h0m1-6h0m1 1h0m7-1h0m2 8h0m5-6h0m21 7h0m2 3h0m0-12h0m2 0h0m3 2h0m1 2h0m32 2h0m8 3h0m6-6h0m2-3h0m14 4h0m2-4h0m2-1h0m0 10h0m2-3h0m1-1h0m0-5h0m2 3h0m0 9h0m1-2h0m4 0h0m4-4h0m1 2h0m3-4h0m2-2h0m1-2h0m2 3h0m5 0h0m1-3h0m3 10h0m9-11h0m1 7h0m4 4h0m3-2h0m2-1h0m2-6h0m6 7h0m8-8h0m0 1h0m11 8h0m2 1h0m0 1h0m21-7h0m2-1h0m2 7h0m0-9h0m2 3h0m1 6h0m3-6h0m1-2h0m2 0h0m0-2h0m2 3h0m3 6h0m1-4h0m0 5h0m3-3h0m0-2h0m1 5h0m7-1h0m0-2h0m0 4h0m1 0h0m11-7h0m6 1h0m0 5h0m1-6h0m1 7h0m0-13h0m1 11h0m1-3h0m1 0h0m6-6h0m1 5h0m27 3h0m1-8h0m3 1h0m3 5h0m1-1h0m1 4h0m1-7h0m4 0h0m1 9h0m1 0h0m0-8h0m1 0h0m0 6h0m1 0h0m8-2h0m9-5h0m3-1h0m2 3h0m0-5h0m2-1h0m1 1h0m2 8h0m2-3h0m2 7h0m3-12h0m5 0h0m1 0h0m0 4h0m2-2h0m1 6h0m4-2h0m2-1h0m4-2h0m9 4h0m1-3h0m2-1h0m2 7h0m18 1h0m3-7h0m12 5h0m1 2h0m4 0h0m4-3h0m0-4h0m2 2h0m3 7h0m8-2h0m8 0h0m4 1h0m1-4h0m0-7h0m3 8h0m0 1h0m1 2h0m24-6h0m5 6h0m7-9h0m9 0h0m3 2h0m1 0h0m7 5h0m1-3h0m5 6h0m0-10h0m23 2h0m4-4h0m0 1h0m0 3h0m2-2h0m3 0h0m11 7h0m14-7h0m1 3h0m0-6h0m7 1h0m1 8h0m2-7h0m8-1h0m1-1h0m1 0h0m1 11h0m5-4h0m2-1h0m0-1h0m3-5h0m4 5h0m53-3h0m23 1h0m11 9h0m2-12h0m8 6h0m18-1h0m1-4h0m1 3h0m1-3h0m15 11h0m15 0h0m3-1h0m0 0h0m2 0h0m6-6h0m11 4h0m1-1h0m3-2h0m1-6h0m37 4h0m0 0h0m1 8h0m7-2h0m2-8h0m1 8h0m3 2h0m3-3h0m3 0h0m5-1h0m7-8h0m5 8h0m2-1h0m4 4h0m1-2h0m13 1h0m1 2h0m27-5h0m4 0h0m0-6h0m1 5h0m1 6h0m2-6h0m0 6h0m2-1h0m5 1h0m2-9h0m1 7h0m1-10h0m1 11h0m2-3h0m1-4h0m0-3h0m1 8h0m1-6h0m4 6h0m12-4h0m46 1h0m2-4h0m1 5h0m2 0h0m0-3h0m14-2h0m0 1h0m6-1h0m2-1h0m4 3h0m2 3h0m1 3h0m0-8h0m1-3h0m2 2h0m0-1h0m0 3h0m1 2h0m0 2h0m3-1h0m0-7h0m0 13h0m3 0h0m5-4h0m16-3h0m6-5h0m12 5h0m2 3h0m2 2h0m0 0h0m1 1h0m0-10h0m3 10h0m2-3h0m1 1h0m3-9h0m1 12h0m29-11h0m1-2h0m1 7h0m6-5h0m1 10h0m0-1h0m6-6h0m1-4h0m3 6h0m1-4h0m8 7h0m2 3h0m3-9h0m7 2h0m2 0h0m18-3h0m1 5h0m1 1h0m2 5h0m3-9h0m1 4h0m4-1h0m5 2h0m1-3h0m1-3h0m2-2h0m1 10h0m2-9h0m3 2h0m0 5h0m10-5h0m2 0h0m2 7h0m2-2h0m1-1h0m1 1h0m0-4h0m4 5h0m8 2h0m20-4h0m4 2h0m1-8h0m1 8h0m8-2h0m0 2h0m20-6h0m9-2h0m0 9h0m3-6h0m0 4h0m0 1h0m1-10h0m0 6h0m2-3h0m1 6h0m1 1h0m1 1h0m1-9h0m0 10h0m2-4h0m2-2h0m12-2h0m1-4h0m0 8h0m1-3h0m0-1h0m1 6h0m2-9h0m4 4h0m0 7h0m5-7h0m6-1h0m3 3h0m1-1h0m5 4h0m3-1h0m1 3h0m4-8h0m1 7h0m10 1h0m5-3h0m6-10h0m1 13h0m0-8h0m20 6h0m9-10h0m2 9h0m1 1h0m1-8h0m0 5h0m0-4h0m3-2h0m23 2h0m17 8h0m7-7h0m8 7h0m10-5h0m1 1h0m4-1h0m1-2h0m15 4h0m0 0h0m1 0h0m0 2h0m1 3h0m0-1h0m2-9h0m3 6h0m1-6h0m6 4h0m23-6h0m3 7h0m1-3h0m3 7h0m1-12h0m1 11h0m0-4h0m3-3h0m0 9h0m1-1h0m2-3h0m2-8h0m0 2h0m2-3h0m0 11h0m1-2h0m6-7h0m0 10h0m4-12h0m1 5h0m1-4h0m6 7h0m7-1h0m3-8h0m4 5h0m9 6h0m0-3h0m4-6h0m22 9h0m14-10h0m1 2h0m8-1h0m1 8h0m0-3h0m1 5h0m37-5h0m7-5h0m6 5h0m4 4h0m12-7h0m2 2h0m0-3h0m0 10h0m2-1h0m2-2h0m0-7h0m7 6h0m0-3h0m2 8h0m1-10h0m0 2h0m36-3h0m4 4h0m2-1h0m6 1h0m0 2h0m0 1h0m1 1h0m0 3h0m1-6h0m0-5h0m0 9h0m2 0h0m2-8h0m2 2h0m7 3h0m1-3h0m1 0h0m5-2h0m15 7h0m1 1h0m8-4h0m2 6h0m8-4h0m4-2h0m4-3h0m3 1h0m28-5h0m7 10h0m5 1h0m2-10h0m1 9h0m1 2h0m2-11h0m2 1h0m14-2h0m2 8h0m7 0h0m38 1h0m23 2h0m3-6h0m3-3h0m1 2h0m2-1h0m7-3h0m0 3h0m24 7h0m2-1h0m1-6h0m3-2h0m18 5h0"/><path stroke="#5959aa" stroke-width="4.4" d="m254 930h0m62-10h0m9 4h0m19 0h0m163 1h0m58-1h0m55 2h0m5 3h0m21-5h0m70-4h0m27 3h0m7-5h0m11 11h0m48-9h0m130 9h0m78-3h0m189 4h0m312-5h0m598-4h0m43 0h0m71 7h0m10-8h0m16 9h0m3-2h0m5-3h0m50-5h0m56 3h0m113-2h0m110 4h0m207 5h0m328-2h0m203-4h0m56 0h0m7 2h0m150-3h0m215 2h0m1 4h0m82-1h0m99-2h0m21 1h0m78-5h0m44 6h0m201 3h0m18-3h0m112-10h0m50 1h0m8 9h0m1 2h0m66-2h0m205-4h0"/><path stroke="#ccccd1" stroke-width="4.4" d="m251 1158h0m2-4h0m2 6h0m0-8h0m0 7h0m2-1h0m2-3h0m0-2h0m0 8h0m2-6h0m1 0h0m1 7h0m2 0h0m1-11h0m0 9h0m3-6h0m0 6h0m1-3h0m1 4h0m0-10h0m3 12h0m0-13h0m1 0h0m2 11h0m2-3h0m1 1h0m0-1h0m2-8h0m1 1h0m0 9h0m1-3h0m0-7h0m1 9h0m2-1h0m3-4h0m4 0h0m1 5h0m4-2h0m9-8h0m1 8h0m2 0h0m0 0h0m0 1h0m1-3h0m0-2h0m1 4h0m0-1h0m3-1h0m0-2h0m1 5h0m1 1h0m0 0h0m0-7h0m1 6h0m0 3h0m1-9h0m0 11h0m1-6h0m4-6h0m0 9h0m4-8h0m7 3h0m12-4h0m6 0h0m4 3h0m6-2h0m6 5h0m2-6h0m6 7h0m1 1h0m6-1h0m1-7h0m0 0h0m8 3h0m14 7h0m58 0h0m5-7h0m7 3h0m2-4h0m8 3h0m0-4h0m4 8h0m8-4h0m10 2h0m0 1h0m1-4h0m2 7h0m12-12h0m11 12h0m6-12h0m7 8h0m9 2h0m9-3h0m0-2h0m6 7h0m4-4h0m3 4h0m0-1h0m4 1h0m0-7h0m3 1h0m4 5h0m0 2h0m4-8h0m2 5h0m1 2h0m1-12h0m0 8h0m1 3h0m2 1h0m1-12h0m1 2h0m0 2h0m4 8h0m15-5h0m16 1h0m0-4h0m2 3h0m20 4h0m1-10h0m4 4h0m2 0h0m3-2h0m2-1h0m0 4h0m3 4h0m0-2h0m5 4h0m0-11h0m1 2h0m1 6h0m1-2h0m12-1h0m2-2h0m0 5h0m1-3h0m2 3h0m0-5h0m14-5h0m1 2h0m7 0h0m3 3h0m1-3h0m0-1h0m2 8h0m2 0h0m1 3h0m2-5h0m3 3h0m4-4h0m4 6h0m2-2h0m0 1h0m9-8h0m2 1h0m0 9h0m1-7h0m0 0h0m2-3h0m16 2h0m1 0h0m2 0h0m1 8h0m4-11h0m16 2h0m2 0h0m9 1h0m0 4h0m3-7h0m4 11h0m4-2h0m11-7h0m0 1h0m0 0h0m15 8h0m2-2h0m5-6h0m8 7h0m10-4h0m2 3h0m1 3h0m2 0h0m1-1h0m3-4h0m0 0h0m1-3h0m8 1h0m15 0h0m0-1h0m0 8h0m3-13h0m0 1h0m2 2h0m3-1h0m0 6h0m3-3h0m3 0h0m7-2h0m6 1h0m4 8h0m12 0h0m2-7h0m0-2h0m2 1h0m3 0h0m0 7h0m5-8h0m1 3h0m2 0h0m7-2h0m1 0h0m0 9h0m1-12h0m1 11h0m1-2h0m3-1h0m0-3h0m4-2h0m2-3h0m2 5h0m4 2h0m2-5h0m4 6h0m2 3h0m8-2h0m2-7h0m3-3h0m5 11h0m7-1h0m0-10h0m1 8h0m0-2h0m1-5h0m0 5h0m2 2h0m2-2h0m5 5h0m10-1h0m1 3h0m4-3h0m4-7h0m0 1h0m0 4h0m1-2h0m2 6h0m1-7h0m0-2h0m0 2h0m9-2h0m1-3h0m4 2h0m7 10h0m6-3h0m2 3h0m3-7h0m3 2h0m3-4h0m2 3h0m0-1h0m10 0h0m4 7h0m3-5h0m4 0h0m6 5h0m7-4h0m25-6h0m2 3h0m3 7h0m3-12h0m2 0h0m1 12h0m0-8h0m1 8h0m3-2h0m0-9h0m2 11h0m2-7h0m1-4h0m8 2h0m2-2h0m4 5h0m0 2h0m3 0h0m0 2h0m2-5h0m2-1h0m1-2h0m5 1h0m1 0h0m0 6h0m5-8h0m25 6h0m1-4h0m1-2h0m11 2h0m20 2h0m5-3h0m23 11h0m10-13h0m1 12h0m1 0h0m2-11h0m1 4h0m4 1h0m3 6h0m2-8h0m1-2h0m0 5h0m0 4h0m4 2h0m0-4h0m1 3h0m0-6h0m2-3h0m0-4h0m1 3h0m2 2h0m0-4h0m14 10h0m7-3h0m9 3h0m1 3h0m0-13h0m2 13h0m23-11h0m3 10h0m13-10h0m3 6h0m3-5h0m2 7h0m4-7h0m14 3h0m16-4h0m8 3h0m0 2h0m1 4h0m1 1h0m2-5h0m0 1h0m1 3h0m18-6h0m4-3h0m2 5h0m1-5h0m2 11h0m0-8h0m7 4h0m5 2h0m2-5h0m3 3h0m3 0h0m1-4h0m7-4h0m10 0h0m3 1h0m7 8h0m5 0h0m1-10h0m5 2h0m1 8h0m0-10h0m1 10h0m18-9h0m3 8h0m11-9h0m1 5h0m1 0h0m3 5h0m1 0h0m0-9h0m6 10h0m7-8h0m3 7h0m8-10h0m1 0h0m12 2h0m2 11h0m0-9h0m1 0h0m13 3h0m3-1h0m0-4h0m1-2h0m2 12h0m0-5h0m3 0h0m0 1h0m2 3h0m1 1h0m2-9h0m4 2h0m19-3h0m2 2h0m3 8h0m5-11h0m11-1h0m4 4h0m0 8h0m3 0h0m3-6h0m10-3h0m2 6h0m2-2h0m3-1h0m12 1h0m18-6h0m2 5h0m1-2h0m1-4h0m2 3h0m2 3h0m3 0h0m2 3h0m0 3h0m2 0h0m2-11h0m2 4h0m3-4h0m2 3h0m3 6h0m4 0h0m0 0h0m2-8h0m9 1h0m3 1h0m2-3h0m2 0h0m0 3h0m1-3h0m5 8h0m1-6h0m11 3h0m4-3h0m2 1h0m0 1h0m6-5h0m6 11h0m10-10h0m1 9h0m2-6h0m1-3h0m2 11h0m3-9h0m3 0h0m6 0h0m12 4h0m7 3h0m1-3h0m6 4h0m3-4h0m3 4h0m0-4h0m1 0h0m1 4h0m1 0h0m2 0h0m1-5h0m2 3h0m7-7h0m3 10h0m5-2h0m3 2h0m2-1h0m6-11h0m4 3h0m1-2h0m7 8h0m5-1h0m0 0h0m0 5h0m24-4h0m3-5h0m9-3h0m9 8h0m1 0h0m6 1h0m2 2h0m3-4h0m2-3h0m0 6h0m0-9h0m2 5h0m1 2h0m9-4h0m0-4h0m4 8h0m10 2h0m1-1h0m9 2h0m1-9h0m16 7h0m1-6h0m2 6h0m0-6h0m4-4h0m1 11h0m0 2h0m2-11h0m3 2h0m4-4h0m0-1h0m3 12h0m0-11h0m6 11h0m2-7h0m1 6h0m1-5h0m11 6h0m1-7h0m3 0h0m6 1h0m14-5h0m0 12h0m1-12h0m9 4h0m2 9h0m1-3h0m0-4h0m1 4h0m4-8h0m7 6h0m0 4h0m3-5h0m10 2h0m1-2h0m13-7h0m8 8h0m20-3h0m7-2h0m0 8h0m0 0h0m0-10h0m1-1h0m24 7h0m1 0h0m1-5h0m1 9h0m2-3h0m0-3h0m5-3h0m1-2h0m0 5h0m11 3h0m9-3h0m6 0h0m10 0h0m2-1h0m5 7h0m0-2h0m3 2h0m2-2h0m9-8h0m5 3h0m5 2h0m5 4h0m9-9h0m2-1h0m3 10h0m18 1h0m0-2h0m2-8h0m3 5h0m4-4h0m14 9h0m2-1h0m2 0h0m1 2h0m2-9h0m0 6h0m4 2h0m3-1h0m0-3h0m1 5h0m0-6h0m0 1h0m1-2h0m25-5h0m37 10h0m3-6h0m3 1h0m1 5h0m1-3h0m2-5h0m7 6h0m0-1h0m2 5h0m2-11h0m1 7h0m4-7h0m2-1h0m0 10h0m2-5h0m15 3h0m1 2h0m1 0h0m7-3h0m4-4h0m1 2h0m9-1h0m5 2h0m1-5h0m1 8h0m0-4h0m1-3h0m1 2h0m0 6h0m1-5h0m3-4h0m0 1h0m6 8h0m0-6h0m0 8h0m2-6h0m0 5h0m4-7h0m6 0h0m1-4h0m15 4h0m16-1h0m4 7h0m5-1h0m3 4h0m0-5h0m6 0h0m3-1h0m5 6h0m0-13h0m3 7h0m1-4h0m0-3h0m9 10h0m2-2h0m16-3h0m8 7h0m52 1h0m2-9h0m2 9h0m0-8h0m2 6h0m3-8h0m8 1h0m4 2h0m4 1h0m1 2h0m0 2h0m0 0h0m35-2h0m11 2h0m1 2h0m4-11h0m1 11h0m3-9h0m11 5h0m0 4h0m2-2h0m1-4h0m1 6h0m0-5h0m1-3h0m0 0h0m1 1h0m4 1h0m0-7h0m0 10h0m0-7h0m2 7h0m1-1h0m1-5h0m11 0h0m1 4h0m1-4h0m3 9h0m0-11h0m5-1h0m7 3h0m4 5h0m2 0h0m0 4h0m1 0h0m6-11h0m5 8h0m3 3h0m1-1h0m1-6h0m4-6h0m0 8h0m1 3h0m2-8h0m17-3h0m6 4h0m2 4h0m13 3h0m5-4h0m1-5h0m3-1h0m9 7h0m0-7h0m1 10h0m1-10h0m2 5h0m2-5h0m3 9h0m0-3h0m6 3h0m1 1h0m5-2h0m2 3h0m0-9h0m1 8h0m1-2h0m0 1h0m5-7h0m1 8h0m2-11h0m3 5h0m2 0h0m3 6h0m8-10h0m0 5h0m1 6h0m3-12h0m0 2h0m1 0h0m0 8h0m0 3h0m3-9h0m21 4h0m3 1h0m1-5h0m0 6h0m4-6h0m1 7h0m0-9h0m2-2h0m4 3h0m8-2h0m0 12h0m4-4h0m1-1h0m1 0h0m9-3h0m1 1h0m3-2h0m10 5h0m2-8h0m1 7h0m2 1h0m0 4h0m2-1h0m6-10h0m7 6h0m2-1h0m0-1h0m2 3h0m1-6h0m0 6h0m7-7h0m6 10h0m3-11h0m25-1h0m2 11h0m2-4h0m2-1h0m2-5h0m1 10h0m4 0h0m0-1h0m1 2h0m2-12h0m1 5h0m4 3h0m7 1h0m1-9h0m0 5h0m7 6h0m0-7h0m3 0h0m0 3h0m0 5h0m0-11h0m2-2h0m1 7h0m2-3h0m2-2h0m5 8h0m3-2h0m1-7h0m7 3h0m3 9h0m6 0h0m15-10h0m1 3h0m11-1h0m26 2h0m1 1h0m3-2h0m8 0h0m5-3h0m5 2h0m36 3h0m10 2h0m1 2h0m6-7h0m2 6h0m4-8h0m1 4h0m0-1h0m2 8h0m0-9h0m3 8h0m0-1h0m1-7h0m1 5h0m9-3h0m4 1h0m7 4h0m5-9h0m4 1h0m3 9h0m1-5h0m1-5h0m0 0h0m4 4h0m6-4h0m6 10h0m2 0h0m1-3h0m6 4h0m1-12h0m3 7h0m1 3h0m5-3h0m3-4h0m1-4h0m1 5h0m1 7h0m1-10h0m4 10h0m1-10h0m1 4h0m0-1h0m0-5h0m11 0h0m1 13h0m0-10h0m4 4h0m40 0h0m6-6h0m4 3h0m10-4h0m1 12h0m4-7h0m3 7h0m0-10h0m2-2h0m0 11h0m2-4h0m4 3h0m1 0h0m4-5h0m2 2h0m6-1h0m6 0h0m1 7h0m4-7h0m10 0h0m2-2h0m5 8h0m4-3h0m14-1h0m10-7h0m5 1h0m1 9h0m3-2h0m1 3h0m10-10h0m5-1h0m1 12h0m2-3h0m2-8h0m1 10h0m0-8h0m1-4h0m0 0h0m33 1h0m0 5h0m3-1h0m1 3h0m2-3h0m2-5h0m4 11h0m0 1h0m5-6h0m7-2h0m4 4h0m4-1h0m1 5h0m5-9h0m0 0h0m1 10h0m2-6h0m5-1h0m14 3h0m12-8h0m14 4h0m2-1h0m0 0h0m3 1h0m1-3h0m6 6h0m5 1h0m6-3h0m2 1h0m0-4h0m3-1h0m8 6h0m1-6h0m0 5h0m2 5h0m0-3h0m3-1h0m36 1h0m5-7h0m1 2h0m0 8h0m2-8h0m20 6h0m16-3h0m0-4h0m0-2h0m0 4h0m2 0h0m2-1h0m3 9h0m0-11h0m0-1h0m0 2h0m2 2h0m1-1h0m23 0h0m14 0h0m3-2h0m0 8h0m22-8h0m20-2h0m6 8h0m1 0h0m1 1h0m2-4h0m2-3h0m4 0h0m0 2h0m0-4h0m2 4h0m1 8h0m5-4h0m0-7h0m0 0h0m1 10h0m4-10h0m1 10h0m0-4h0m2 3h0m1-1h0m1 4h0m4-2h0m4-1h0m0-3h0m22 1h0m3 3h0m7-5h0m0-6h0m3 11h0m1-10h0m7 4h0m10-5h0m7 3h0m3 1h0m5 8h0m6-3h0m4-3h0m4 5h0m2-10h0m13 4h0m2 7h0m1 0h0m2-4h0m4-4h0m1 5h0m1-8h0m0 5h0m1 2h0m3-7h0m1 6h0m18-6h0m7 2h0m1-3h0m3 11h0m1-6h0m5-1h0m7 7h0m4 1h0m1-3h0m0-7h0m2 7h0m2 2h0m0-11h0m2 7h0m0-2h0m4-2h0m2 10h0m2-4h0m2 3h0m5-1h0m16-5h0m6-6h0m1 8h0m9 0h0m4-2h0m0-2h0m2 5h0m1-1h0m4-5h0m0 2h0m18 0h0m6 1h0m8 2h0m0 4h0m4-2h0m8-9h0m0 3h0m4-1h0m14 9h0m21-3h0m0-1h0m13-6h0m0 4h0m1-2h0m5 4h0m0-4h0m0 7h0m18 2h0m3-2h0m1-8h0m4 10h0m1-9h0m4 9h0m1-7h0m2 5h0m1-9h0m14-1h0m8 7h0m14-2h0m0 3h0m7-9h0m1 1h0m1 2h0m2 2h0m5-4h0m3 4h0m1 3h0m9-3h0m9-3h0m0 1h0m4 4h0m1 0h0m2 6h0m2-3h0m1 1h0m1-9h0m0 6h0m6-7h0m1 2h0m32-1h0m1 11h0m0-5h0m4 4h0m2-4h0m0-2h0m1 5h0m0 1h0m0-3h0m1 1h0m0 1h0m0 1h0m0 0h0m3-11h0m2 11h0m1 0h0m1-5h0m3 5h0m3-1h0m1-11h0m1 13h0m23-10h0m1 0h0m10-2h0m5 5h0m1 0h0m6 2h0m2-4h0m2 5h0m3 4h0m5-12h0m1-1h0m0 10h0m4 0h0m0-2h0m0-2h0m1-5h0m2 3h0m12 5h0m28-3h0m1 6h0m4-5h0m1 4h0m6-6h0m1 1h0m3-1h0m9-1h0m4 6h0m6-7h0m1 6h0m8 1h0m1-5h0m3 1h0m2-3h0m28-1h0m0-2h0m6 10h0m1-10h0m3 2h0m23 3h0m10 0h0m4 7h0m1-10h0m9 6h0m6 3h0m15-11h0m13 11h0m21-9h0m3-3h0m14 3h0m27 9h0m9-7h0m0 1h0m14-1h0m27 4h0m3 3h0"/><path stroke="#8f8fbc" stroke-width="4.4" d="m250 1028h0m4 10h0m17-7h0m5 3h0m1 2h0m0-1h0m5 1h0m3-8h0m6-1h0m14 10h0m9-6h0m4 4h0m0-8h0m40 8h0m14-4h0m17-2h0m2 0h0m2 2h0m0 4h0m0 1h0m92-9h0m0 11h0m1-2h0m3-10h0m85 3h0m4 9h0m2-2h0m0 4h0m8-11h0m3 5h0m1-5h0m6 5h0m4-5h0m3 6h0m35 4h0m35-1h0m6-2h0m3-2h0m27-1h0m10 3h0m2 1h0m7-4h0m15-6h0m32 1h0m3 4h0m25-3h0m0 6h0m6-8h0m1 13h0m70-9h0m1 8h0m14 0h0m4 1h0m15-4h0m2-5h0m6 5h0m37-7h0m5 1h0m18 1h0m27 5h0m14-3h0m1 6h0m5-1h0m4 0h0m1-10h0m3 10h0m13-11h0m1 5h0m2-4h0m6 10h0m0-6h0m23 2h0m34-6h0m6 10h0m23-7h0m7 7h0m21 1h0m1 0h0m25-8h0m27 8h0m10-8h0m2 7h0m40-1h0m11-6h0m39-3h0m2 10h0m16-9h0m8-2h0m7 9h0m48-4h0m4 2h0m29 5h0m5-5h0m31-4h0m9 1h0m4 1h0m7-3h0m44 7h0m1-8h0m0 10h0m25-11h0m17 8h0m2 4h0m34-5h0m6 5h0m4-6h0m12-4h0m5 2h0m108 8h0m2-3h0m8-3h0m25 6h0m22-10h0m11 2h0m1 4h0m9-6h0m22 9h0m21-3h0m6-1h0m0 3h0m22 1h0m25-1h0m94 0h0m0-7h0m37 3h0m2-6h0m7 13h0m20-5h0m26-7h0m19 3h0m1 9h0m1-13h0m0 4h0m7 8h0m14 1h0m4-13h0m18 10h0m6 0h0m2-5h0m14-4h0m2 10h0m0-11h0m2 5h0m1 7h0m1-1h0m3-11h0m1 5h0m20-1h0m5-2h0m2 1h0m3 9h0m1-12h0m17 3h0m1 0h0m4 1h0m5 4h0m2 2h0m9-1h0m1-2h0m3-4h0m3 4h0m1 4h0m6-1h0m5-4h0m6-5h0m12 3h0m7 4h0m1 3h0m8-11h0m14 0h0m0 8h0m3-3h0m3-4h0m6 4h0m9-2h0m4 3h0m6 2h0m9 0h0m69 3h0m17 1h0m0-9h0m1 0h0m15-2h0m15 5h0m13 1h0m1 4h0m4-8h0m32 3h0m14 2h0m49 0h0m33-7h0m1 3h0m55 4h0m12-5h0m20 0h0m30 3h0m23 4h0m7-2h0m0-4h0m1 0h0m2-3h0m2 12h0m11-1h0m86-3h0m20 2h0m7-5h0m32-3h0m10 0h0m1 2h0m1 1h0m47 1h0m53 5h0m19-10h0m21 8h0m3 2h0m10-10h0m3 11h0m2-3h0m22 1h0m4 1h0m0 1h0m11-8h0m4 6h0m4 2h0m1-12h0m6 11h0m9-13h0m47 11h0m4 0h0m1-1h0m22 3h0m31 1h0m70-9h0m4-2h0m8 6h0m1 1h0m19-3h0m0 6h0m0-10h0m12 11h0m5-4h0m7-7h0m58 1h0m30 2h0m4 4h0m6 3h0m20-10h0m11 7h0m21 2h0m3-9h0m0 3h0m84-3h0m2 5h0m65 0h0m1-4h0m12 6h0m8-2h0m1-4h0m3 8h0m6-9h0m51 6h0m36 5h0m45-2h0m56-10h0m8 3h0m10 2h0m2-5h0m3 11h0m2-1h0m31-1h0m8-3h0m76 1h0m7-1h0m27 1h0m24-2h0m4 1h0m31-7h0m3 8h0m38-8h0m13 7h0m5 1h0m34 2h0m30 2h0m29-3h0m4-3h0m0-3h0m27 7h0m7-5h0m2 6h0m34 2h0m11-1h0m10-4h0m21-5h0m4 4h0m10-1h0m3 0h0m1-2h0m1 4h0m0-8h0m2 0h0m2 6h0m2 1h0m6-2h0m5 5h0m48-7h0m27 5h0m48 3h0m0 1h0m246-9h0m1 8h0m14-3h0"/><path stroke="#c3a4a4" stroke-width="4.4" d="m257 1269h0m2-5h0m14 7h0m0-6h0m1-5h0m0 0h0m1 2h0m7 6h0m0 0h0m5 0h0m0-5h0m2 3h0m14-3h0m1-1h0m1 7h0m1-3h0m2 1h0m5-2h0m0 5h0m3-3h0m0 3h0m0-8h0m0 6h0m2-4h0m6-1h0m8 7h0m29-7h0m24-1h0m3 7h0m2-4h0m1 1h0m1 1h0m6-6h0m4 0h0m6-1h0m6 11h0m15-11h0m41 12h0m2-8h0m1 5h0m11-5h0m3-3h0m23 4h0m4 7h0m2-11h0m19 6h0m1-1h0m9-7h0m19 8h0m8-1h0m2 3h0m1 3h0m2-10h0m6 4h0m2 1h0m2 1h0m5-2h0m1 2h0m5 2h0m1-6h0m1 6h0m0-3h0m14 3h0m33-8h0m24-1h0m3 8h0m3-4h0m3-2h0m7 3h0m1-2h0m36 4h0m8 4h0m12-8h0m9-5h0m6 1h0m3 2h0m15 5h0m1 5h0m0 0h0m28-1h0m1-3h0m3 3h0m0 0h0m13 1h0m3-7h0m29-6h0m21 7h0m6-7h0m19 0h0m14 9h0m0 2h0m11 1h0m1-3h0m10 0h0m16 4h0m20-12h0m0 8h0m0 4h0m8-4h0m1 2h0m6-10h0m14 8h0m21-6h0m1-1h0m8 5h0m1 1h0m5 0h0m15 4h0m0 0h0m2-3h0m2 1h0m2-4h0m14-2h0m1 3h0m8-2h0m30 7h0m14-10h0m5 0h0m35 4h0m4-6h0m2 12h0m18-7h0m4 5h0m9-2h0m2-3h0m22-2h0m3 0h0m36 4h0m1-4h0m3-3h0m16 10h0m3-5h0m17 1h0m11 7h0m10-1h0m12-1h0m28 1h0m26 1h0m15-6h0m0 0h0m21 5h0m5 1h0m4-13h0m19 9h0m15-3h0m4 5h0m3 2h0m6-10h0m3 0h0m7 2h0m3 2h0m2 5h0m15-8h0m7 5h0m2-4h0m26 3h0m24-4h0m6 9h0m3-9h0m0 8h0m1-2h0m1-8h0m1 3h0m0 0h0m1-2h0m3-2h0m11 4h0m5-3h0m15 0h0m5 6h0m18-7h0m2 4h0m51 0h0m58 8h0m3-13h0m9 4h0m21 2h0m25 3h0m12-5h0m19 8h0m4-1h0m3-10h0m4 3h0m7 2h0m1-3h0m3 7h0m14 2h0m8-9h0m12 10h0m23-2h0m11-9h0m3 12h0m34-5h0m6-9h0m28 14h0m5-6h0m11-6h0m4 11h0m10-7h0m4 2h0m2-4h0m27 5h0m21-9h0m0 6h0m2 6h0m33-5h0m0-1h0m3-4h0m1 9h0m18-8h0m2-1h0m31 9h0m12-10h0m119 8h0m16 4h0m12-11h0m32 0h0m6 7h0m15 1h0m2-7h0m20 4h0m0-5h0m13 2h0m0 3h0m2 2h0m21-4h0m1 7h0m0 0h0m4-5h0m3-6h0m14 11h0m49-8h0m3 4h0m18-5h0m4 10h0m22-5h0m10-1h0m30-4h0m7 6h0m2 3h0m5-6h0m2-3h0m14 7h0m4-7h0m1-2h0m3 10h0m53-8h0m7 3h0m3 5h0m8-2h0m5-1h0m4-3h0m2-5h0m5 14h0m1-6h0m30-7h0m2 3h0m14 1h0m0-1h0m3 0h0m6 6h0m3-6h0m8 0h0m0 0h0m2 0h0m0 1h0m2 4h0m2-2h0m0-6h0m1 11h0m2-7h0m11-1h0m1-2h0m19 5h0m2 2h0m13 3h0m1-11h0m2 7h0m0-1h0m1-5h0m50 8h0m7-9h0m10 4h0m1 7h0m0 0h0m7-5h0m2-4h0m0 9h0m3-6h0m18 5h0m2 2h0m0-3h0m1 0h0m8 0h0m1-4h0m2-3h0m0-2h0m3 1h0m21 9h0m7-1h0m1 3h0m1-8h0m0-1h0m4 7h0m22-11h0m1 11h0m0-4h0m5-3h0m19 9h0m2-12h0m5 11h0m13-6h0m0 5h0m0-5h0m3 7h0m5-13h0m5 2h0m46 3h0m4-5h0m6 12h0m20-12h0m15 12h0m9-9h0m1-1h0m0-1h0m9 6h0m6 4h0m33-8h0m2 9h0m8-2h0m1-4h0m26-5h0m16 12h0m1-10h0m7 1h0m6 2h0m5-5h0m14 5h0m19-3h0m12-1h0m6 4h0m0 3h0m2-5h0m1 3h0m0 6h0m4-5h0m0-2h0m12 5h0m0-11h0m8 9h0m5 0h0m4 0h0m0-6h0m12 1h0m5 3h0m9-2h0m5 7h0m3-6h0m36-5h0m11 12h0m15-6h0m5-1h0m16 4h0m13-7h0m7 0h0m4 10h0m5-13h0m1 8h0m1 0h0m41-4h0m52 2h0m6-6h0m0 1h0m3 4h0m1 1h0m0 1h0m12 2h0m16-8h0m7 5h0m18 5h0m28 0h0m5-1h0m23 0h0m6-8h0m8 1h0m35 3h0m6 2h0m4 3h0m5-2h0m4 0h0m7 4h0m1-2h0m1-5h0m3-1h0m2 3h0m5 3h0m1-8h0m1 2h0m3-3h0m2 8h0m3-9h0m0 1h0m8 8h0m23 2h0m8-3h0m9-2h0m4 2h0m18 3h0m1 0h0m20-10h0m0 2h0m11 5h0m3-3h0m5 8h0m4-3h0m1 0h0m1-7h0m6-1h0m27 3h0m0 7h0m4-2h0m2-9h0m1-2h0m3 3h0m4 5h0m1-5h0m4 4h0m0 2h0m2 0h0m0-1h0m2-1h0m10-5h0m7-1h0m2 10h0m11-9h0m2 4h0m2-1h0m0 2h0m5 3h0m10 1h0m5-1h0m6-7h0m2 10h0m2 0h0m6-1h0m22-8h0m4 6h0m4 0h0m3-7h0m6 9h0m12-2h0m2 4h0m0-2h0m0 0h0m0-5h0m1-3h0m0 6h0m1 3h0m1-10h0m1 3h0m11-5h0m2 1h0m2 3h0m0-2h0m3 0h0m4 3h0m4-1h0m0 2h0m0-2h0m2 7h0m0-1h0m8-2h0m42 0h0m7 0h0m2 1h0m31-8h0m4 0h0m17 2h0m2 4h0m8 4h0m1-4h0m3-8h0m12 13h0m8-3h0m0-5h0m1 0h0m3 4h0m0 1h0m2-6h0m1 3h0m1 6h0m4-5h0m1-5h0m2 10h0m18-9h0m7 3h0m7 1h0m0-4h0m1 7h0m0 2h0m3-13h0m0 12h0m4-7h0m1-2h0m4 1h0m0 9h0m2-5h0m9-1h0m33 1h0m1-1h0m45 1h0m2-7h0m4 12h0m0-2h0m2-3h0m41-1h0m2-5h0m3 2h0m6-1h0m7 0h0m8-2h0m5 1h0m4-1h0m35 0h0m0 2h0m2 0h0m8-3h0m2 13h0m0-1h0m1-5h0m2-7h0m5 8h0m3 1h0m23-9h0m3 10h0m1-2h0m29-8h0m5 0h0m1 13h0m37-7h0m3-2h0m0-1h0m1 2h0m1-2h0m15 0h0m15-2h0m1 2h0m27 9h0m0 0h0m7-3h0m3-2h0m3 4h0m8-1h0m14-10h0m7 12h0m3-10h0m4 0h0m7 4h0m5 1h0m16 0h0m3-5h0"/><path stroke="#b57b7b" stroke-width="4.4" d="m252 1350h0m7 1h0m4-6h0m2-2h0m41 3h0m9 5h0m3-4h0m2-3h0m8 7h0m22-7h0m40-2h0m77 5h0m51 1h0m155-2h0m2 8h0m8 0h0m46 0h0m5-11h0m91 4h0m25 4h0m23 0h0m16-4h0m7 2h0m12-3h0m48 5h0m23-4h0m56-1h0m0 1h0m13 4h0m34-5h0m8 0h0m38-2h0m47 8h0m32-9h0m198 6h0m42-4h0m144 8h0m114-6h0m73 3h0m74 0h0m32-8h0m57 3h0m5 9h0m48-7h0m93-2h0m70 0h0m91 4h0m3-6h0m99-2h0m74 12h0m61-3h0m15-5h0m36-1h0m33 6h0m42-9h0m5 3h0m2-2h0m3 9h0m21-6h0m6 5h0m0-1h0m54 2h0m11-5h0m7-2h0m2 9h0m27-10h0m18 11h0m8-10h0m29 3h0m29-2h0m30-1h0m1 8h0m2-9h0m43 8h0m1-2h0m15-1h0m7-3h0m34 7h0m7-8h0m3 9h0m47-6h0m16 1h0m13-3h0m25-2h0m4 10h0m0-2h0m43-4h0m35 5h0m35 3h0m6-7h0m44 5h0m6-3h0m5 2h0m5 0h0m1-4h0m57-5h0m0 8h0m37-3h0m7-2h0m40 3h0m11-4h0m82 7h0m6 0h0m16-11h0m1 10h0m18-8h0m104 4h0m34-6h0m24 5h0m9 8h0m7-1h0m97-5h0m77 3h0m55-6h0m2 4h0m3-3h0m0-4h0m12 8h0m14-8h0m25 11h0m6 1h0m13-11h0m21 11h0m18-8h0m5 8h0m24-11h0m36 11h0m1-12h0m23-1h0m6 11h0m15-7h0m4 0h0m14 5h0m16-7h0m4 3h0m32-2h0m83 1h0m6-1h0m1-3h0m1 3h0m8 6h0m0-3h0m25 5h0m5-5h0m5 1h0m2 2h0m1 1h0m0-6h0m3 4h0m6 0h0m5 4h0m1-10h0m85 10h0m5 0h0m37-4h0m6 3h0m6-8h0m1-1h0m68 8h0m4 2h0m1 2h0m36-6h0m4 1h0m18-7h0m2 4h0m3 0h0m3 4h0m5 1h0m38-7h0m30 5h0m9-3h0m64 3h0m1 2h0m9-9h0m18 5h0m4 2h0m12-4h0"/><path stroke="#9696be" stroke-width="4.4" d="m247 1049h0m1-6h0m11 11h0m14-6h0m2-7h0m2 12h0m2-4h0m7-2h0m4 5h0m2-4h0m2-7h0m19 5h0m1-1h0m1 1h0m1 3h0m1-8h0m3 12h0m1-6h0m5 4h0m18 0h0m13-4h0m33 1h0m4 1h0m34 1h0m55-4h0m6 1h0m5 7h0m2-5h0m19-2h0m33-1h0m11 2h0m31-2h0m2 3h0m0-5h0m7 9h0m0-11h0m2 7h0m0-6h0m4 5h0m1 0h0m36-4h0m42 4h0m1 1h0m15-7h0m23 11h0m2-1h0m3-9h0m6-1h0m28 3h0m20-1h0m29-2h0m21 5h0m47 5h0m1 1h0m1-10h0m4 8h0m11-11h0m14 10h0m34-6h0m1-4h0m11 11h0m1 1h0m4-1h0m16-5h0m11 5h0m20-5h0m1 3h0m13 3h0m1-3h0m6-3h0m23 1h0m0-1h0m0 4h0m1-7h0m0 6h0m1 4h0m1-7h0m25-4h0m2 0h0m16 10h0m14-6h0m10 1h0m46 5h0m1-7h0m8 6h0m6-2h0m2-1h0m22 1h0m26-2h0m0 3h0m5 0h0m5 3h0m47-1h0m18-3h0m16-7h0m42 9h0m27-11h0m6 1h0m7 11h0m7-3h0m1-5h0m35 2h0m5 2h0m4 3h0m20-9h0m4 0h0m2 2h0m39-3h0m50 8h0m8-4h0m3 1h0m1-4h0m2-1h0m0 7h0m13 4h0m10-7h0m21 2h0m3-1h0m98 2h0m32-6h0m3 0h0m3 6h0m30 5h0m2-8h0m10 5h0m3-7h0m8-3h0m41 2h0m15 4h0m4 0h0m1 3h0m5-4h0m5-1h0m8-2h0m0 6h0m7-8h0m5 13h0m13-2h0m18-2h0m5 1h0m20 3h0m13-6h0m17-2h0m7 0h0m1-1h0m0 4h0m13-4h0m5 2h0m6 5h0m1-8h0m24 9h0m11-2h0m8-2h0m17 1h0m1-8h0m24 5h0m3 1h0m8 4h0m7-4h0m2 2h0m16-8h0m1 4h0m3 7h0m0-7h0m4-3h0m4 7h0m8 5h0m10-5h0m1-9h0m21 3h0m4 6h0m1 1h0m1-1h0m1 3h0m0-5h0m23 3h0m2-8h0m1 5h0m0-5h0m1 4h0m1-4h0m1-1h0m2 4h0m0 7h0m2 1h0m0-3h0m2-2h0m0-8h0m13 2h0m3 4h0m6 6h0m0-6h0m10 7h0m0-2h0m4 0h0m3-1h0m2-8h0m1 8h0m12 4h0m4-4h0m3-9h0m6 2h0m8 9h0m2 0h0m1-3h0m1-8h0m5 0h0m1 8h0m5-3h0m6-3h0m2 5h0m7 3h0m0-4h0m1-5h0m1 2h0m0 5h0m5-3h0m25-4h0m2 11h0m3-5h0m20-1h0m45 7h0m4-10h0m11 4h0m4 3h0m5-8h0m13-1h0m3 11h0m40-9h0m37-2h0m0 1h0m23 9h0m17 1h0m5-12h0m1 3h0m30 7h0m54-5h0m10-2h0m10-2h0m8 4h0m15-5h0m33 4h0m1 0h0m22-1h0m19 9h0m5-5h0m1 1h0m29 0h0m2 0h0m0 0h0m29-1h0m2-3h0m27 0h0m3 2h0m13-4h0m15 10h0m1-9h0m1-1h0m1-3h0m12 9h0m14-5h0m2 5h0m13-5h0m31 1h0m11 6h0m19-10h0m2 5h0m0 4h0m21-4h0m10 2h0m9 3h0m17-8h0m6 3h0m6 5h0m0-10h0m5 9h0m3 0h0m25-4h0m15 3h0m18 1h0m2 4h0m5-13h0m43 1h0m4 5h0m9 4h0m4-6h0m8 7h0m2-11h0m7 2h0m91-1h0m39 9h0m11 0h0m9-10h0m6 9h0m0-8h0m51 8h0m13 1h0m6-8h0m1 1h0m9 6h0m3 2h0m2 1h0m7-7h0m0 4h0m0-4h0m2 1h0m6 5h0m4-3h0m0-6h0m3 8h0m2-2h0m3-1h0m12 0h0m5 5h0m3-5h0m29 6h0m5-8h0m6 4h0m41-5h0m1 2h0m38 4h0m26-8h0m19 4h0m8 0h0m19-1h0m7-4h0m52 7h0m30-5h0m5 2h0m1-1h0m5 6h0m0-7h0m1 0h0m105 9h0m22-12h0m20 6h0m8-2h0m5 6h0m23 0h0m41-9h0m0 4h0m32 7h0m13-7h0m17-1h0m9 2h0m1 7h0m1-10h0m2-1h0m10 8h0m4-8h0m34 3h0m2-2h0m21 2h0m2-4h0m3 11h0m4-1h0m5-8h0m1 2h0m1 6h0m23-12h0m0 1h0m7 11h0m0-3h0m0-1h0m1-8h0m10 4h0m21 2h0m2 5h0m3 0h0m67 1h0m5-8h0m13-3h0m4 8h0m18-3h0m7-1h0m1-4h0m32 6h0m1 5h0m12-3h0m0-4h0m4-1h0m5 6h0m1 2h0m34 0h0m4-2h0m12 0h0m23-2h0m46 4h0m97-8h0m116 6h0m8-7h0"/><path stroke="#b78282" stroke-width="4.4" d="m257 1333h0m14 7h0m4-10h0m9 1h0m21 2h0m7 7h0m4-7h0m1 6h0m4 1h0m16-4h0m52-8h0m3 2h0m4 9h0m70-7h0m11 4h0m6 1h0m3 2h0m8-11h0m85 7h0m2-7h0m70 2h0m49 3h0m47 3h0m14 1h0m25-6h0m9-3h0m63 0h0m11 6h0m46 5h0m13-1h0m16 1h0m31-11h0m53 9h0m25-9h0m5 4h0m1-1h0m28 5h0m10-2h0m15 1h0m18 2h0m24-8h0m4 4h0m10 7h0m15-1h0m59-1h0m28-9h0m10 5h0m27 2h0m17-7h0m44 10h0m90-6h0m20 2h0m87-4h0m11 0h0m7 8h0m55-11h0m4 11h0m4-9h0m66-1h0m47 1h0m19 1h0m48 6h0m29 1h0m42 3h0m56-3h0m31-5h0m3-2h0m19 6h0m55 1h0m2-3h0m60-1h0m115 2h0m144-6h0m75 5h0m16 1h0m12-9h0m27 4h0m8 6h0m11-5h0m9 7h0m59-9h0m24 10h0m83-9h0m2-2h0m66 10h0m20-5h0m1-2h0m8 5h0m3-2h0m28 2h0m22-5h0m55-1h0m12 6h0m0-1h0m44-7h0m3 7h0m33-7h0m54 0h0m22 11h0m34-5h0m2 4h0m44-10h0m3 6h0m20 3h0m14-6h0m44 4h0m6-8h0m2 3h0m9 9h0m67 0h0m10-7h0m20-4h0m8 3h0m12 2h0m34 1h0m93-4h0m7 0h0m7-2h0m83 10h0m1-8h0m1-3h0m3 1h0m38 0h0m21 1h0m27 4h0m5-3h0m3 2h0m8 0h0m1 4h0m99-3h0m5 4h0m36-7h0m7-3h0m29 4h0m63 2h0m2-2h0m11 5h0m5-3h0m4 7h0m3-9h0m3 2h0m26 2h0m9 5h0m26-5h0m5-5h0m2 7h0m9-4h0m35-3h0m24 8h0m4 1h0m8-8h0m8-4h0m6 9h0m6-6h0m2 1h0m0 4h0m3-8h0m0 10h0m1-6h0m9-2h0m12-1h0m12 8h0m89 3h0m51-5h0m3-7h0m1 12h0m2-5h0m4-6h0m3 10h0m5-4h0m19-2h0m3-4h0m9 9h0m0-5h0m3-3h0m3-2h0m9 9h0m2-5h0m104-2h0m50 8h0m13 2h0m4-5h0m9-7h0m28 5h0m1 7h0m2-6h0m4-6h0m3 9h0m10-6h0m5 0h0m13-2h0m8 2h0m2 9h0m2-2h0m1 2h0m70-5h0m2-4h0m2 0h0m32 10h0m6-10h0m25 10h0m29-7h0m1 1h0m1-7h0m4 2h0m11 3h0m10 4h0m14-2h0m1-2h0m25-3h0"/><path stroke="#a4a4c3" stroke-width="4.4" d="m253 1077h0m1-2h0m1-3h0m2 1h0m2 4h0m3 1h0m14 0h0m2-4h0m3 0h0m1 6h0m12-1h0m4 2h0m13-9h0m2-2h0m0 0h0m4-1h0m0 4h0m0 8h0m1 0h0m1-9h0m5 8h0m1-6h0m7-2h0m4 0h0m23 4h0m14-8h0m8 10h0m10-7h0m78 6h0m1-5h0m23-4h0m10 9h0m5-2h0m6 0h0m6 5h0m1-10h0m19 0h0m25 3h0m7 1h0m6-7h0m1 14h0m0-11h0m2 9h0m5-7h0m1-3h0m4 11h0m15-7h0m3-1h0m6-5h0m1 3h0m25 0h0m2 9h0m9 1h0m9-11h0m9 6h0m4 5h0m2-9h0m6-3h0m1 11h0m31-1h0m3-1h0m10-3h0m3 4h0m4-8h0m18 3h0m26 6h0m3-9h0m25 9h0m13-6h0m6-3h0m2 9h0m10 1h0m4-11h0m5 6h0m6 2h0m2-8h0m1 3h0m14-1h0m7 4h0m4 6h0m3-1h0m1-12h0m1 9h0m6-1h0m2-2h0m1 7h0m6-10h0m5 3h0m3-4h0m5 5h0m0 1h0m35-3h0m2 7h0m1-8h0m4 2h0m4 0h0m31-6h0m15 12h0m23-1h0m1-3h0m1 4h0m23-4h0m0 3h0m1-10h0m4 10h0m1 0h0m1-1h0m12-5h0m1 2h0m4-3h0m12 2h0m20 7h0m2-7h0m17 2h0m33-7h0m1 3h0m3 0h0m3 7h0m0 1h0m0 0h0m0-10h0m3 10h0m3-9h0m21-1h0m2 5h0m1-1h0m1 4h0m0-1h0m2-4h0m1 1h0m3 3h0m8 0h0m1-6h0m11 5h0m12 0h0m3-7h0m5 7h0m40-1h0m8-6h0m4 6h0m27 5h0m2-4h0m1-1h0m10 3h0m3-7h0m24-2h0m26-1h0m39 8h0m25-3h0m0 5h0m4 1h0m18-4h0m5-3h0m4 6h0m18-6h0m7-5h0m21 8h0m7-4h0m3 5h0m28 0h0m22-7h0m6 5h0m12-5h0m10 10h0m3-5h0m5 1h0m12 2h0m6-3h0m13-1h0m24 7h0m7-3h0m0 0h0m10 2h0m0-7h0m1 1h0m12-5h0m0 11h0m6 2h0m18-9h0m8-2h0m17 3h0m2-3h0m2 9h0m5-5h0m12-4h0m3 10h0m0-2h0m3-8h0m25 7h0m0-8h0m2 0h0m18 11h0m1-13h0m1 5h0m7 0h0m9-4h0m8 5h0m7 5h0m15-8h0m3 8h0m2 0h0m5-10h0m1 11h0m1-12h0m4 14h0m3-11h0m1-1h0m18 1h0m2 8h0m1-7h0m8 0h0m1-3h0m3 4h0m39 2h0m3 0h0m17 6h0m11-11h0m3 6h0m1-2h0m0 3h0m7-4h0m9 6h0m3-10h0m2 12h0m10-5h0m18-5h0m7 0h0m19 6h0m7 1h0m17-7h0m13 7h0m2-9h0m2 7h0m0 3h0m1-10h0m2 5h0m1 1h0m10 2h0m2-5h0m2 3h0m13-3h0m4-2h0m5 6h0m9-2h0m6 1h0m6-1h0m5 1h0m3-2h0m13 3h0m2-2h0m1-1h0m0 5h0m1 0h0m2-1h0m1-1h0m1-2h0m0-2h0m18 4h0m0 3h0m1-7h0m1-1h0m2 4h0m1 3h0m1-4h0m0-4h0m2 5h0m1 2h0m1 0h0m0-4h0m0 1h0m2 6h0m0-6h0m2-3h0m5-1h0m2 6h0m1 5h0m4-5h0m12-5h0m1 0h0m1 2h0m0 4h0m5 2h0m5-2h0m3 0h0m3 0h0m1-1h0m1 2h0m2 3h0m0 1h0m0-9h0m1-1h0m12-1h0m5 8h0m9-7h0m5 9h0m1-7h0m0 5h0m8-6h0m4 1h0m1 3h0m0-4h0m11 6h0m26 2h0m8-2h0m1-8h0m3 7h0m1 2h0m0-10h0m3-1h0m20 8h0m15-8h0m32 3h0m9 0h0m12 5h0m18 4h0m13-2h0m5-6h0m3 5h0m5-2h0m14-7h0m8 5h0m10 1h0m4 2h0m4 5h0m48-2h0m35-7h0m54 4h0m8-2h0m5 0h0m21 3h0m40-6h0m4 2h0m13-5h0m3 7h0m0 5h0m3 0h0m17-2h0m1-8h0m11 6h0m30 0h0m5 2h0m32-1h0m10-5h0m9 1h0m0 0h0m20 5h0m0-7h0m11 9h0m2-1h0m5 0h0m6-2h0m1 2h0m0 0h0m3 0h0m7-3h0m5 3h0m5-11h0m5 5h0m11-5h0m9 4h0m8 8h0m12-1h0m4-10h0m9 6h0m8-6h0m0 2h0m11 3h0m2-4h0m2 4h0m12 7h0m8-5h0m2-6h0m11 8h0m22 1h0m17-11h0m3 0h0m0 11h0m2 2h0m3-8h0m11-1h0m6 2h0m2 6h0m1 0h0m1-1h0m0-2h0m8-8h0m1 8h0m2-10h0m1 11h0m11-8h0m0 6h0m1-6h0m17 3h0m40 4h0m1-8h0m23 5h0m7-4h0m1 5h0m25 5h0m3-6h0m3 5h0m6 0h0m7-11h0m13 11h0m1-11h0m3 6h0m22-5h0m4-1h0m4 8h0m3-7h0m5 9h0m8-1h0m7-8h0m6 2h0m2 4h0m7 1h0m5 2h0m6-1h0m3-1h0m0-4h0m14-2h0m43 4h0m3 0h0m0 3h0m3-4h0m14 6h0m0-8h0m1 8h0m6-8h0m6 4h0m2 0h0m4-1h0m2-6h0m7 12h0m3-2h0m4-5h0m8 0h0m0-2h0m7 8h0m2-7h0m3 5h0m1-3h0m30 6h0m0 0h0m2-9h0m18 10h0m40-8h0m1 1h0m5-1h0m3 7h0m1-6h0m7 3h0m0 3h0m8 0h0m3-9h0m11 1h0m2 6h0m16-6h0m2-1h0m6 9h0m1-10h0m32 4h0m8-6h0m2 11h0m5-5h0m1-2h0m2 0h0m6 4h0m89-4h0m0 8h0m2-9h0m1-1h0m3 9h0m2-2h0m13-9h0m11 12h0m19 1h0m2-9h0m28 6h0m29-1h0m3 4h0m0-2h0m7 2h0m10-5h0m24-7h0m2 5h0m1 5h0m26-9h0m32 6h0m49 2h0m3 2h0m5-7h0m1-3h0m8 9h0m5 0h0m4-6h0m2 1h0m4 4h0m3 0h0m2 1h0m16-1h0m14-9h0m0 3h0m3 2h0m47-5h0m4-1h0m2 13h0m1 0h0m2-8h0m27 8h0m7-12h0m2 7h0m13 5h0m16-13h0m1 10h0m0-7h0m10-3h0m10 1h0m6 3h0m3 1h0m31 5h0m7 3h0m2-4h0m1 0h0m13-9h0m12 11h0m1-3h0m5-4h0m8 6h0m6-6h0m2 8h0m0 1h0m4-6h0m0-7h0m1 0h0m24 12h0m4-12h0m3 6h0m14 4h0m2 2h0m0-3h0m1-4h0m1-3h0m4 9h0m2-5h0m4-2h0m1 7h0m27-9h0m4 0h0m20 6h0m3 5h0m11-9h0m1 5h0m2-1h0m42-7h0m4 11h0m8-4h0m9-2h0m0-5h0m6 0h0m14 10h0m0-11h0m4 10h0m67-8h0m35-1h0m137 10h0"/><path stroke="#6060ac" stroke-width="4.4" d="m294 941h0m72 3h0m4-3h0m29-7h0m18 9h0m55-1h0m25-11h0m184 5h0m66 6h0m98-2h0m34-8h0m126 2h0m49 6h0m103 4h0m139-4h0m7-9h0m20 6h0m109 6h0m1-7h0m46-5h0m282 9h0m85 4h0m9-4h0m92 2h0m42 0h0m78-8h0m58 9h0m31 0h0m4 0h0m2-12h0m50 12h0m29 0h0m10-2h0m21-6h0m0 5h0m12-4h0m6 7h0m19-7h0m30 4h0m44-5h0m7 7h0m411 0h0m137 1h0m138-1h0m256-8h0m27-2h0m242 5h0m62-6h0m1 0h0m501 7h0m10-5h0m24 3h0m177 3h0m56 2h0m16-3h0"/><path stroke="#b37474" stroke-width="4.4" d="m255 1365h0m4-5h0m17-2h0m33 0h0m5 0h0m2 4h0m92-3h0m161-4h0m11 5h0m16 0h0m62 6h0m23-10h0m119 11h0m14-2h0m20-7h0m118 6h0m7-4h0m18 0h0m81-4h0m239 11h0m26-1h0m105-8h0m53 9h0m16-4h0m8 0h0m327 3h0m98 0h0m53-11h0m20 5h0m18 5h0m65 2h0m101-6h0m69-6h0m121 6h0m9-4h0m144 10h0m86-10h0m33 4h0m83 1h0m23 4h0m12-8h0m38-1h0m0 4h0m0 5h0m82-7h0m60-1h0m58 2h0m68 3h0m7-1h0m88-4h0m35 8h0m159 0h0m17-1h0m1-4h0m32 3h0m252 3h0m179-6h0m4-2h0m91-3h0m7 11h0m12-9h0m46 9h0m5-9h0m2 2h0m1-2h0m30 4h0m49-5h0m32 1h0m3 0h0m1 5h0m19-6h0m2 9h0m0-11h0m11 1h0m11 9h0m71-3h0m39 2h0m37-5h0m15-3h0m2 0h0m5 5h0m22 1h0m12 2h0m1 4h0m2-8h0m1 6h0m1-1h0m5-4h0m93 6h0m121-4h0m5-3h0m3 8h0m5-10h0m19 5h0m10 5h0m4-5h0m20-1h0m1 0h0m4 4h0m16 1h0m35-7h0m7 5h0m19-8h0m0 0h0m3 4h0m14 0h0m0-2h0m21 2h0m30-2h0m3 1h0m5 7h0m8-3h0m14-5h0m7-2h0m26 3h0m5-5h0"/><path stroke="#6e6eb0" stroke-width="4.4" d="m254 970h0m9-3h0m30-1h0m62 5h0m52-7h0m122-6h0m6 11h0m62 2h0m213-8h0m29-2h0m42 7h0m92 1h0m2-10h0m2 4h0m30 8h0m3-5h0m16-3h0m31 0h0m52 6h0m11 2h0m56-10h0m129 2h0m5 1h0m13-5h0m1 3h0m17 3h0m114 2h0m16-5h0m9 7h0m107-9h0m157 8h0m16 2h0m57-7h0m59-3h0m148 10h0m7-6h0m35 5h0m94 2h0m6-1h0m18-11h0m11 9h0m9-3h0m4-1h0m2 0h0m35 5h0m10 0h0m5-3h0m3-8h0m26 11h0m19-5h0m4-3h0m20 3h0m10 0h0m20-1h0m95-1h0m4 6h0m6-3h0m2 5h0m33-11h0m5 12h0m36-11h0m50 5h0m24-6h0m27 10h0m255-2h0m53 4h0m7-1h0m22-5h0m93 4h0m48-1h0m7-6h0m57 2h0m5 5h0m74-1h0m64 4h0m6-9h0m88 3h0m75-5h0m43-3h0m4 10h0m3-7h0m47 5h0m1 0h0m2-7h0m1-1h0m61 2h0m71 4h0m15 5h0m170-8h0m41 4h0m80 4h0m51 2h0m29-4h0m108-2h0m88 5h0m19 0h0m47-11h0m92 12h0m5-3h0m7 2h0m131-3h0m62 3h0m18-10h0"/><path stroke="#c5aaaa" stroke-width="4.4" d="m248 1257h0m2 1h0m1-8h0m1 1h0m1 2h0m2 6h0m0-1h0m1-13h0m0 6h0m8-1h0m2 7h0m2-6h0m5-5h0m6 8h0m2-7h0m0 0h0m3 4h0m0 7h0m1-12h0m1 2h0m20 1h0m2 4h0m1 5h0m3-4h0m1-8h0m1 4h0m0-1h0m1 3h0m1-1h0m1 6h0m0-7h0m0 1h0m2-3h0m0 3h0m1 0h0m15-5h0m16 1h0m1 8h0m4 3h0m5-6h0m0 5h0m2-2h0m2 3h0m19-5h0m4 0h0m4-4h0m8-2h0m7 1h0m3 3h0m19 6h0m50-8h0m5 4h0m22-2h0m23 7h0m5-7h0m1 3h0m3-4h0m28-3h0m5 2h0m2 1h0m2-3h0m4 9h0m0-3h0m0-5h0m7-2h0m2 2h0m3 1h0m1-1h0m0 4h0m3 1h0m2 0h0m0-6h0m0 9h0m0-2h0m1 4h0m0-12h0m0 11h0m2-7h0m0-3h0m15 8h0m0-3h0m2-2h0m4 3h0m0 2h0m11-8h0m5 4h0m20 1h0m4-5h0m19 10h0m0 2h0m1-10h0m14 10h0m17-8h0m1 2h0m15 6h0m2-9h0m0 0h0m0 3h0m14 3h0m1-6h0m4 7h0m1-5h0m3 0h0m10 5h0m46 0h0m14-4h0m7-6h0m5 10h0m6-11h0m20 1h0m9 11h0m0-9h0m12-2h0m0 11h0m4-11h0m0 3h0m11 4h0m0-1h0m2-1h0m7-4h0m2 3h0m0-1h0m14-4h0m13 11h0m3-8h0m3 2h0m1 0h0m1 6h0m5-11h0m2 8h0m1 2h0m0-7h0m1 5h0m2-5h0m1 0h0m0 1h0m2 1h0m1 6h0m11-6h0m1 1h0m2 7h0m6-8h0m0 1h0m2-1h0m3-1h0m0 8h0m2-4h0m1 3h0m4-4h0m1-7h0m1 9h0m1-8h0m11 2h0m0-2h0m3 10h0m4-3h0m3-6h0m6 10h0m10 1h0m6-5h0m2 4h0m12-1h0m1-8h0m5 7h0m3-1h0m2-6h0m7 3h0m23-3h0m18 2h0m2-2h0m2 1h0m2 4h0m4 2h0m11 1h0m0-4h0m18 1h0m8-6h0m3 5h0m7-7h0m1 11h0m1-2h0m3-6h0m6 8h0m7-5h0m0-1h0m6 6h0m2-2h0m0-2h0m6 5h0m14-3h0m14 1h0m2-1h0m3-7h0m18 6h0m1 4h0m21-8h0m16 8h0m8-12h0m1 7h0m12 4h0m2-6h0m6 1h0m6-4h0m1 2h0m1 4h0m5 2h0m14-1h0m5-7h0m0-1h0m15 4h0m3-5h0m26 0h0m10 1h0m3 3h0m6 2h0m1-5h0m18 6h0m1 5h0m9-7h0m6 4h0m3-9h0m1 1h0m14 11h0m7-10h0m10 8h0m3 1h0m42 0h0m5-10h0m1 9h0m3-7h0m12 2h0m18 5h0m4-10h0m7 11h0m2-11h0m1 3h0m1 2h0m3-2h0m2-3h0m0 2h0m2 4h0m7-5h0m7 11h0m0-1h0m8-2h0m25 2h0m5-3h0m5-1h0m1-7h0m4 4h0m9 6h0m18-7h0m1 5h0m10 0h0m4-1h0m9-3h0m38 1h0m20 0h0m2-5h0m3 8h0m4 2h0m1-5h0m18 6h0m9-6h0m6 1h0m9 4h0m4-6h0m4 2h0m9-3h0m1 3h0m5 2h0m15-8h0m2 4h0m2 9h0m2-3h0m1-5h0m5 3h0m1 3h0m2-10h0m20 9h0m6-3h0m1 3h0m8 1h0m13 0h0m6-11h0m0 10h0m2-10h0m29 11h0m0-7h0m24-4h0m3 11h0m20-12h0m1 13h0m3-9h0m5 1h0m3 4h0m8-1h0m2-7h0m2 2h0m4 0h0m0-1h0m5-1h0m4 3h0m2 2h0m25 1h0m2-3h0m6-3h0m2 11h0m10-6h0m23 6h0m10-2h0m5 1h0m4-1h0m0-4h0m1 1h0m0 7h0m0-7h0m20-4h0m4 7h0m28 1h0m33 2h0m32 1h0m4-10h0m0-2h0m1 11h0m2 0h0m7-5h0m71 3h0m1-11h0m5 8h0m6-3h0m28-1h0m12 5h0m1 5h0m8-11h0m5 1h0m5 1h0m27 5h0m7-6h0m32 1h0m16-3h0m24 3h0m15-3h0m3 6h0m0-6h0m16 0h0m5 6h0m0-5h0m2 5h0m0-4h0m17-3h0m9 7h0m8-7h0m0 9h0m10 3h0m2-5h0m3 0h0m23-7h0m2 8h0m13-3h0m1 0h0m7-4h0m2 6h0m3-3h0m0-1h0m2 2h0m6 0h0m2-4h0m1 2h0m44 3h0m1 2h0m1-5h0m1 5h0m1 4h0m2-5h0m2-7h0m7 0h0m10 2h0m8 2h0m1 4h0m0 3h0m9 2h0m19 0h0m4-3h0m4-3h0m8-1h0m1 3h0m1-8h0m4 4h0m1-4h0m5-2h0m3 3h0m2 9h0m1 2h0m2-8h0m1 0h0m1 4h0m3-3h0m0 4h0m2-1h0m2-2h0m2 0h0m2-4h0m9 9h0m4-2h0m1 0h0m10 3h0m3-1h0m17-9h0m5-3h0m1 10h0m2 0h0m1-6h0m7 7h0m20 0h0m5-7h0m9 1h0m4 6h0m14-5h0m3-7h0m1 6h0m2 7h0m6-3h0m1 4h0m4-3h0m5-10h0m3 2h0m1 1h0m24 0h0m7-1h0m3 7h0m3 2h0m22-7h0m1-1h0m3 0h0m1 4h0m11 4h0m5-6h0m9-2h0m9 2h0m2-1h0m2-3h0m7 11h0m2-12h0m0 3h0m1 5h0m4-8h0m6 1h0m6 9h0m5-7h0m3 1h0m11 8h0m21-6h0m1 3h0m13 4h0m1-8h0m0-4h0m3 6h0m1-2h0m4 4h0m8 1h0m9-2h0m2-5h0m2 2h0m0 1h0m15-1h0m0 7h0m2-9h0m1 7h0m3-3h0m1 6h0m5-8h0m4 1h0m1-3h0m5 2h0m10 6h0m3-10h0m27 6h0m5-4h0m5 0h0m1 4h0m0-7h0m1 8h0m3-8h0m1 11h0m3-7h0m7 3h0m4-4h0m1 3h0m0-6h0m26 4h0m9-2h0m5 2h0m12 5h0m34 3h0m10-12h0m1 5h0m7-3h0m0 9h0m5-6h0m5 0h0m2 0h0m4-2h0m4 9h0m0-11h0m3 5h0m10 0h0m4 4h0m1-8h0m4 6h0m1-2h0m0 1h0m1-5h0m2 9h0m3-8h0m69 2h0m8-5h0m2 4h0m21 0h0m5 5h0m11-9h0m0 7h0m9 1h0m1 2h0m0-10h0m29 9h0m10 4h0m8-2h0m45-6h0m1 3h0m2-5h0m1-2h0m1 9h0m1-1h0m8-9h0m11 2h0m1 10h0m6-11h0m12 9h0m1-3h0m8 0h0m8 1h0m10-1h0m17-4h0m5 3h0m6-5h0m19 11h0m3-2h0m1-6h0m1 3h0m57-7h0m1 12h0m14-12h0m7 0h0m4 1h0m2 12h0m3-3h0m2-3h0m2-2h0m1 0h0m1 7h0m1-10h0m1 0h0m9 1h0m2 4h0m17 4h0m13-10h0m3 4h0m0 1h0m29-5h0m9 1h0m1 3h0m1-5h0m3 11h0m5-3h0m9-3h0m1-1h0m4 2h0m1-6h0m0 7h0m2-3h0m0-1h0m2 3h0m2 3h0m0 2h0m3-8h0m2 5h0m7-5h0m18 2h0m1 2h0m1 0h0m1 3h0m0-5h0m1 6h0m1-8h0m3 1h0m2-2h0m0 10h0m4-7h0m1-5h0m9 9h0m5-2h0m4 0h0m3-6h0m1 2h0m1-1h0m4 7h0m0-9h0m6 2h0m2 2h0m2 0h0m2-3h0m0-2h0m1 14h0m5-7h0m0 0h0m10-6h0m1 10h0m7 0h0m3-7h0m8-1h0m2-1h0m1 4h0m28 5h0m1-7h0m2 8h0m2 2h0m0-9h0m1 1h0m4-4h0m14 4h0m1 6h0m4-11h0m0 2h0m1 11h0m1-9h0m0 3h0m2-3h0m1-4h0m4 1h0m7 2h0m7 6h0m1-3h0m10-4h0m11 9h0m3-4h0m1 3h0m1-7h0m0 3h0m2-4h0m24 1h0m13-1h0m0 8h0m2-4h0m8-6h0m20 9h0m1-4h0m3-5h0m22 4h0m5 5h0m1-6h0m3 0h0m1 6h0m7-3h0m7 1h0m0 0h0m1 5h0m1-10h0m3 2h0m0 6h0m0-9h0m2 11h0m1-12h0m1 8h0m4 4h0m0-6h0m0 0h0m2 2h0m2 2h0m1 3h0m3-3h0m1 2h0m1-12h0m29 13h0m2-4h0m2 0h0m0-2h0m2-1h0m3 0h0m1-4h0m2 2h0m1 3h0m0 0h0m2 3h0m0-6h0m1 7h0m4-1h0m11-10h0m1 10h0m27-5h0m20 3h0m1-4h0m13-4h0m7 5h0m2 5h0m5-1h0m0 1h0m0 2h0m34-12h0m4 11h0m5-11h0m2 5h0m6-2h0m3 1h0m6 3h0m0 2h0m6 0h0m7 1h0m2-9h0m7 9h0m36-9h0m2 2h0m0 7h0m2-6h0m1 3h0m1 3h0m1-1h0m2 2h0m0-8h0m0-2h0m1 2h0m2 8h0m2-9h0m8 0h0m2 6h0m1-8h0m1 5h0m2 3h0m2 1h0m10-8h0m4 0h0m1 6h0m1-2h0m4-1h0m0 0h0m1 0h0m0 3h0m16-6h0m1 12h0m3-10h0m11 7h0m1-3h0m12-1h0m24 5h0m8 1h0m5-10h0m6-2h0m2 10h0m15-2h0m15-7h0m1 9h0m19-2h0m6 4h0m21-4h0m1 1h0m0-9h0m3 0h0m1 5h0m3-3h0m5 3h0m2 3h0m13-1h0m0 5h0m3-4h0m9-6h0m6-1h0m0-1h0m25 11h0m1-9h0"/><path stroke="#8282b7" stroke-width="4.4" d="m250 1011h0m6-7h0m53 2h0m2 2h0m4 3h0m0-7h0m8 8h0m0-6h0m5 6h0m27-12h0m27 3h0m91 8h0m31-11h0m9 8h0m7-6h0m1 5h0m69 2h0m7-9h0m7 3h0m33 0h0m6 8h0m30-5h0m7-4h0m57 5h0m57 3h0m95-11h0m1 11h0m4-1h0m45-1h0m31-4h0m4 4h0m84 4h0m18-6h0m88 1h0m25-5h0m16 9h0m16-11h0m78 12h0m36-5h0m265-7h0m6 8h0m24 2h0m10-6h0m1-3h0m61 10h0m0-2h0m57 0h0m1-4h0m4 1h0m4 2h0m5 3h0m6-6h0m70 1h0m34-5h0m6 11h0m19 0h0m0-8h0m15 3h0m30-1h0m30 4h0m0-1h0m9 2h0m8-11h0m17 13h0m18-9h0m33 0h0m43 7h0m18-2h0m0-5h0m10-5h0m6 10h0m1 3h0m9-5h0m3 0h0m9-2h0m4 6h0m10-10h0m12 3h0m17-4h0m0 10h0m1 0h0m0-6h0m22 5h0m3-2h0m2 5h0m1-9h0m0-3h0m1 0h0m21 4h0m4 2h0m16-5h0m39 8h0m3-7h0m2 2h0m3 5h0m23 2h0m9-9h0m111 10h0m69-7h0m32 3h0m14-8h0m121 6h0m12-3h0m57 3h0m17-4h0m10 5h0m19-4h0m44 7h0m45-7h0m15 7h0m17 1h0m11-8h0m9 4h0m35 5h0m1-12h0m6 12h0m120-5h0m4 0h0m1-1h0m4-6h0m4 4h0m13-2h0m2 8h0m4-8h0m88 5h0m61-2h0m53 7h0m30-7h0m5 8h0m12-6h0m7-3h0m98 4h0m30 0h0m61-2h0m56 3h0m70 0h0m30-10h0m2 4h0m84-1h0m4 10h0m1-9h0m4 5h0m22-2h0m25-1h0m2 1h0m45 2h0m168 0h0m5-9h0m4 11h0m1 0h0m2 0h0m15-1h0m7-2h0m86-5h0m37 9h0m4-6h0m3 2h0m25-8h0m81 8h0m21 5h0m14-12h0m3-1h0m4 13h0m1-5h0m1-1h0m4 0h0m42 1h0m3 2h0m5-5h0m44 1h0m32-3h0m49-1h0m105-2h0m50 8h0"/><path stroke="#972323" stroke-width="4.4" d="m322 1523h0m64 0h0m23 0h0m1009 6h0m646-6h0m1438 1h0m252-3h0m938 8h0"/><path stroke="#8989ba" stroke-width="4.4" d="m254 1021h0m16-8h0m3 2h0m11 3h0m0 2h0m4 3h0m22-1h0m32-4h0m35-3h0m7 6h0m89 2h0m6 2h0m9-8h0m24 9h0m63-10h0m28 5h0m15-2h0m3-5h0m17 0h0m35 1h0m9 10h0m16-7h0m3 1h0m38-2h0m6 4h0m14-4h0m44-4h0m12 2h0m10 6h0m54-2h0m31 5h0m2-7h0m12 5h0m59-1h0m28 4h0m40-5h0m4 3h0m25-3h0m77 2h0m2-7h0m7 6h0m21-6h0m11 6h0m21 1h0m107-4h0m13 1h0m54-2h0m22 9h0m12-7h0m31-4h0m54 1h0m73 8h0m28-1h0m33-5h0m27 3h0m51-2h0m21 2h0m11 1h0m7 2h0m7-3h0m27 2h0m5 0h0m4 3h0m39-10h0m16 7h0m3-3h0m30-7h0m30 0h0m17 6h0m38 6h0m12-2h0m5-2h0m3-7h0m2 7h0m3-2h0m13-2h0m13 0h0m1 7h0m3 1h0m29-1h0m23-11h0m21 0h0m29 9h0m0-7h0m7 5h0m10 3h0m0 0h0m6-6h0m25 3h0m7 5h0m19-9h0m1 8h0m1-11h0m0 1h0m1 5h0m0-2h0m1 9h0m0-9h0m24-2h0m0 11h0m2 0h0m0-7h0m3 5h0m4 2h0m4-6h0m4 3h0m10-9h0m1 4h0m3 5h0m8-9h0m7 6h0m4-7h0m0 2h0m2 1h0m28 7h0m10-2h0m4 2h0m8-9h0m13 3h0m1 8h0m1-6h0m1 0h0m0-4h0m0-1h0m0 8h0m3-4h0m0 0h0m1-3h0m7 11h0m8-5h0m9-2h0m8 1h0m69-7h0m39 3h0m0 0h0m25 8h0m2 0h0m9 0h0m25 2h0m34-4h0m0 1h0m13 2h0m10-8h0m82-2h0m22 6h0m48 2h0m21 1h0m6 1h0m33-4h0m27-2h0m78 3h0m1-3h0m15 4h0m0-7h0m19 3h0m17 7h0m43-13h0m9 1h0m6 8h0m37 1h0m2-4h0m34-5h0m2 12h0m9-1h0m0-2h0m11-5h0m6 4h0m7 4h0m5-9h0m0 5h0m1-5h0m11-2h0m14 0h0m5 7h0m20-9h0m83 0h0m4 9h0m4-3h0m39 3h0m25-4h0m16 8h0m38-11h0m69-1h0m11 5h0m17 6h0m1-5h0m2 4h0m1-9h0m65 1h0m14 9h0m1-10h0m5 3h0m36 0h0m11 6h0m34-6h0m129-3h0m19 5h0m16 4h0m10-4h0m38-5h0m1 7h0m12-1h0m22 3h0m13-2h0m19 0h0m40-9h0m4 9h0m71-8h0m4 1h0m33 2h0m6 3h0m20 4h0m3-10h0m1 1h0m4 0h0m3 1h0m1 1h0m5 4h0m27 4h0m49-1h0m1 1h0m9-6h0m36 5h0m43 0h0m77-8h0m4 1h0m16 5h0m3-8h0m0 11h0m2-10h0m28 1h0m16 8h0m1-5h0m14-2h0m43 3h0m115-1h0m37 1h0m69-1h0m40 2h0m93 3h0"/><path stroke="#a75353" stroke-width="4.4" d="m267 1425h0m221 6h0m155 3h0m204-10h0m2 11h0m415-1h0m216-6h0m149 8h0m8-4h0m902 0h0m242 4h0m759-2h0m424-3h0m8 4h0m36-5h0m10 6h0m124-4h0m14-4h0m44 6h0m34-8h0m82 1h0m8 1h0m4 5h0m37-3h0m13-4h0m16 2h0m19-4h0m38 0h0m194 10h0m104-7h0m5-3h0m43 8h0"/><path stroke="#a34545" stroke-width="4.4" d="m310 1459h0m8-5h0m2 4h0m214 1h0m348-2h0m143-6h0m1363 9h0m3 3h0m65-9h0m1-1h0m68 6h0m122-4h0m65-3h0m78 1h0m632 3h0m456-4h0m91 6h0m187 3h0m24-1h0m146-9h0m13 0h0m37 10h0m275-2h0m133 1h0m72-4h0"/><path stroke="#aa5959" stroke-width="4.4" d="m395 1421h0m147-8h0m1-2h0m49 1h0m15-1h0m299 10h0m7-4h0m120 0h0m169-5h0m368-2h0m195 12h0m33-11h0m614 2h0m229-2h0m128 0h0m24 6h0m70 0h0m5 0h0m64-5h0m14 0h0m196-1h0m537 6h0m135 3h0m43-1h0m108-6h0m4 1h0m56-4h0m154 3h0m138 9h0m7-5h0m10 1h0m4-3h0m33-5h0m5 5h0m178 3h0m41-4h0m127-3h0m29 4h0m88 1h0"/><path stroke="#4c4ca5" stroke-width="4.4" d="m317 896h0m100 4h0m490-4h0m76 0h0m128-5h0m73 8h0m326 1h0m78 2h0m17-6h0m35 2h0m574 2h0m0-3h0m87-2h0m356 8h0m483 0h0m226-1h0m674-6h0m234 0h0m199-5h0m66-1h0m55 5h0m79 3h0"/><path stroke="#a54c4c" stroke-width="4.4" d="m283 1443h0m314 7h0m699-6h0m383-5h0m312 1h0m396 2h0m798 0h0m148-5h0m266 8h0m302 5h0m41-4h0m19 4h0m41-9h0m29 2h0m19 6h0m71-11h0m25 3h0m14 7h0m176-5h0m44 4h0m139-2h0m106-7h0m7 10h0m33-3h0m5-6h0m21 10h0m16 0h0m10-6h0m113 5h0"/><path stroke="#a03e3e" stroke-width="4.4" d="m270 1464h0m607 4h0m622-1h0m1231-1h0m667 0h0m200 6h0m369-4h0m106 7h0m111 2h0m188-8h0m346 9h0m53-13h0"/><path stroke="#3e3ea0" stroke-width="4.4" d="m315 866h0m641 1h0m203 2h0m147 2h0m681-5h0m52 8h0m201-11h0m75 11h0m43 0h0m4-8h0m24-3h0m592 5h0m403 0h0m116 6h0m875-9h0m532-1h0"/><path stroke="#992a2a" stroke-width="4.4" d="m509 1509h0m1257 2h0m1016-1h0m1268 2h0m324 2h0m379 1h0"/><path stroke="#0f0f90" stroke-width="4.4" d="m476 768h0"/><path stroke="#921616" stroke-width="4.4" d="m577 1558h0m2218-2h0m1838 2h0"/><path stroke="#5353a7" stroke-width="4.4" d="m510 908h0m59-3h0m31 8h0m450 2h0m240-3h0m214-5h0m82 5h0m98 0h0m127 1h0m48-8h0m120-1h0m41 7h0m54 0h0m75 0h0m18-2h0m18 7h0m58-4h0m82-3h0m146 1h0m58-2h0m223 2h0m173 4h0m11-5h0m0 1h0m312 1h0m45-5h0m205 10h0m918-6h0m104 7h0m155-2h0m180 0h0"/><path stroke="#38389e" stroke-width="4.4" d="m581 855h0m1218-5h0m481 12h0m305 0h0m331-6h0m21 2h0m69-4h0m666-3h0"/><path stroke="#951d1d" stroke-width="4.4" d="m514 1535h0m520 0h0m1557 2h0m1743 4h0"/><path stroke="#4545a3" stroke-width="4.4" d="m619 883h0m261-3h0m418-3h0m829 8h0m49 4h0m144-4h0m26 3h0m11-8h0m556-2h0m28-2h0m110 7h0m696-3h0m855-4h0"/><path stroke="#9e3838" stroke-width="4.4" d="m1195 1490h0m1057-2h0m1450 2h0m245-6h0m18 1h0m128-1h0m219-4h0m51 6h0m308 1h0m46-1h0"/><path stroke="#9c3131" stroke-width="4.4" d="m1201 1501h0m1597-5h0m1172 0h0m264 3h0m147 1h0m3-8h0m281 7h0m53 5h0m3-10h0"/><path stroke="#232397" stroke-width="4.4" d="m1245 808h0m47 1h0m914 6h0m1134-4h0m413 10h0"/><path stroke="#2a2a99" stroke-width="4.4" d="m1513 827h0m77 5h0m909-4h0m1500-5h0"/><path stroke="#31319c" stroke-width="4.4" d="m1768 835h0m144 13h0m28-13h0m198 9h0m69-2h0m2-5h0m58 4h0m623 5h0m1235-7h0m294 4h0m56 4h0"/><path stroke="#08088e" stroke-width="4.4" d="m2288 755h0"/><path stroke="#00008b" stroke-width="4.4" d="m1867 314h0m0 325h0m487 80h0m345 3h0m2199-75h0m5-180h0"/><path stroke="#1d1d95" stroke-width="4.4" d="m2354 797h0m676 1h0m1446 4h0"/><path stroke="#161692" stroke-width="4.4" d="m2617 790h0"/><path stroke="#8b0000" stroke-width="4.4" d="m1295 1602h0m418 26h0m1083-6h0m845 3h0m408-1h0m625-21h0m101 196h0"/><path stroke="#8c0202" stroke-width="4.4" d="m3897 1592h0m234 3h0"/><path stroke="#900f0f" stroke-width="4.4" d="m1593 1571h0m2739-5h0m261 6h0m19-1h0m202 2h0m39-12h0"/><path stroke="#8e0808" stroke-width="4.4" d="m2246 1580h0m2126 0h0"/><path stroke="#02028c" stroke-width="4.4" d="m3067 749h0"/><path stroke="#00008b" stroke-width="5" d="m4888 315h0m2 0h0m0 0h0m0 0h0m1 0h0m2 0h0m1 0h0m1 0h0m4 0h0m0 0h0m0 0h0m0 0h0m1 0h0m0 0h0m0 0h0m1 0h0m6 0h0m0 0h0m1 0h0m1 0h0m1 0h0m0 0h0m0 0h0m2 0h0m1 0h0m0 0h0m0 0h0m2 0h0m0 0h0m0 0h0m0 0h0m3 0h0m2 0h0m1 0h0m1 0h0m0 0h0m3 0h0m1 0h0m0 0h0m0 0h0"/><path stroke="#a4a4c3" stroke-width="5.8" d="m265 1078h0m12-1h0m3 3h0m15-1h0m13-9h0m3 8h0m92 2h0m193-5h0m5 3h0m36 0h0m34-2h0m13-8h0m1 3h0m32 3h0m8 2h0m5-4h0m25-1h0m65-1h0m59 5h0m2 4h0m2-5h0m17-4h0m11 1h0m15 0h0m11 2h0m85-2h0m30 6h0m3 3h0m2-2h0m28-4h0m45 7h0m67-8h0m48 4h0m8-2h0m38-7h0m77 6h0m3 3h0m45-9h0m37 3h0m45-2h0m13 1h0m18 3h0m98-5h0m121 5h0m11 5h0m10-1h0m48 0h0m6-5h0m40 1h0m44 5h0m37-6h0m49-3h0m37 2h0m35 4h0m10 3h0m68-2h0m14-7h0m4 6h0m33-1h0m19 7h0m1-13h0m16 4h0m8-2h0m7 1h0m1-1h0m23 6h0m1-5h0m1 3h0m50-4h0m27 5h0m9 3h0m0-7h0m9 6h0m21-6h0m2 3h0m89-5h0m70 2h0m10 8h0m17 1h0m5-10h0m9 10h0m129-10h0m0 4h0m103 4h0m6-3h0m25 5h0m51-9h0m7 9h0m66-12h0m47 0h0m30 9h0m58 0h0m13-8h0m117 8h0m27-4h0m74 5h0m65-3h0m64 4h0m26 2h0m1-11h0m18-3h0m1 3h0m45 7h0m6 1h0m14-7h0m18-3h0m0 5h0m86 0h0m11-5h0m33 5h0m120 7h0m111-11h0m9 10h0m112-5h0m55 4h0m19-7h0m65 3h0m16 5h0m30-4h0m150-5h0m7-2h0m34 1h0m15 7h0m4-5h0m3 9h0m4-9h0m47 7h0m25 1h0"/><path stroke="#ccccd1" stroke-width="5.8" d="m256 1163h0m7-4h0m9 4h0m6-5h0m19-7h0m11-1h0m0 2h0m2 10h0m2-1h0m3-3h0m3 5h0m0-12h0m2 3h0m35 4h0m26-2h0m10 2h0m2-5h0m2-3h0m2 5h0m7 4h0m14-1h0m1-2h0m91 3h0m28-9h0m21 9h0m13 2h0m5-7h0m20 0h0m3-2h0m22 6h0m12-3h0m8 3h0m8-4h0m27 0h0m1 1h0m6-5h0m14 7h0m17 0h0m1 5h0m5-2h0m4-10h0m55 5h0m69 1h0m22-6h0m11 6h0m1-2h0m6-3h0m1 10h0m10-6h0m8 4h0m47 0h0m30 2h0m20-10h0m5 11h0m7-2h0m17-6h0m22-2h0m0 0h0m4 1h0m22 9h0m38-12h0m36 2h0m30 7h0m11 3h0m4-5h0m72-6h0m12 4h0m23 1h0m12 4h0m1-10h0m1 12h0m9-8h0m100 2h0m49 0h0m145-2h0m19 5h0m3-7h0m1 2h0m112 5h0m46-2h0m11 5h0m22-11h0m22 11h0m2-6h0m1 7h0m29-8h0m5-2h0m27-3h0m6 11h0m18-11h0m4 3h0m45 5h0m9-6h0m4 8h0m19 2h0m9-7h0m24-3h0m3 0h0m2 3h0m53-5h0m32 3h0m1 5h0m3-3h0m28 6h0m17-6h0m6 7h0m5-10h0m32 9h0m11 0h0m32-11h0m17 10h0m3 0h0m78-4h0m5 4h0m8 2h0m53-8h0m8-4h0m45 3h0m23 0h0m2 2h0m0 4h0m86 1h0m1-9h0m5 8h0m28-3h0m52-6h0m2 1h0m83 2h0m16 10h0m11-10h0m11 2h0m32-2h0m2-3h0m7 8h0m56-2h0m11-6h0m1 10h0m10-7h0m83 4h0m6 5h0m14-10h0m27 4h0m1-6h0m0 5h0m54-2h0m31 9h0m7-3h0m10 2h0m12-8h0m58-1h0m15-1h0m5 8h0m30-2h0m24-7h0m1 10h0m8-9h0m37 0h0m27-1h0m11 10h0m8 3h0m7-6h0m2 6h0m1-5h0m40 0h0m5 4h0m61-2h0m3-10h0m4 0h0m28 1h0m76 7h0m23-4h0m84-4h0m17 0h0m44 9h0m20-8h0m1 11h0m14-7h0m7 4h0m2-1h0m26 3h0m13-7h0m52 9h0m14-12h0m1 5h0m8-3h0m2 0h0m2 3h0m31-2h0m44 6h0m29-6h0m4 8h0m4-6h0m5-5h0m3 9h0m41-2h0m4-2h0m3 4h0m22-9h0m4 5h0m11 6h0m8-1h0m3-6h0m13 4h0m24-7h0m83 11h0m15-5h0m35-1h0m26-7h0m36 3h0m1 1h0m3-4h0m4 3h0m2 3h0m42 1h0m17 3h0m52-7h0m2 8h0m5-5h0m62 2h0m1-8h0m34 12h0m62-12h0m12 12h0m7-12h0m27 8h0m32 0h0m41-8h0"/><path stroke="#bfbfcc" stroke-width="5.8" d="m250 1128h0m5 6h0m3-1h0m13-11h0m8 7h0m7 6h0m4-1h0m10-12h0m9 13h0m5-3h0m4-4h0m14 3h0m25 3h0m11 2h0m10-13h0m12 10h0m5-3h0m1 5h0m122-10h0m27 9h0m17-1h0m6-11h0m11 0h0m7 4h0m3-2h0m2 11h0m0-5h0m1 4h0m0-2h0m2 0h0m8-2h0m0 6h0m37-4h0m27 1h0m7-3h0m2-2h0m0-1h0m39 7h0m29-1h0m8 1h0m46-4h0m76 0h0m0 4h0m2-11h0m6 9h0m3-8h0m2 3h0m8 4h0m26-8h0m14 3h0m1 4h0m0 1h0m13 4h0m26-1h0m0-9h0m12 1h0m66 4h0m114 5h0m9-8h0m9 1h0m7-1h0m34 0h0m8 3h0m5-1h0m51-5h0m5 5h0m25 3h0m23 2h0m8-3h0m17 4h0m24-9h0m57 5h0m31-6h0m0 0h0m4 10h0m6-8h0m22 5h0m58-2h0m4 3h0m17-3h0m53-7h0m81 4h0m33 5h0m18 3h0m41-10h0m12-1h0m3-2h0m24 8h0m24-4h0m73 0h0m17 3h0m35-2h0m6-4h0m64 7h0m0-3h0m17 3h0m31 4h0m5 1h0m73-10h0m3 0h0m36 9h0m21-5h0m7 3h0m10-6h0m0 6h0m2-8h0m9 2h0m36 0h0m27-1h0m0-1h0m31 6h0m4-1h0m81 4h0m3-10h0m5 3h0m29 4h0m10-4h0m27 1h0m29 3h0m17-2h0m5 1h0m4-3h0m20 4h0m1 1h0m4-7h0m21 9h0m78-2h0m80 3h0m39-6h0m99 4h0m3-3h0m22-4h0m42-1h0m38 0h0m23 1h0m11 0h0m51 7h0m0-8h0m22 1h0m5 3h0m21-5h0m24 7h0m45-2h0m53 5h0m4-1h0m47 3h0m25-5h0m9-3h0m21 0h0m73 8h0m59-12h0m5 12h0m60-10h0m1 10h0m39-8h0m24 4h0m1 3h0m31-5h0m2-1h0m10 7h0m94-1h0m13 1h0m17-9h0m18-2h0m3 7h0m33 0h0m71-5h0m0 6h0m9 1h0m3-1h0m31-2h0m16-1h0m6-4h0m20 9h0m3-7h0m41 9h0m36 0h0m8-13h0m4 7h0m17 2h0m25-7h0m6-1h0m73 8h0m25 3h0m8-7h0m17 8h0m69-9h0m14-3h0m12 4h0m2 7h0m23-2h0m42-8h0m11 6h0m42-5h0m79-3h0m6 4h0m253 4h0"/><path stroke="#b37474" stroke-width="5.8" d="m295 1365h0m62 0h0m221-8h0m346 4h0m579-2h0m189 6h0m196 3h0m360-4h0m39-8h0m256 1h0m96 6h0m127 0h0m34-7h0m452 5h0m261 1h0m523 2h0m43-3h0m88-6h0m161 6h0m5-2h0m50 4h0m0-8h0m256 6h0m6 1h0m102 5h0m12-5h0m57-6h0"/><path stroke="#d3d3d3" stroke-width="5.8" d="m256 1168h0m2 1h0m6 4h0m12 2h0m9-5h0m1 7h0m24-5h0m1 1h0m0-1h0m6-2h0m1 6h0m11-11h0m61 3h0m1 3h0m20-6h0m59 9h0m14-5h0m27 6h0m13-4h0m15-5h0m9 10h0m7-6h0m18 5h0m14-3h0m5-2h0m2 1h0m47 6h0m6-14h0m8 2h0m7-1h0m15 10h0m48-9h0m19 0h0m70 2h0m22 7h0m17 3h0m28-13h0m5 10h0m9-10h0m8-1h0m3 6h0m31-2h0m1-2h0m35-1h0m1 12h0m0-3h0m9-5h0m17 8h0m9-11h0m1 4h0m45 2h0m0 1h0m4-4h0m29-3h0m16 0h0m17-2h0m6 6h0m25 7h0m13-4h0m17-2h0m1 0h0m25-3h0m25 9h0m50 0h0m1-5h0m10-4h0m5 7h0m9-9h0m16 7h0m24-4h0m10 8h0m44-4h0m47-7h0m0 11h0m8 0h0m11-3h0m5-5h0m7 1h0m100-3h0m1 8h0m3-1h0m1 1h0m58 0h0m2 2h0m3-6h0m36-2h0m14 1h0m12-5h0m55 8h0m7-1h0m2 5h0m42-4h0m39-8h0m2 6h0m24 6h0m18-13h0m30 6h0m9 7h0m38-5h0m17-3h0m6 0h0m2-4h0m22 2h0m14 3h0m36-3h0m36 8h0m55-1h0m47-7h0m41 5h0m64-5h0m15 5h0m45-7h0m10 3h0m13 6h0m8-3h0m5-5h0m1 5h0m42-2h0m13 7h0m2-3h0m11-1h0m28 4h0m2 1h0m15-2h0m19 0h0m13-9h0m6 1h0m1 0h0m8 10h0m22-4h0m28-8h0m17 0h0m71 3h0m7 4h0m55-5h0m22 3h0m5 0h0m1 5h0m16-9h0m45 2h0m27 5h0m49-7h0m1 0h0m4 3h0m15-5h0m13 8h0m21-4h0m26 0h0m7-2h0m25 2h0m20 6h0m5-7h0m2-1h0m5 4h0m36 1h0m38-3h0m1 7h0m5-8h0m21 0h0m8 5h0m28-3h0m79 4h0m42 0h0m34-4h0m8 9h0m5-6h0m14 0h0m7 1h0m2-5h0m13 0h0m49-3h0m100-1h0m29 4h0m42 4h0m15 5h0m33-11h0m16 1h0m13 0h0m21-2h0m9 7h0m13-5h0m62-2h0m27 0h0m3 8h0m6-6h0m32 7h0m13-8h0m44 9h0m1-7h0m5 0h0m6-4h0m37 9h0m5-4h0m5 3h0m77 1h0m24-6h0m6 0h0m5 0h0m1 5h0m46 4h0m4-9h0m33 10h0m18-1h0m83 1h0m0-8h0m70-3h0m4 6h0m4 2h0m91-9h0m13 12h0m43-7h0m1 6h0m14-2h0m4 2h0m46-10h0m7 10h0m30-9h0m9-2h0m68 6h0m1 3h0m40-3h0m1 2h0m4-3h0m4 3h0"/><path stroke="#cab8b8" stroke-width="5.8" d="m262 1223h0m3-3h0m7 9h0m38 1h0m9 1h0m1-4h0m15-4h0m62 5h0m5-10h0m72 6h0m18 7h0m94-5h0m23-1h0m66 5h0m1-12h0m10 2h0m61 4h0m50 6h0m31-8h0m44 6h0m5 1h0m8-7h0m4 8h0m21-2h0m32-5h0m5 1h0m6 2h0m10-5h0m17 2h0m16-5h0m12 12h0m6-1h0m33 2h0m11-7h0m9-4h0m81 10h0m20-8h0m1 7h0m4-1h0m9-1h0m1-4h0m14 8h0m6-12h0m85 7h0m37-6h0m181 0h0m2 11h0m59-4h0m9-7h0m2 7h0m2 0h0m9-9h0m107 10h0m17 0h0m35 0h0m135-1h0m6 1h0m18 0h0m110-2h0m9 1h0m37-6h0m27 3h0m2 2h0m118 2h0m40-10h0m36 12h0m90-10h0m11 10h0m1-6h0m6-3h0m90 5h0m39-3h0m36 8h0m32-10h0m27 0h0m5 3h0m25 3h0m77-5h0m47 8h0m1-4h0m5-1h0m18-2h0m3 4h0m1-6h0m0 7h0m2-7h0m1 9h0m13-11h0m110 1h0m11 5h0m1-3h0m9 0h0m22-3h0m112 8h0m1-6h0m42 10h0m8-13h0m4 0h0m107 7h0m49 4h0m29-7h0m9 7h0m27-2h0m37-5h0m12 5h0m88-2h0m156-4h0m25 1h0m37 9h0m32-11h0m2-1h0m1 4h0m62-2h0m8-1h0m3 11h0m23-3h0m4-2h0m2-2h0m19 4h0m24-7h0m17 7h0m24 0h0m31-3h0m13-5h0m26 2h0m3-1h0m5 7h0m8-4h0m1 5h0m63-3h0m2-6h0m3-1h0m2 1h0m31 3h0m2 7h0m1-12h0m0 9h0m20-1h0m4 0h0m0-3h0m1 3h0m22-1h0m5-4h0m4 0h0m1 3h0m6 0h0m90-5h0m39 8h0m61-7h0m100 2h0m42-3h0m9 0h0m38 11h0m35-8h0m3 6h0m1-2h0m73-8h0m33 7h0m28 1h0m6-3h0m9-5h0m53 3h0m44 8h0m31-10h0"/><path stroke="#cec5c5" stroke-width="5.8" d="m248 1200h0m20-3h0m46-3h0m5 5h0m3 2h0m6-10h0m17 5h0m20 3h0m1 1h0m6-2h0m22 2h0m14 4h0m58-1h0m8-5h0m41 1h0m15-8h0m39 1h0m8 3h0m94 9h0m3 0h0m1-12h0m7 8h0m16-6h0m20 7h0m8 1h0m32 1h0m23-12h0m5 0h0m20 13h0m61-13h0m41 2h0m1 2h0m10 0h0m3-2h0m19 4h0m7-6h0m33 13h0m21-1h0m1-12h0m31 9h0m20-5h0m5-3h0m8 7h0m17-4h0m18 1h0m23-1h0m4 7h0m47-9h0m8 6h0m13-5h0m29 6h0m43-1h0m34-4h0m3-2h0m5 4h0m57-6h0m23 13h0m10-7h0m4-4h0m27 3h0m41-1h0m69 8h0m6-4h0m0 3h0m29-8h0m10 4h0m48-4h0m11 4h0m112 0h0m36 6h0m7-8h0m52 7h0m28-12h0m2 4h0m33 6h0m8-1h0m8-7h0m2 1h0m3-2h0m58 12h0m1-1h0m36-3h0m1-9h0m30 0h0m18 10h0m8 3h0m51-1h0m35-10h0m3-1h0m31 1h0m42 2h0m22-3h0m23 12h0m18-7h0m23 3h0m1-6h0m19-3h0m24 1h0m6-1h0m2 2h0m23 6h0m0-1h0m21-5h0m29 9h0m47-7h0m17 8h0m32-1h0m7-5h0m38 0h0m7-2h0m9 8h0m1-5h0m3 3h0m8 3h0m12-11h0m0 8h0m11 0h0m46-10h0m1 5h0m1-2h0m11 6h0m3-3h0m52 7h0m4-12h0m28 8h0m1-9h0m5 6h0m12 7h0m2 0h0m2-12h0m4 5h0m3 2h0m36 5h0m35-5h0m1-5h0m20-3h0m17 4h0m4 1h0m2 0h0m3 5h0m1-8h0m4-2h0m6 12h0m6-3h0m9-4h0m20 5h0m32-10h0m19 3h0m21 9h0m52-7h0m1-5h0m10 1h0m32 9h0m9-4h0m0 0h0m1 2h0m37-5h0m12 7h0m16-3h0m4-4h0m5 8h0m86-4h0m2 5h0m39-6h0m19 2h0m21 5h0m11-5h0m57 5h0m24-10h0m28-1h0m8-1h0m1 10h0m27 2h0m31-8h0m0 2h0m3 2h0m3-3h0m33 1h0m8-2h0m6-4h0m18 5h0m67-3h0m4 6h0m6-9h0m12 2h0m2 4h0m1-3h0m1 1h0m48 4h0m8-4h0m0 3h0m31 5h0m24-8h0m13-3h0m61 0h0m13 2h0m4-3h0m0 5h0m0-5h0m1 9h0m2-1h0m33-2h0m29-3h0m11 2h0m20 7h0m26-9h0m32 2h0m2-1h0m1-2h0m6 8h0m6-6h0m11 5h0m0-8h0m0 6h0m7-3h0m2 4h0m19-2h0m11 6h0m3-10h0m0 4h0m17-5h0m69 2h0m30 7h0m13 1h0m14-3h0m45-8h0m2 0h0m2 5h0m1-3h0m1-2h0m38 4h0m54 9h0m21-5h0m30 2h0m5-4h0m1-3h0m5-2h0m5 7h0m68 5h0m11-5h0m107-7h0m26 6h0m20-2h0m58-3h0m10 11h0m17-13h0"/><path stroke="#b78282" stroke-width="5.8" d="m279 1337h0m119 1h0m5-9h0m103 4h0m95 3h0m137-5h0m118 7h0m31-3h0m16-3h0m14-4h0m135 4h0m1037-2h0m300 8h0m313-9h0m240 9h0m215-4h0m2 1h0m82-6h0m51 6h0m98 1h0m506 1h0m62 2h0m96-5h0m35 6h0m2-9h0m28 9h0m30-5h0m167 2h0m10-1h0m38 4h0m3-3h0m24-2h0m218 2h0m9-8h0m182 10h0"/><path stroke="#d1cccc" stroke-width="5.8" d="m249 1190h0m19-9h0m7 9h0m11-2h0m8-9h0m12-1h0m1 2h0m3 4h0m3-7h0m7 10h0m3-4h0m0-4h0m1 7h0m2-6h0m1-1h0m2 5h0m59 2h0m2 2h0m19-3h0m16 5h0m46-8h0m98 3h0m114-1h0m48 4h0m8-9h0m6 11h0m36-11h0m13 9h0m6-6h0m11 5h0m1-2h0m4-1h0m46-3h0m43-4h0m6 8h0m0 3h0m0-7h0m3 9h0m2-9h0m21-3h0m3 10h0m42-4h0m29-3h0m10 4h0m11 1h0m1-7h0m0-1h0m18 6h0m1-4h0m0 3h0m6 1h0m1 4h0m39-10h0m60 3h0m15 0h0m1 8h0m21-10h0m0 5h0m1 3h0m0 2h0m8-1h0m23-5h0m11 6h0m0-8h0m35 6h0m33 1h0m25-2h0m22-3h0m59 5h0m0-8h0m13 4h0m4 6h0m26-11h0m6 3h0m18-2h0m5 5h0m1 2h0m21-7h0m18-1h0m2 5h0m6 1h0m8-3h0m2 1h0m21-2h0m18 2h0m3 3h0m1 2h0m2-4h0m7-1h0m6-3h0m29 8h0m16 2h0m125-11h0m45 8h0m82-9h0m5 10h0m9 0h0m60-4h0m21 5h0m19-8h0m18 7h0m32-4h0m4 3h0m1-6h0m8-1h0m46 0h0m8 3h0m33-6h0m52 3h0m31-1h0m47 3h0m12 2h0m23 6h0m49-6h0m6-3h0m8 6h0m20-6h0m57-3h0m40 6h0m13-6h0m9 3h0m13 8h0m24-3h0m58 3h0m6 0h0m77-12h0m59 5h0m26 0h0m3 7h0m3-7h0m5 7h0m53-2h0m9-5h0m24 2h0m51-7h0m93 8h0m1 0h0m8-6h0m9 6h0m27-6h0m17 3h0m24 1h0m7-5h0m0 4h0m2 6h0m3 2h0m4-5h0m0 0h0m18 4h0m17-1h0m0-6h0m47 6h0m3-10h0m25 9h0m3-2h0m57 3h0m23-1h0m35-3h0m0-3h0m16 1h0m5 1h0m27-4h0m62 6h0m0 4h0m8-9h0m15 10h0m52-7h0m96 4h0m21 1h0m13-1h0m23-1h0m6-3h0m1 4h0m15 2h0m21-10h0m1 6h0m69-7h0m36 1h0m39 0h0m9 11h0m20-12h0m30 4h0m12-1h0m3 5h0m0 0h0m5 2h0m6 1h0m6 0h0m24 1h0m1-7h0m2 4h0m10-5h0m58 2h0m75 4h0m3-4h0m1 4h0m0-1h0m46 0h0m22-1h0m84-6h0m30-2h0m3 5h0m28 3h0m2-1h0m6-5h0m6 9h0m44-8h0m28 2h0m5 4h0m14-9h0m87 4h0m38 2h0m49-4h0m17 1h0m4 7h0m51 2h0m35-5h0m6 3h0"/><path stroke="#c5c5ce" stroke-width="5.8" d="m255 1142h0m6-6h0m1 11h0m8-11h0m1 3h0m4 7h0m5-5h0m1 6h0m2 0h0m3 1h0m26-11h0m2 12h0m8-6h0m67 0h0m9 5h0m79-3h0m98-5h0m11 2h0m4 6h0m11-1h0m3-8h0m1 0h0m6 10h0m11-1h0m40-6h0m12 6h0m1-10h0m1 11h0m1-13h0m109 11h0m17-1h0m24-7h0m29-1h0m13 2h0m9 8h0m21-4h0m15-4h0m17 0h0m14-1h0m26-1h0m2 4h0m49 3h0m1 4h0m30-6h0m2 4h0m2-4h0m20-1h0m3 7h0m2-4h0m15-3h0m2 3h0m8-6h0m10 2h0m45 2h0m32-2h0m1 0h0m19 0h0m21 6h0m2-3h0m10-2h0m37 5h0m15 1h0m0-7h0m23 1h0m7 5h0m0 2h0m5-10h0m1 7h0m65-3h0m18-2h0m18 8h0m54 0h0m112-12h0m8 0h0m6 1h0m7 0h0m20 4h0m13 7h0m1-4h0m40 3h0m16 1h0m16-3h0m5-3h0m26 2h0m7 0h0m6 4h0m12-13h0m6 12h0m65-1h0m0 0h0m1-6h0m5 8h0m9-7h0m15-1h0m1 1h0m12 2h0m3 3h0m1-4h0m25-7h0m2 10h0m10-1h0m9-7h0m21 6h0m21-5h0m3 8h0m11 1h0m3 1h0m25-12h0m5 5h0m1-5h0m21 6h0m1 3h0m32-4h0m27-6h0m64 8h0m6 4h0m18-4h0m0-1h0m2-6h0m40 8h0m5-8h0m26 2h0m1-3h0m6 0h0m8 2h0m54 7h0m25-7h0m8 6h0m5-7h0m1 7h0m1-5h0m17 9h0m74-4h0m60-3h0m0 7h0m32-1h0m31-7h0m9 3h0m12-3h0m84 5h0m9 4h0m3-7h0m0 1h0m45-3h0m26 7h0m7 1h0m2-6h0m2 7h0m2-7h0m54-1h0m74-2h0m3-1h0m0 10h0m7-12h0m4 2h0m10 3h0m2 2h0m37-4h0m7 3h0m5-4h0m45 10h0m22-7h0m1 4h0m1-9h0m1 7h0m6-7h0m3 0h0m42 12h0m3-12h0m21 12h0m16-4h0m24 4h0m26-1h0m24 1h0m68-6h0m24 4h0m26-9h0m2 2h0m3 6h0m154 3h0m121-7h0m4 8h0m19-6h0m43 4h0m35-11h0m27 4h0m65-1h0m7 8h0m12-1h0m4 1h0m21-5h0m11 3h0m67 1h0m5 2h0m48-6h0m0 6h0m8-4h0m19 0h0m25 3h0m11-7h0m1 4h0m1-2h0m12 7h0m35-11h0m22 2h0m8 8h0m4-2h0m14-6h0m29 4h0m32 1h0m6-6h0m37 2h0m52 2h0m3-3h0m33 9h0m12-2h0m36-11h0m4 12h0m39-10h0m14 9h0m2-5h0m4-5h0m3 4h0m1 8h0m49-1h0m7-11h0m6 6h0m1 0h0m1 6h0m64-2h0m6-11h0m33 3h0m81-1h0m11 8h0m30-1h0"/><path stroke="#be9696" stroke-width="5.8" d="m259 1288h0m2 4h0m126-1h0m8-2h0m19 7h0m146-7h0m13 6h0m16 5h0m90-11h0m3 6h0m27-6h0m89-1h0m30 1h0m120 2h0m107 0h0m110 0h0m30-1h0m72-2h0m68 2h0m71 5h0m91 3h0m25 0h0m59-11h0m66 2h0m82-2h0m169 1h0m39 5h0m63 0h0m18-5h0m42 3h0m6 6h0m143-10h0m402 1h0m7 6h0m173-5h0m6 8h0m130-10h0m6 12h0m126-1h0m59-1h0m69-9h0m2 5h0m294-4h0m33 9h0m17 1h0m129-5h0m88 0h0m7-5h0m56 1h0m146 6h0m4-6h0m3 10h0m13-9h0m25 7h0m17-5h0m31-3h0m6 5h0m90-7h0m8 9h0m27-2h0m115-6h0m26 11h0m41-14h0m3 7h0m1-3h0m5 2h0m7 3h0m7-4h0m35-2h0m27 9h0m74-6h0m70-1h0m23 1h0m23-6h0m5 7h0m22-1h0m8-3h0m20 11h0m19-5h0m46-8h0m81 8h0m18-1h0"/><path stroke="#8282b7" stroke-width="5.8" d="m387 1006h0m8-6h0m284 0h0m293 10h0m82 1h0m584-3h0m176 1h0m400-2h0m21 3h0m10 2h0m5-8h0m135-2h0m145-1h0m1 9h0m82 1h0m3-9h0m157 6h0m5-5h0m53 8h0m25 1h0m165-3h0m354-6h0m137-2h0m909 10h0"/><path stroke="#bc8f8f" stroke-width="5.8" d="m313 1309h0m268-7h0m495 7h0m116-5h0m3 5h0m290 4h0m333-10h0m192 6h0m420 2h0m51-2h0m72 3h0m10-8h0m235 3h0m53 5h0m13-5h0m173 6h0m22-11h0m82 1h0m34 4h0m27-5h0m133-1h0m237 0h0m160 11h0m13-5h0m130 2h0m98-2h0m4 6h0m25-8h0m3-4h0m2 3h0m33 3h0m9 4h0m32-11h0m1 5h0m66 3h0m38-2h0m9 2h0m44-3h0m47 5h0m38-9h0m2 6h0m4-1h0m3 3h0m5-7h0m26-1h0m4 11h0m9-4h0m6-1h0m7-3h0m121 3h0m95-3h0m1 6h0m35-8h0m3-1h0m62 6h0m110 6h0"/><path stroke="#c19d9d" stroke-width="5.8" d="m270 1286h0m9-10h0m2 9h0m29-1h0m2-9h0m6-1h0m16 2h0m15 1h0m35 3h0m7 4h0m18 0h0m78-3h0m20-6h0m52 7h0m38-3h0m157 2h0m1-3h0m152-5h0m114 6h0m15-3h0m114 7h0m160-10h0m452 5h0m42 4h0m91-2h0m124-4h0m220 5h0m216-3h0m3 4h0m18-6h0m140 10h0m32-7h0m66 4h0m3-6h0m6 8h0m43 1h0m0-7h0m4-3h0m21 5h0m10-3h0m20-5h0m4 1h0m42 3h0m57 5h0m19-6h0m22 5h0m7-8h0m33 8h0m0-7h0m23 1h0m26 7h0m138-3h0m48-5h0m24 9h0m65-2h0m36 5h0m18-13h0m9 9h0m8-6h0m13 5h0m165-8h0m70 10h0m180-1h0m17-6h0m1 3h0m3-6h0m51 4h0m105 5h0m17-4h0m25 1h0m3 7h0m4-5h0m10-4h0m102 4h0m15-5h0m19-1h0m33 6h0m73 0h0m14-8h0m4 5h0m6 1h0m40 5h0m2-8h0m5-2h0m4 4h0m92 1h0m123 5h0m3 1h0m20 1h0m25-12h0m1 5h0m108 5h0m31-5h0m58 0h0"/><path stroke="#b8b8ca" stroke-width="5.8" d="m258 1111h0m6 9h0m1-3h0m36-3h0m17 4h0m8-8h0m11 8h0m26-1h0m7-6h0m19 0h0m6 10h0m9 1h0m7-5h0m104 1h0m3 0h0m83-2h0m13 4h0m2-11h0m2 2h0m24 3h0m0 1h0m32-3h0m72 9h0m49 0h0m13-3h0m71 1h0m32 1h0m1 1h0m14-8h0m46 3h0m34 2h0m49 3h0m4-9h0m0 6h0m52-4h0m61 4h0m12-4h0m48 2h0m37-1h0m41-6h0m42 13h0m15-13h0m29 1h0m40 0h0m13 1h0m29 9h0m6-3h0m71 5h0m9-2h0m24-10h0m23 10h0m16-8h0m15 2h0m68 7h0m3-3h0m53 4h0m1-8h0m42-4h0m25 0h0m41 10h0m4-4h0m1-5h0m17 8h0m5 1h0m4-4h0m0 6h0m5-10h0m17 5h0m4-5h0m21 0h0m52 5h0m94-4h0m23 3h0m3 2h0m12-2h0m15 5h0m15-5h0m8-3h0m31 3h0m5 4h0m1-5h0m2-1h0m23-4h0m8 1h0m11 6h0m1 4h0m49 0h0m31 0h0m3-1h0m22 0h0m13-3h0m28 5h0m67-7h0m4 5h0m3-8h0m47 8h0m84 1h0m5-3h0m112-6h0m52 8h0m13-8h0m13 8h0m3-10h0m10 12h0m7-1h0m29 0h0m3-10h0m9 3h0m44 4h0m15 0h0m1-9h0m1 8h0m5-8h0m8 8h0m6 0h0m45 4h0m13-9h0m47 9h0m16-10h0m8 11h0m10-9h0m4-2h0m38 3h0m3-5h0m25 5h0m4 7h0m10-10h0m64 9h0m27-8h0m2 7h0m11-6h0m26 7h0m6-3h0m6 5h0m77-5h0m1-7h0m79 1h0m179 1h0m1-3h0m20 6h0m12-1h0m2-1h0m17-1h0m3 4h0m48 2h0m1-7h0m51 6h0m36-2h0m1 3h0m9-4h0m3-1h0m1 9h0m6-12h0m47 12h0m44-9h0m9 8h0m12-6h0m34-3h0m17 7h0m96-2h0m32-1h0m2-5h0m0 2h0m2-3h0m142 4h0m37-2h0m33-2h0m5 7h0m2 2h0m3 0h0m55 0h0m45-10h0m19 1h0m69 8h0m51 1h0m53-5h0m148 4h0"/><path stroke="#b1b1c7" stroke-width="5.8" d="m256 1105h0m31-4h0m32-3h0m17 5h0m50 4h0m3-2h0m3-6h0m175 6h0m43 1h0m72-3h0m70-5h0m67 9h0m17-5h0m25 3h0m16-9h0m9-1h0m9 3h0m6-2h0m53 3h0m7 3h0m15 1h0m2-6h0m36 6h0m9-8h0m3 8h0m0-3h0m1 6h0m13-7h0m10 1h0m5 1h0m54 3h0m8 3h0m47-10h0m11 5h0m1 2h0m11-4h0m8 1h0m2 7h0m82-9h0m6-1h0m24 3h0m1 3h0m3 4h0m8-4h0m21-9h0m3 5h0m2 7h0m57-9h0m2 8h0m26-11h0m48 6h0m3 6h0m17 1h0m3-12h0m80 9h0m5 1h0m20-9h0m110 4h0m37 5h0m2-11h0m42 10h0m85-6h0m8 8h0m10-9h0m89 6h0m34-4h0m14 3h0m2 3h0m26 0h0m8-3h0m9 2h0m157-9h0m0 6h0m27-2h0m16 6h0m26 0h0m39-9h0m8 1h0m2 3h0m27 4h0m1-2h0m20-2h0m53 0h0m75 2h0m93-7h0m75 1h0m9 6h0m19-1h0m7-1h0m31 3h0m7 2h0m16 2h0m11-5h0m15 4h0m7-11h0m2 0h0m30 6h0m32-7h0m36 6h0m36 2h0m94 3h0m2 0h0m24-6h0m7 5h0m42-7h0m1 7h0m26 1h0m13 2h0m18-11h0m50 0h0m3-2h0m2 7h0m44-5h0m23 11h0m15-7h0m5 3h0m14-7h0m56 0h0m2 0h0m0 10h0m4-1h0m2-3h0m90-5h0m9 3h0m36 3h0m44-2h0m10 4h0m47-1h0m26-4h0m38 1h0m21 6h0m20-5h0m6 5h0m1-13h0m55 0h0m37 2h0m4 6h0m12-3h0m28 4h0m72 4h0m3-5h0m6-3h0m32 3h0m10 1h0m112-6h0m21 6h0m19-7h0m3-1h0m70 4h0m24 2h0m11-2h0m38 3h0m67 4h0m22-12h0m20 3h0m1 0h0m1 8h0m7-6h0m42 3h0m6 5h0m2-1h0m63-7h0m74 4h0"/><path stroke="#9d9dc1" stroke-width="5.8" d="m250 1061h0m4 3h0m13 3h0m17-4h0m25-2h0m1 1h0m27 1h0m49 3h0m91-3h0m120-1h0m147 5h0m34-6h0m26-2h0m1 8h0m71-10h0m61 5h0m24-4h0m20 5h0m68-6h0m259 7h0m19 1h0m76-10h0m12 0h0m99 1h0m73 0h0m12 1h0m36 8h0m11-8h0m0 2h0m53 0h0m54 0h0m10 5h0m49-9h0m13 11h0m4-7h0m26 8h0m88-1h0m181-4h0m13-3h0m50-4h0m19 12h0m1-9h0m30-3h0m3 4h0m1-1h0m28-3h0m20 3h0m8 7h0m28-10h0m24-1h0m127 6h0m5 2h0m314 0h0m6-5h0m5 0h0m46 1h0m9 7h0m0-10h0m63-1h0m105 10h0m50 0h0m40-4h0m9 2h0m20-1h0m6 4h0m62-6h0m41-1h0m42 9h0m39-13h0m55 9h0m8-8h0m8 1h0m68 9h0m54-1h0m3-2h0m141 4h0m8 0h0m58-7h0m90 2h0m6-7h0m13 9h0m39-2h0m5-1h0m112-2h0m66 2h0m199-1h0m147 6h0m7-6h0m2-5h0m0 7h0m204-3h0m248 2h0"/><path stroke="#9696be" stroke-width="5.8" d="m270 1051h0m47 0h0m35-3h0m35-4h0m207 5h0m1-8h0m30 6h0m5-5h0m49 1h0m65 1h0m64 6h0m25-1h0m46-8h0m45 3h0m19 1h0m29 6h0m145-5h0m11 1h0m76-2h0m6 2h0m159 6h0m129-2h0m30 2h0m13-1h0m28-1h0m11 0h0m60-10h0m8 6h0m8-1h0m188 1h0m15-5h0m53 9h0m6-9h0m77 8h0m105-8h0m13 1h0m12 3h0m117 3h0m2-3h0m4-1h0m54-2h0m27 6h0m57 1h0m65 3h0m12-2h0m12-1h0m133-5h0m153-2h0m36 3h0m2 0h0m132 3h0m11-6h0m7 1h0m40-2h0m15 8h0m107-9h0m157-1h0m150 11h0m260-4h0m225 1h0m104 3h0m294-10h0m171 9h0m1-4h0m5-1h0m41-2h0m24 0h0m56 10h0m46-12h0m167 1h0"/><path stroke="#b57b7b" stroke-width="5.8" d="m418 1355h0m433-13h0m124 4h0m44 8h0m197-1h0m372 1h0m229-12h0m431 6h0m37 4h0m30 0h0m74-8h0m316 6h0m188-7h0m441 1h0m754 0h0m227 1h0m16-4h0m41 9h0m2-1h0m157-3h0m98 2h0m46 2h0m74-4h0m34 5h0m23-3h0"/><path stroke="#ccbfbf" stroke-width="5.8" d="m273 1206h0m13 4h0m26 7h0m5-9h0m0 9h0m1-12h0m1 0h0m72 12h0m4-1h0m11-1h0m63-5h0m1-5h0m49 0h0m59 8h0m12 3h0m14-4h0m39-8h0m39 13h0m70-13h0m92 3h0m41 8h0m1-5h0m1-1h0m68 9h0m0-10h0m4-2h0m13 3h0m15 2h0m36 6h0m5 1h0m0-6h0m11-3h0m1 1h0m10-4h0m2 0h0m7 1h0m17 11h0m3-10h0m32-4h0m51 1h0m7 3h0m27 9h0m28-4h0m8 3h0m73-4h0m21 5h0m11-11h0m80 11h0m59-6h0m114 3h0m1-1h0m48 2h0m5-1h0m2-8h0m1 1h0m48-2h0m56 12h0m18-1h0m56-1h0m4-3h0m31 0h0m20-6h0m5 3h0m9 2h0m17 1h0m2-3h0m11 5h0m75 0h0m6-7h0m22 11h0m40-13h0m25 0h0m16 12h0m3-8h0m0-4h0m7 2h0m5 0h0m68-1h0m43 1h0m8 7h0m12-8h0m24 1h0m9 5h0m53 4h0m39-8h0m16 6h0m62-3h0m46 1h0m19 3h0m22-9h0m3 0h0m0 4h0m67 3h0m7 2h0m1-1h0m1-5h0m15 4h0m79-2h0m1 3h0m1 0h0m4 1h0m7 1h0m35-1h0m36-10h0m1 6h0m5 2h0m9-5h0m42 2h0m27 4h0m50-10h0m2 1h0m0 6h0m99-4h0m82 7h0m11 3h0m114-1h0m65-1h0m27-1h0m15-5h0m11 8h0m30-12h0m1 12h0m10-9h0m3 0h0m18 3h0m135 2h0m8-7h0m80 7h0m17-1h0m3-1h0m24-2h0m53 1h0m15 8h0m1-9h0m89 1h0m4 1h0m89 1h0m3 3h0m28-8h0m0-2h0m31 7h0m2 6h0m11-11h0m4 10h0m3-11h0m0 6h0m6 3h0m10 0h0m12 3h0m12-5h0m14-2h0m12-2h0m1 7h0m3-11h0m19 9h0m10-2h0m1-4h0m23-1h0m2-2h0m4 0h0m13 8h0m4 0h0m30-9h0m23 13h0m24-2h0m16-3h0m27-6h0m14 9h0m8 2h0m0 0h0m7-10h0m12 7h0m40 3h0m5-12h0m1 6h0m1 3h0m32-1h0m65-8h0m0 8h0m2 5h0m1-9h0m4-2h0m31 9h0m13-5h0m23 4h0m1-5h0m45-2h0m6 3h0m7-6h0m10 4h0m28-5h0m20 13h0m86-1h0m1-3h0m32-7h0m55-1h0m5 2h0m2 6h0"/><path stroke="#aaaac5" stroke-width="5.8" d="m270 1091h0m39 3h0m1-3h0m85-6h0m17 5h0m80-1h0m18 5h0m85-3h0m8 2h0m71-10h0m0 6h0m10 0h0m20 1h0m58 3h0m88-10h0m27 10h0m18-11h0m6 7h0m54-3h0m1 8h0m173-10h0m69 3h0m35 1h0m22-3h0m41 7h0m28-7h0m29-4h0m50 10h0m58 1h0m105-11h0m25 12h0m51 0h0m68-3h0m81 0h0m53-3h0m37-3h0m15-1h0m17 3h0m3-1h0m72-3h0m5 7h0m24-6h0m51-1h0m71 3h0m2 2h0m0 1h0m35 4h0m33-9h0m24 8h0m9 1h0m6-7h0m38 8h0m45-10h0m37-1h0m9 11h0m19-7h0m65 0h0m22-3h0m8 5h0m71 0h0m5 1h0m5-2h0m43 0h0m147 3h0m16-5h0m15 3h0m7 3h0m22 2h0m36-11h0m53 10h0m54 2h0m8-6h0m69 4h0m30 1h0m40-5h0m15-3h0m0 6h0m20-4h0m5-3h0m9-1h0m8 4h0m3 4h0m60-5h0m32 3h0m68-3h0m20 8h0m23-13h0m102 10h0m22-10h0m144 7h0m31 3h0m16-5h0m55 8h0m4 0h0m101-2h0m1-7h0m49-1h0m68-3h0m1 1h0m12 0h0m43 2h0m17-2h0m22 3h0m15 4h0m7-4h0m172 4h0m58 0h0m89-3h0m13 3h0m11 1h0m46-8h0m8 2h0m61 9h0m94-9h0m183 11h0"/><path stroke="#ae6767" stroke-width="5.8" d="m411 1391h0m185-2h0m9-3h0m621 7h0m866-7h0m686-1h0m631 9h0m408-2h0m143-5h0m49-3h0m53 6h0m60 4h0m269-2h0m212-3h0m245 3h0"/><path stroke="#8989ba" stroke-width="5.8" d="m310 1025h0m88-4h0m183 5h0m40-5h0m97 3h0m19-9h0m62 1h0m32 0h0m201 5h0m25-7h0m55 1h0m89 6h0m36 0h0m72-2h0m20-5h0m200 11h0m11 0h0m241-5h0m32 5h0m43-1h0m34-1h0m58 0h0m77 2h0m4-9h0m94-1h0m59 5h0m59 5h0m46 1h0m1-10h0m21 3h0m1 0h0m2-3h0m24 7h0m18-5h0m100-4h0m7 11h0m65-3h0m510-7h0m94 0h0m232 7h0m31 1h0m104-3h0m339 3h0m2 0h0m14 3h0m210-7h0m124 6h0m294-10h0m77 7h0"/><path stroke="#c7b1b1" stroke-width="5.8" d="m267 1241h0m16 3h0m26-11h0m61 10h0m47-8h0m58 2h0m32 1h0m3 2h0m51-5h0m17 0h0m4-1h0m10 8h0m13-9h0m48 10h0m13-4h0m18 5h0m43-1h0m16-3h0m17 2h0m22-9h0m22 12h0m6 0h0m141-13h0m14 6h0m1-2h0m13 9h0m29-5h0m24 3h0m22-8h0m52 1h0m2 7h0m20-10h0m78 5h0m26-5h0m39-1h0m5 2h0m15 5h0m17-6h0m195 10h0m24-6h0m75-1h0m9-4h0m2 6h0m85-5h0m59 1h0m23 3h0m49 7h0m8-2h0m54-4h0m38-2h0m68 1h0m7 1h0m55 2h0m31-6h0m2 9h0m115-9h0m33-1h0m6 4h0m27 6h0m65 0h0m26-9h0m26 9h0m16-4h0m52-6h0m100 2h0m28-3h0m46 5h0m101-5h0m46 1h0m53 10h0m106-2h0m97-7h0m8 2h0m2 5h0m68 0h0m19 3h0m27-2h0m55-5h0m32 2h0m63-1h0m19-2h0m7 9h0m28-4h0m1 2h0m20-3h0m20-3h0m6 6h0m6-5h0m85-3h0m24 1h0m117 1h0m6-5h0m14 11h0m44-8h0m33 7h0m15-1h0m73 2h0m0-7h0m98-2h0m40 8h0m8-7h0m32 3h0m1 6h0m13-9h0m15 8h0m50-11h0m2 2h0m40 0h0m10-2h0m6 9h0m6-5h0m1 2h0m0 4h0m5-6h0m11 4h0m16-5h0m1 3h0m71 1h0m52-6h0m14 8h0m9-3h0m9-1h0m1-4h0m36 8h0m19 4h0m18-9h0m101 2h0m39-1h0m12 1h0m32 3h0m1-8h0m4 8h0m7 0h0m12-3h0m5 3h0m0 2h0m16-4h0m25-7h0m32 1h0m9 5h0m11-5h0m30 4h0m85 1h0"/><path stroke="#c5aaaa" stroke-width="5.8" d="m253 1250h0m30 3h0m2 6h0m38-12h0m1 12h0m54-5h0m130-5h0m6 0h0m1 6h0m5-7h0m8-1h0m6 12h0m45-3h0m4-6h0m33-2h0m49 8h0m3 0h0m16-1h0m51 2h0m5-7h0m47 5h0m76-4h0m55-1h0m63 4h0m67 2h0m2-2h0m4-7h0m66 7h0m29-3h0m159 0h0m26 6h0m127 0h0m5-3h0m45-2h0m136-3h0m49-3h0m6 5h0m8 4h0m4-9h0m83 4h0m55-2h0m40-1h0m1 3h0m8-4h0m34 11h0m2-11h0m7 12h0m59-9h0m107-2h0m187 0h0m35 4h0m31-2h0m60 6h0m39-1h0m7-6h0m5 1h0m23-1h0m22 3h0m31-5h0m68 9h0m1-2h0m4 1h0m15-3h0m162 0h0m1-4h0m122 2h0m8 1h0m94 1h0m26 4h0m4-4h0m11 5h0m4-3h0m4 4h0m0 0h0m60-7h0m13-1h0m0-1h0m3-3h0m5 8h0m24 6h0m62-10h0m17 8h0m7 2h0m2-13h0m67 2h0m84 4h0m95-5h0m129 4h0m35-4h0m16 8h0m27-4h0m4-4h0m18 3h0m67 5h0m10-3h0m32-2h0m1 5h0m32-1h0m7 1h0m67 1h0m9 3h0m1-13h0m1 8h0m0-4h0m35 0h0m14 3h0m24 0h0m38 3h0m8 2h0m0-5h0m59-3h0m4 6h0m30-6h0m50-1h0m3 3h0m33-3h0m9-1h0m19 9h0m23 1h0m15-3h0m8 1h0m30-2h0m3-2h0m2 0h0m166 5h0m0-6h0m10 3h0m43-5h0m0 7h0m2-5h0m12 3h0m34-7h0m0 2h0m2 3h0m28-3h0m21-1h0m17-3h0m40 2h0m83 10h0m4-10h0m17 12h0m2-4h0"/><path stroke="#c3a4a4" stroke-width="5.8" d="m305 1260h0m15 4h0m5-4h0m147 9h0m49-9h0m56 1h0m3 6h0m18 5h0m0-3h0m3 3h0m77-6h0m2-1h0m5 3h0m14-8h0m2 8h0m12-4h0m1 2h0m145 0h0m6 6h0m7 0h0m66-3h0m74-10h0m19 2h0m9 8h0m36 2h0m91 0h0m25-10h0m3 5h0m92 0h0m19-7h0m21 5h0m18-2h0m58-1h0m79 3h0m276 7h0m89-10h0m54 0h0m5 7h0m32 4h0m5-3h0m296-4h0m144 3h0m137-1h0m8-8h0m36 10h0m58-2h0m17-7h0m6-1h0m3 3h0m54 9h0m4-8h0m9 3h0m17-7h0m66 9h0m3-4h0m1 3h0m117-5h0m46 10h0m3-5h0m25-4h0m41 1h0m4 7h0m79 0h0m12-8h0m14 6h0m8-8h0m4 7h0m87-2h0m0 0h0m58 0h0m105-6h0m6 12h0m79-5h0m58 3h0m24-2h0m7-8h0m21 0h0m76 8h0m1 3h0m127-1h0m41-11h0m26 0h0m3 0h0m86 8h0m1-4h0m5-2h0m4 1h0m35 6h0m9-2h0m2-5h0m37 7h0m19 3h0m11-5h0m5-3h0m35 5h0m14-8h0m11 12h0m1 0h0m23-13h0m5 9h0m10-1h0m47-8h0m83 5h0m0-4h0m6 8h0m7-5h0m1-2h0m3 0h0m6 6h0m39 2h0m4 0h0m145 0h0m1-9h0m17 8h0m5-5h0m47 8h0m16-10h0m31-1h0m22 9h0m48-4h0m14 7h0m19-11h0m8 11h0m106-1h0"/><path stroke="#ba8989" stroke-width="5.8" d="m285 1322h0m235 5h0m258 0h0m92-10h0m115 9h0m38-12h0m270 1h0m202 6h0m104 0h0m659-1h0m147-1h0m350-2h0m48 4h0m242 0h0m261-2h0m161-2h0m278-2h0m70 2h0m118 5h0m46 1h0m61 1h0m20 1h0m102-1h0m12-1h0m5-3h0m2 1h0m195 0h0m1 5h0m3 0h0m4-10h0m2 10h0m6-5h0m82-3h0m142 8h0m26 0h0"/><path stroke="#b06e6e" stroke-width="5.8" d="m265 1372h0m237 9h0m529-5h0m26 3h0m1693 1h0m56 0h0m226 1h0m23-10h0m138 8h0m810-5h0m90 7h0m37-7h0m187 7h0m170-3h0m122 4h0m35-13h0m231 8h0"/><path stroke="#7474b3" stroke-width="5.8" d="m262 981h0m408-1h0m192-7h0m160 9h0m39-10h0m35 0h0m196 10h0m156-1h0m157-6h0m6 10h0m442-4h0m235-4h0m8 2h0m114 5h0m496-11h0m65 6h0m245-2h0m161 6h0m190-3h0m543-6h0m16 11h0"/><path stroke="#6e6eb0" stroke-width="5.8" d="m299 962h0m885-2h0m13 4h0m133 3h0m580 2h0m223-3h0m74-1h0m24-6h0m8 7h0m119-2h0m555 4h0m939-4h0m4 3h0m370 2h0m251-10h0m404 3h0"/><path stroke="#a03e3e" stroke-width="5.8" d="m590 1477h0"/><path stroke="#5959aa" stroke-width="5.8" d="m507 930h0m1311-4h0m3-8h0m306 3h0m109 3h0m116-4h0m423-2h0m1692 4h0"/><path stroke="#a54c4c" stroke-width="5.8" d="m486 1438h0m3493 10h0m636-8h0m165-2h0"/><path stroke="#8f8fbc" stroke-width="5.8" d="m511 1038h0m187-6h0m181-1h0m11 6h0m223-7h0m71 5h0m221 3h0m238 2h0m139-1h0m108-3h0m112-2h0m152-6h0m10 2h0m46-3h0m2 8h0m24-5h0m3 7h0m11-8h0m40-2h0m4 9h0m49-8h0m112 1h0m18 7h0m9 3h0m18-8h0m37 3h0m435 5h0m65-8h0m54-3h0m1 7h0m98-3h0m53 6h0m64-11h0m1 7h0m204-7h0m7 13h0m50-3h0m30-6h0m129 1h0m109 6h0m194-8h0m46 9h0m334-5h0m61-7h0m6 12h0m62-1h0"/><path stroke="#6767ae" stroke-width="5.8" d="m619 946h0m229 8h0m283 1h0m260 3h0m374-12h0m50 6h0m85-3h0m89 2h0m171 6h0m645-9h0m565 3h0m715-2h0m139-3h0m76 12h0"/><path stroke="#3e3ea0" stroke-width="5.8" d="m668 870h0m2498-5h0"/><path stroke="#ac6060" stroke-width="5.8" d="m681 1397h0m150 2h0m672 6h0m1702-7h0m947 3h0m668 1h0"/><path stroke="#aa5959" stroke-width="5.8" d="m812 1413h0m688-3h0m1117 9h0m2047-2h0"/><path stroke="#6060ac" stroke-width="5.8" d="m1026 939h0m320 3h0m529-11h0m265 10h0m68-10h0m30 5h0m74-1h0m1335 2h0m197 5h0m323 0h0"/><path stroke="#7b7bb5" stroke-width="5.8" d="m1303 997h0m30-9h0m251 9h0m324-2h0m246-4h0m202 2h0m268-5h0m424 10h0m79-13h0m112 0h0m154 12h0m77-5h0m89-1h0m667-5h0m148 6h0m51-3h0m188 8h0"/><path stroke="#5353a7" stroke-width="5.8" d="m2174 914h0m15-3h0m600 5h0"/><path stroke="#a75353" stroke-width="5.8" d="m2154 1433h0m814-4h0m244-3h0m828-1h0m326 8h0"/><path stroke="#2a2a99" stroke-width="5.8" d="m2134 824h0"/><path stroke="#38389e" stroke-width="5.8" d="m2623 850h0"/><path stroke="#9e3838" stroke-width="5.8" d="m2770 1483h0m1343 4h0m216-5h0"/><path stroke="#4c4ca5" stroke-width="5.8" d="m3051 895h0m1411 5h0"/><path stroke="#972323" stroke-width="5.8" d="m3405 1531h0"/><path stroke="#4545a3" stroke-width="5.8" d="m3856 881h0"/><path stroke="#a34545" stroke-width="5.8" d="m3962 1452h0m402 1h0m285 7h0"/><path stroke="#9c3131" stroke-width="5.8" d="m4138 1495h0"/><path stroke="#992a2a" stroke-width="5.8" d="m4796 1518h0"/><path stroke="#02028c" stroke-width="6.4" d="m2154 745h0"/><path stroke="#5353a7" stroke-width="8" d="m3825 913h0"/><path stroke="#b37474" stroke-width="8" d="m421 1367h0"/><path stroke="#c5c5ce" stroke-width="8.8" d="m276 1142h0m33 2h0m235 2h0m39 3h0m96 0h0m1-4h0m2-4h0m187 7h0m33 0h0m91 1h0m105-10h0m72-1h0m156-1h0m39 9h0m112-4h0m26 4h0m232-6h0m82 0h0m45-3h0m87-1h0m167 5h0m95-2h0m26 5h0m226-7h0m1 6h0m7 2h0m53 3h0m267-9h0m96 9h0m134-3h0m136 3h0m15 0h0m27-12h0m208 8h0m72 2h0m126-3h0m260-3h0m369-1h0m96 6h0m32-2h0m56-7h0"/><path stroke="#cab8b8" stroke-width="8.8" d="m283 1228h0m212-10h0m30 2h0m172 4h0m4-3h0m307 5h0m47-1h0m453-6h0m70 0h0m59 6h0m434-2h0m292 2h0m256-4h0m83 1h0m60-2h0m36 10h0m55-7h0m32-5h0m60 7h0m59-1h0m128 5h0m3-7h0m45 4h0m108 1h0m92-4h0m262-3h0m81 6h0m36 3h0m4-4h0m442 1h0m121 1h0m238-6h0m178 3h0m43 2h0"/><path stroke="#cec5c5" stroke-width="8.8" d="m257 1197h0m35 4h0m39-10h0m140 2h0m40-1h0m67 11h0m14-3h0m92-5h0m122-4h0m219 1h0m106 8h0m26 2h0m303-1h0m121 2h0m126-9h0m30 8h0m125-4h0m660-5h0m70 6h0m272 1h0m266 4h0m28-11h0m255 1h0m290 10h0m38 0h0m410-13h0m91 7h0m223 0h0m288 1h0"/><path stroke="#d1cccc" stroke-width="8.8" d="m260 1185h0m2-1h0m6 3h0m30-6h0m30 9h0m30-1h0m15-11h0m20 0h0m4 8h0m4-2h0m13 6h0m194 0h0m34-3h0m166 3h0m13-11h0m55 7h0m0-5h0m24 0h0m110 2h0m46-5h0m58 2h0m12 0h0m40 1h0m1-3h0m62 9h0m17-9h0m28 5h0m219-1h0m124 4h0m68 0h0m219-7h0m118 5h0m68-6h0m321 0h0m82 3h0m86 9h0m182-3h0m40-7h0m23-1h0m3 4h0m31-2h0m72 0h0m243 2h0m70 5h0m66-1h0m65 3h0m37-5h0m347-2h0m84 3h0m137 4h0m103-5h0m101-8h0m198 2h0m374 5h0m100-1h0"/><path stroke="#ccccd1" stroke-width="8.8" d="m322 1150h0m72 6h0m25-6h0m9 13h0m157-5h0m282-8h0m50 12h0m64-10h0m44 6h0m12-5h0m18 1h0m171 0h0m141 5h0m276 3h0m54-5h0m142 3h0m23 0h0m33-10h0m190 2h0m93 8h0m454 1h0m302 2h0m34-10h0m209 5h0m29-1h0m37 5h0m6-10h0m170 6h0m74-7h0m6 12h0m50-8h0m194-4h0m13 5h0m366 7h0m20-2h0m9-1h0m27-3h0m49-3h0m56 4h0m8 3h0m89-6h0m33-3h0m63 5h0m56 3h0m29-1h0m80-8h0"/><path stroke="#c7b1b1" stroke-width="8.8" d="m309 1240h0m87-7h0m95 2h0m23 0h0m76 0h0m155 4h0m67 3h0m445-5h0m11 4h0m739-2h0m27-5h0m667 3h0m102 3h0m22-7h0m8 3h0m470-3h0m110 0h0m53 2h0m503 2h0m3 2h0m111-5h0m73 11h0m168-12h0m99 12h0m240-12h0m58 10h0m30 1h0"/><path stroke="#b8b8ca" stroke-width="8.8" d="m288 1108h0m30 13h0m269-8h0m30-3h0m64 9h0m62-5h0m46 7h0m117-3h0m118 0h0m147-9h0m173 8h0m51-2h0m10 4h0m41-8h0m120 10h0m56-2h0m119-10h0m144 5h0m21-4h0m215 11h0m15-4h0m184-1h0m21-7h0m49 7h0m17-7h0m67 9h0m17 1h0m232-7h0m36 1h0m196-4h0m12 7h0m151-3h0m23 7h0m500-11h0m257 13h0m152-13h0m142 5h0m258 7h0m26-1h0m148-2h0"/><path stroke="#a4a4c3" stroke-width="8.8" d="m315 1078h0m363-3h0m243-7h0m113 11h0m25-5h0m14-3h0m124 7h0m705-7h0m110 7h0m194 1h0m1 0h0m54 2h0m16-13h0m133 0h0m550 0h0m460 7h0m155-5h0m28 1h0m857-1h0m10-1h0m1 12h0"/><path stroke="#d3d3d3" stroke-width="8.8" d="m262 1173h0m54-9h0m2 4h0m358 1h0m102 5h0m117-10h0m11 4h0m172 0h0m213 7h0m27-7h0m13-1h0m144 5h0m238 3h0m86-10h0m48 5h0m83-4h0m76 10h0m118-5h0m87 2h0m57 0h0m26-2h0m43 0h0m95-1h0m41-2h0m60 0h0m1 0h0m3 0h0m162 6h0m26-2h0m35-3h0m13 2h0m18-3h0m9-4h0m31 1h0m30 11h0m64-10h0m11 6h0m2-9h0m14 9h0m194-3h0m47 5h0m8-6h0m111 6h0m10-9h0m31-1h0m50 6h0m198-6h0m43 5h0m0-2h0m85 10h0m91-13h0m75 2h0m81 7h0m28 1h0m71-11h0m2 8h0m8 3h0m226 3h0m73-11h0m37 2h0m59 6h0"/><path stroke="#b1b1c7" stroke-width="8.8" d="m256 1101h0m523 3h0m62 1h0m373-3h0m27 0h0m103-2h0m43 8h0m34-9h0m154-1h0m247 7h0m165 0h0m11-10h0m12 9h0m90 1h0m113 2h0m24-3h0m154-2h0m3-1h0m127-2h0m445 4h0m2 0h0m153-7h0m375 3h0m29 8h0m342-12h0m12 3h0m82-2h0m225 7h0m51-6h0m79 0h0m207 7h0"/><path stroke="#ccbfbf" stroke-width="8.8" d="m321 1215h0m152-10h0m482 0h0m80 7h0m131-6h0m104-1h0m101 9h0m111-9h0m343 11h0m180-6h0m233 5h0m231-2h0m149 4h0m26-6h0m10 3h0m75-5h0m101 2h0m12 5h0m42-11h0m191 11h0m168-4h0m166 3h0m490-10h0m58 4h0m11 2h0m37 3h0m70 4h0m125-11h0m187-2h0m45 5h0m22 7h0m146-10h0m34 5h0m90-3h0m12 0h0"/><path stroke="#c5aaaa" stroke-width="8.8" d="m389 1255h0m390 1h0m449-2h0m249-4h0m21 5h0m262-4h0m399-5h0m238 0h0m210 10h0m211 3h0m236-3h0m16-6h0m50 2h0m72 5h0m210-8h0m448-2h0m114 7h0m162-6h0m23 1h0m387 0h0m64 0h0m240-3h0"/><path stroke="#be9696" stroke-width="8.8" d="m425 1299h0m2179-11h0m112 11h0m110-11h0m298 10h0m13-8h0m227 4h0m676 5h0m329-6h0"/><path stroke="#aaaac5" stroke-width="8.8" d="m255 1085h0m59 4h0m307 0h0m390-3h0m108-2h0m151 5h0m71-4h0m182 5h0m117-7h0m121 9h0m73-1h0m27 0h0m137 1h0m139-5h0m75-4h0m98 9h0m80-7h0m73 7h0m145-4h0m12-4h0m405 1h0m217 1h0m62-2h0m237 3h0m934 3h0m277 5h0"/><path stroke="#9d9dc1" stroke-width="8.8" d="m315 1056h0m796 5h0m595-5h0m203 9h0m95-5h0m2-2h0m515 2h0m1561 0h0m153-3h0m239-2h0"/><path stroke="#8989ba" stroke-width="8.8" d="m536 1026h0m2104-2h0m880 0h0"/><path stroke="#bfbfcc" stroke-width="8.8" d="m574 1131h0m13-3h0m2 7h0m189-9h0m50-3h0m48 1h0m326 5h0m245-3h0m200 8h0m234-8h0m243 4h0m54-2h0m197-5h0m97 0h0m24 2h0m32 0h0m91-2h0m103-1h0m238 10h0m120-6h0m68 3h0m92-3h0m605-1h0m7 0h0m55 1h0m38 8h0m425-2h0m31-6h0m61 1h0"/><path stroke="#bc8f8f" stroke-width="8.8" d="m526 1304h0m1308-1h0m2310 2h0m186 9h0m36-14h0m396 7h0m103 2h0"/><path stroke="#aa5959" stroke-width="8.8" d="m568 1415h0"/><path stroke="#ba8989" stroke-width="8.8" d="m678 1315h0m130 3h0m1769 4h0m1543-3h0"/><path stroke="#c3a4a4" stroke-width="8.8" d="m714 1263h0m1742-1h0m14 3h0m52-3h0m1616 10h0m17-6h0m11-4h0m55 4h0m94-1h0m21 7h0m218-3h0m46-8h0m244 6h0m33 4h0"/><path stroke="#c19d9d" stroke-width="8.8" d="m876 1279h0m304-4h0m47 3h0m877-3h0m1092 0h0m73 9h0m35-11h0m115 2h0m549 9h0m51-8h0m98-1h0m68 8h0m190 0h0m392-4h0m44-5h0"/><path stroke="#9696be" stroke-width="8.8" d="m915 1050h0m585-7h0m585 5h0m123 4h0m2274-5h0"/><path stroke="#8282b7" stroke-width="8.8" d="m1636 999h0m604 13h0m45-6h0"/><path stroke="#8f8fbc" stroke-width="8.8" d="m2569 1035h0m237-4h0m384 1h0m652 1h0"/><path stroke="#b57b7b" stroke-width="8.8" d="m2764 1352h0m2044-8h0"/><path stroke="#ac6060" stroke-width="8.8" d="m3267 1402h0m24-6h0"/><path stroke="#b06e6e" stroke-width="8.8" d="m4322 1371h0"/><path stroke="#ae6767" stroke-width="8.8" d="m4318 1387h0"/><path stroke="#7b7bb5" stroke-width="8.8" d="m4489 996h0"/><path stroke="#a75353" stroke-width="8.8" d="m4791 1431h0"/><path stroke="#b37474" stroke-width="8.8" d="m4734 1359h0"/><path stroke="#b37474" stroke-width="10" d="m422 1368h0m2365-6h0m687 5h0"/><path stroke="#7b7bb5" stroke-width="10" d="m496 991h0"/><path stroke="#8282b7" stroke-width="10" d="m652 1001h0"/><path stroke="#6767ae" stroke-width="10" d="m934 954h0"/><path stroke="#c19d9d" stroke-width="10" d="m366 1285h0"/><path stroke="#8989ba" stroke-width="10" d="m1941 1026h0"/><path stroke="#be9696" stroke-width="10" d="m1576 1289h0"/><path stroke="#b57b7b" stroke-width="10" d="m3020 1346h0"/><path stroke="#8f8fbc" stroke-width="10" d="m3688 1032h0"/><path stroke="#c3a4a4" stroke-width="11.2" d="m1725 1271h0"/><path stroke="#c19d9d" stroke-width="11.2" d="m2031 1278h0"/><path stroke="#8f8fbc" stroke-width="12" d="m630 1029h0m2564 5h0"/><path stroke="#9d9dc1" stroke-width="12" d="m818 1058h0"/><path stroke="#aaaac5" stroke-width="12" d="m1022 1089h0"/><path stroke="#a4a4c3" stroke-width="12" d="m1904 1073h0"/><path stroke="#b1b1c7" stroke-width="12" d="m2482 1099h0m293 2h0"/><path stroke="#6e6eb0" stroke-width="12" d="m3547 965h0"/><path stroke="#c19d9d" stroke-width="12.8" d="m272 1275h0m38 9h0m767-11h0"/><path stroke="#d1cccc" stroke-width="12.8" d="m252 1178h0m254 12h0m134-6h0m204 0h0m191 4h0m608-5h0m41 3h0m27 4h0m424-10h0m580 7h0m80-3h0m293 5h0m83-1h0m427-6h0m484 1h0m457 7h0m16-9h0m83 9h0"/><path stroke="#be9696" stroke-width="12.8" d="m368 1296h0m3596 1h0"/><path stroke="#c7b1b1" stroke-width="12.8" d="m306 1239h0m728-2h0m862-3h0m1085-1h0m1190 6h0m153 3h0"/><path stroke="#a4a4c3" stroke-width="12.8" d="m396 1071h0m1323 3h0m259 4h0m84-5h0m181-5h0m116 6h0m119-3h0"/><path stroke="#c5aaaa" stroke-width="12.8" d="m323 1252h0m3423 3h0m347 2h0"/><path stroke="#ccccd1" stroke-width="12.8" d="m534 1152h0m71 11h0m349-2h0m241-10h0m453 8h0m243 1h0m103-6h0m532 5h0m36 1h0m238-8h0m222 10h0m575-1h0m2-11h0m64 13h0m16-9h0m284-4h0"/><path stroke="#b1b1c7" stroke-width="12.8" d="m563 1097h0m488 4h0m709-4h0m891 1h0m416 9h0m469-4h0"/><path stroke="#bfbfcc" stroke-width="12.8" d="m607 1136h0m61-1h0m90-8h0m132 8h0m231-11h0m402 4h0m417 3h0m543-1h0m84 4h0m581-3h0m814 0h0m180-6h0m333 2h0"/><path stroke="#b8b8ca" stroke-width="12.8" d="m727 1121h0m583 1h0m412-9h0m184 7h0m39-3h0m193-1h0m50-4h0m295-3h0m46 11h0m388-1h0m1085 3h0"/><path stroke="#d3d3d3" stroke-width="12.8" d="m743 1164h0m37 7h0m177 4h0m64-8h0m14 6h0m271-6h0m24-1h0m520-3h0m929 5h0m15 3h0m68 3h0m814-4h0m447 5h0m2-4h0"/><path stroke="#cec5c5" stroke-width="12.8" d="m935 1199h0m260-4h0m108 1h0m721-1h0m1217-1h0m167 2h0m106 2h0m2-7h0m39 4h0m614 5h0m11-5h0m110 5h0"/><path stroke="#c5c5ce" stroke-width="12.8" d="m1114 1146h0m529-1h0m596-3h0m894 2h0m223-1h0m687-1h0"/><path stroke="#cab8b8" stroke-width="12.8" d="m1053 1219h0m955 8h0m441-8h0m153 1h0m48 0h0m57 1h0m370 5h0m4-4h0m173 1h0m456 2h0m434-2h0m159 1h0m411 3h0"/><path stroke="#6060ac" stroke-width="12.8" d="m1918 941h0"/><path stroke="#8f8fbc" stroke-width="12.8" d="m2208 1030h0"/><path stroke="#ccbfbf" stroke-width="12.8" d="m2304 1205h0m317 11h0m453-6h0m55-3h0m170-2h0m44 6h0m300-3h0m118 9h0m55-13h0m296 4h0m131-1h0m53 7h0"/><path stroke="#8989ba" stroke-width="12.8" d="m2356 1026h0"/><path stroke="#c3a4a4" stroke-width="12.8" d="m2477 1263h0m245 3h0m101-5h0m435 11h0m1120-9h0m431 4h0"/><path stroke="#ba8989" stroke-width="12.8" d="m2817 1327h0m1149-3h0"/><path stroke="#aaaac5" stroke-width="12.8" d="m3410 1087h0m625 7h0"/><path stroke="#ae6767" stroke-width="12.8" d="m3642 1386h0m1093 6h0"/><path stroke="#bc8f8f" stroke-width="12.8" d="m4152 1312h0"/><path stroke="#b78282" stroke-width="12.8" d="m4618 1334h0m21-5h0"/><path stroke="#b37474" stroke-width="12.8" d="m4816 1357h0"/><path stroke="#a4a4c3" stroke-width="14" d="m254 1070h0"/><path stroke="#9d9dc1" stroke-width="14" d="m2329 1064h0"/><path stroke="#b1b1c7" stroke-width="14" d="m1849 1101h0"/><path stroke="#c7b1b1" stroke-width="14" d="m3204 1245h0"/><path stroke="#9696be" stroke-width="16" d="m428 1048h0"/><path stroke="#ccccd1" stroke-width="16" d="m332 1162h0"/><path stroke="#bc8f8f" stroke-width="17.6" d="m282 1308h0"/><path stroke="#c5c5ce" stroke-width="17.6" d="m619 1147h0m170 2h0m986-3h0m976 3h0m247-9h0m247-3h0"/><path stroke="#cab8b8" stroke-width="17.6" d="m1064 1226h0"/><path stroke="#b8b8ca" stroke-width="17.6" d="m1054 1116h0m27 2h0m872 4h0"/><path stroke="#b1b1c7" stroke-width="17.6" d="m1177 1101h0"/><path stroke="#d1cccc" stroke-width="17.6" d="m1496 1179h0m34 0h0m29 9h0m3042-6h0"/><path stroke="#d3d3d3" stroke-width="17.6" d="m1707 1172h0m2141-2h0m172-6h0m362 5h0"/><path stroke="#bfbfcc" stroke-width="17.6" d="m2024 1127h0m320-1h0m559 5h0"/><path stroke="#8f8fbc" stroke-width="17.6" d="m2279 1031h0"/><path stroke="#ccccd1" stroke-width="17.6" d="m2579 1162h0m665-5h0"/><path stroke="#ccbfbf" stroke-width="17.6" d="m2547 1211h0m813 3h0m786-9h0m218 7h0"/><path stroke="#9d9dc1" stroke-width="17.6" d="m3401 1066h0"/><path stroke="#cec5c5" stroke-width="17.6" d="m3541 1202h0"/><path stroke="#c5aaaa" stroke-width="17.6" d="m3953 1248h0m68-1h0"/><path stroke="#c7b1b1" stroke-width="17.6" d="m4055 1235h0"/><path stroke="#c5aaaa" stroke-width="18" d="m271 1255h0"/><path stroke="#7474b3" stroke-width="18.8" d="m1953 978h0"/>
</g>
<path stroke="#00008b" stroke-width="3.1" stroke-linecap="round" fill="none" d="M124 588.3H312.4M314.4 583.9H498.1M500.1 583.3H649.3M651.3 581.6H795.3M797.3 580.4H933.5M935.5 576.5H1064.2M1066.2 552.4H1185.7M1187.7 582.4H1297.5M1299.5 595.2H1405.4M1407.4 585.5H1508.9M1510.9 586.4H1612M1614 588.9H1714.2M1729.9 573.3H1802.2M1818 588.9H1884.2M1900.6 589.3H1962.5M1964.5 602.3H2031.5M2033.5 602.3H2093.5M2095.5 585.5H2153.1M2155.1 619.5H2198.3M2200.3 567.5H2246.4M2254.9 590.2H2283.2M2296.7 617.3H2322.4M2324.4 620.5H2441M2443.5 173.5H2461.4"/>
<g fill="#000"><circle cx="242.8" cy="600.8" r="5.3"/><circle cx="279.2" cy="611.8" r="5.3"/><circle cx="325.5" cy="596.8" r="5.3"/><circle cx="498.5" cy="647.3" r="5.3"/><circle cx="507.2" cy="711.8" r="5.3"/><circle cx="527.2" cy="543.5" r="5.3"/><circle cx="637.5" cy="573.8" r="5.3"/><circle cx="646.9" cy="533.8" r="5.3"/><circle cx="692.2" cy="583.2" r="5.3"/><circle cx="692.2" cy="616.8" r="5.3"/><circle cx="1107.3" cy="527.3" r="5.3"/><circle cx="1107.3" cy="541.3" r="5.3"/><circle cx="1154" cy="517.3" r="5.3"/><circle cx="1302.7" cy="507.2" r="5.3"/><circle cx="1314.7" cy="552" r="5.3"/><circle cx="1314.7" cy="592" r="5.3"/><circle cx="1364.8" cy="569.9" r="5.3"/><circle cx="1474.5" cy="548" r="5.3"/><circle cx="1656.7" cy="576.8" r="5.3"/><circle cx="1665.8" cy="714.3" r="5.3"/><circle cx="1752.5" cy="595.7" r="5.3"/><circle cx="1911" cy="600.7" r="5.3"/><circle cx="1952.4" cy="576.8" r="5.3"/><circle cx="2038" cy="598.5" r="5.3"/><circle cx="2054.7" cy="554.1" r="5.3"/><circle cx="2061.2" cy="627.1" r="5.3"/><circle cx="2165.5" cy="606.2" r="5.3"/><circle cx="2306.8" cy="630.5" r="5.3"/><circle cx="2410.4" cy="735.5" r="5.3"/></g>
<g font-size="25" style="filter:grayscale(1)">
<text transform="translate(251.9 614.4) rotate(-90)" text-anchor="end">NTRK1</text>
<text transform="translate(288.3 625.4) rotate(-90)" text-anchor="end">MDM4</text>
<text transform="translate(334.6 610.4) rotate(-90)" text-anchor="end">MYCN</text>
<text transform="translate(507.6 660.9) rotate(-90)" text-anchor="end">PDCD1</text>
<text transform="translate(516.3 725.4) rotate(-90)" text-anchor="end">VHL</text>
<text transform="translate(536.3 529.5) rotate(-90)">MLH1</text>
<text transform="translate(646.6 559.8) rotate(-90)">SOX2</text>
<text transform="translate(656 519.8) rotate(-90)">OPA1</text>
<text transform="translate(701.3 569.2) rotate(-90)">PDGFRA</text>
<text transform="translate(701.3 630.4) rotate(-90)" text-anchor="end">KIT</text>
<text transform="translate(1116.4 513.3) rotate(-90)">EGFRvIII</text>
<text transform="translate(1116.4 527.3) rotate(-90)">EGFR</text>
<text transform="translate(1163.1 503.3) rotate(-90)">MET</text>
<text transform="translate(1311.8 493.2) rotate(-90)">CD274</text>
<text transform="translate(1323.8 538) rotate(-90)">CDKN2B</text>
<text transform="translate(1323.8 605.6) rotate(-90)" text-anchor="end">CDKN2A</text>
<text transform="translate(1373.9 555.9) rotate(-90)">NTRK2</text>
<text transform="translate(1483.6 534) rotate(-90)">PTEN</text>
<text transform="translate(1665.8 562.8) rotate(-90)">CDK4</text>
<text transform="translate(1674.9 727.9) rotate(-90)" text-anchor="end">MDM2</text>
<text transform="translate(1761.6 609.3) rotate(-90)" text-anchor="end">RB1</text>
<text transform="translate(1920.1 614.3) rotate(-90)" text-anchor="end">NUTM1</text>
<text transform="translate(1961.5 562.8) rotate(-90)">NTRK3</text>
<text transform="translate(2047.1 612.1) rotate(-90)" text-anchor="end">TP53</text>
<text transform="translate(2063.8 540.1) rotate(-90)">NF1</text>
<text transform="translate(2070.3 640.7) rotate(-90)" text-anchor="end">ERBB2</text>
<text transform="translate(2174.6 619.8) rotate(-90)" text-anchor="end">BRD4</text>
<text transform="translate(2315.9 644.1) rotate(-90)" text-anchor="end">NF2</text>
<text transform="translate(2419.5 749.1) rotate(-90)" text-anchor="end">IL13RA2</text>
</g>
<path stroke="#000" stroke-width="1.6" d="M1119.7 443.5V458.5"/>
</g>
<g font-size="25" text-anchor="end" style="filter:grayscale(1)">
<text x="93" y="182.9">1.2</text>
<text x="93" y="319.7">0.8</text>
<text x="93" y="456.6">0.4</text>
<text x="93" y="593.4">0.0</text>
<text x="93" y="730.2">−0.4</text>
<text x="93" y="867.1">−0.8</text>
<text x="93" y="1003.9">−1.2</text>
<text transform="translate(227.1 1076.6) rotate(-90)">chr1</text>
<text transform="translate(415.1 1076.6) rotate(-90)">chr2</text>
<text transform="translate(583.6 1076.6) rotate(-90)">chr3</text>
<text transform="translate(732.2 1076.6) rotate(-90)">chr4</text>
<text transform="translate(874.3 1076.6) rotate(-90)">chr5</text>
<text transform="translate(1008.8 1076.6) rotate(-90)">chr6</text>
<text transform="translate(1134.9 1076.6) rotate(-90)">chr7</text>
<text transform="translate(1251.5 1076.6) rotate(-90)">chr8</text>
<text transform="translate(1361.3 1076.6) rotate(-90)">chr9</text>
<text transform="translate(1467 1076.6) rotate(-90)">chr10</text>
<text transform="translate(1570.3 1076.6) rotate(-90)">chr11</text>
<text transform="translate(1673 1076.6) rotate(-90)">chr12</text>
<text transform="translate(1768.1 1076.6) rotate(-90)">chr13</text>
<text transform="translate(1853.1 1076.6) rotate(-90)">chr14</text>
<text transform="translate(1933.2 1076.6) rotate(-90)">chr15</text>
<text transform="translate(2006.9 1076.6) rotate(-90)">chr16</text>
<text transform="translate(2072.4 1076.6) rotate(-90)">chr17</text>
<text transform="translate(2133.2 1076.6) rotate(-90)">chr18</text>
<text transform="translate(2185.6 1076.6) rotate(-90)">chr19</text>
<text transform="translate(2232.3 1076.6) rotate(-90)">chr20</text>
<text transform="translate(2274.7 1076.6) rotate(-90)">chr21</text>
<text transform="translate(2312.7 1076.6) rotate(-90)">chr22</text>
<text transform="translate(2391.6 1076.6) rotate(-90)">chrX</text>
<text transform="translate(2473.5 1076.6) rotate(-90)">chrY</text>
</g>
</svg></body></html>
